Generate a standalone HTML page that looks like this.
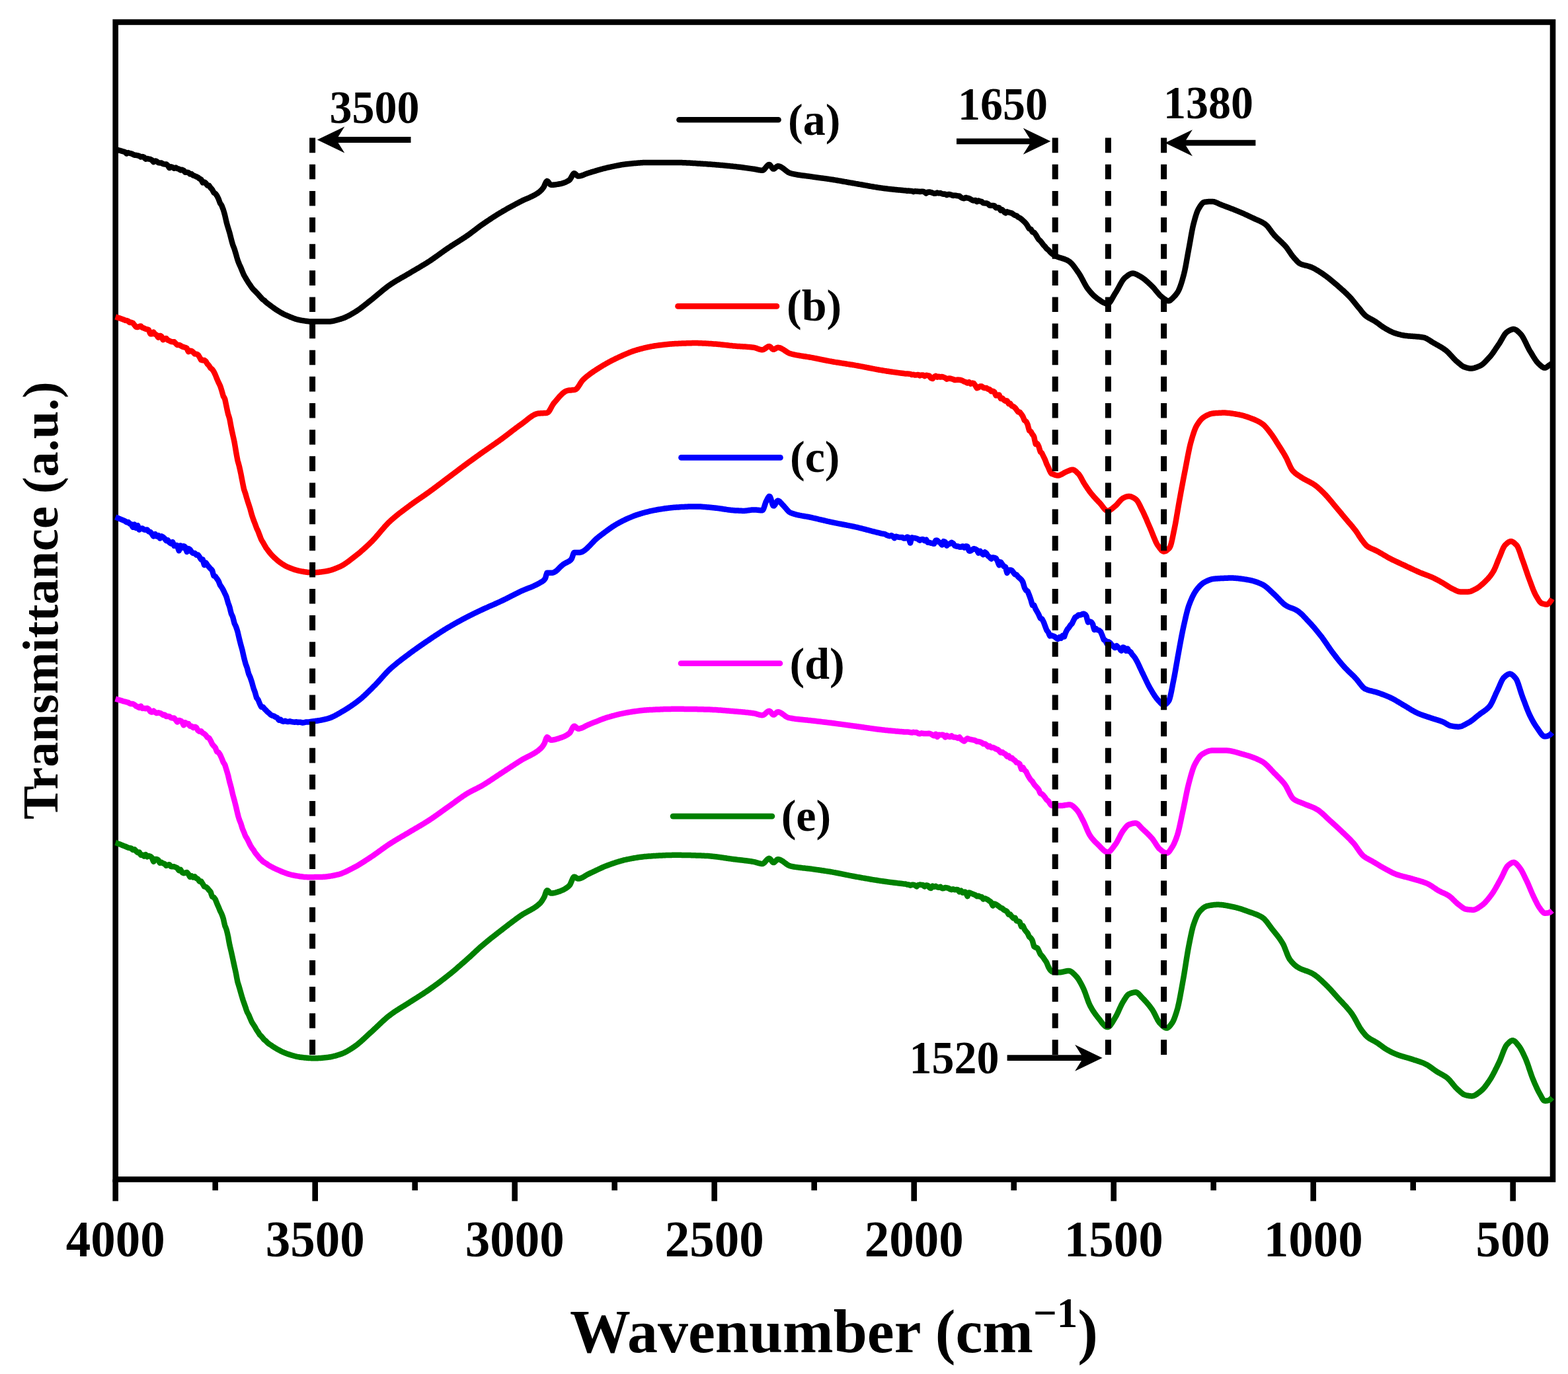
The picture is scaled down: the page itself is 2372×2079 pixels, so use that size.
<!DOCTYPE html>
<html lang="en">
<head>
<meta charset="utf-8">
<title>FTIR spectra</title>
<style>
html,body{margin:0;padding:0;background:#fff;}
body{width:2372px;height:2079px;overflow:hidden;}
svg{display:block;}
text{font-family:'Liberation Serif',serif;font-weight:bold;}
</style>
</head>
<body>
<svg width="2372" height="2079" viewBox="0 0 2372 2079">
<rect x="0" y="0" width="2372" height="2079" fill="#ffffff"/>
<rect x="174.7" y="33.5" width="2174.3" height="1751.0" fill="none" stroke="#000" stroke-width="8.6"/>
<g fill="none" stroke-width="8.5" stroke-linejoin="round" stroke-linecap="butt">
<path stroke="#000000" d="M174.7,225.9 L175.9,226.2 L177.1,226.6 L178.3,226.9 L179.5,227.3 L180.7,227.6 L181.9,227.9 L183.1,228.3 L184.3,228.6 L185.5,229.0 L186.7,229.3 L187.9,229.6 L189.1,230.1 L190.3,231.2 L191.5,232.4 L192.7,231.8 L193.9,231.1 L195.1,231.5 L196.3,231.8 L197.5,232.1 L198.7,232.4 L199.9,233.0 L201.1,233.5 L202.3,234.1 L203.5,234.7 L204.7,234.7 L205.9,234.8 L207.1,235.1 L208.3,235.3 L209.5,235.6 L210.7,236.0 L211.9,236.8 L213.1,237.5 L214.3,237.2 L215.5,237.1 L216.7,237.3 L217.9,237.8 L219.1,239.4 L220.3,240.6 L221.5,240.2 L222.7,239.9 L223.9,240.3 L225.1,240.6 L226.3,240.7 L227.5,240.9 L228.7,241.6 L229.9,242.4 L231.1,243.9 L232.3,245.0 L233.5,244.1 L234.7,243.4 L235.9,243.7 L237.1,244.2 L238.3,245.2 L239.5,246.1 L240.7,246.4 L241.9,246.6 L243.1,246.5 L244.3,246.6 L245.5,247.4 L246.7,248.1 L247.9,248.3 L249.1,248.4 L250.3,248.4 L251.5,248.5 L252.7,249.4 L253.9,250.4 L255.1,252.5 L256.3,254.1 L257.5,253.1 L258.7,252.3 L259.9,252.6 L261.1,253.1 L262.3,254.1 L263.5,254.8 L264.7,254.1 L265.9,253.6 L267.1,254.4 L268.3,255.1 L269.5,255.4 L270.7,255.7 L271.9,256.7 L273.1,257.4 L274.3,257.0 L275.5,256.8 L276.7,257.3 L277.9,258.0 L279.1,259.5 L280.3,260.8 L281.5,260.8 L282.7,260.8 L283.9,260.8 L285.1,261.1 L286.3,262.4 L287.5,263.4 L288.7,263.2 L289.9,263.3 L291.1,264.4 L292.3,265.4 L293.5,265.8 L294.7,266.2 L295.9,266.8 L297.1,267.4 L298.3,267.8 L299.5,268.3 L300.7,269.5 L301.9,270.5 L303.1,270.9 L304.3,271.6 L305.5,274.2 L306.7,276.3 L307.9,275.8 L309.1,275.5 L310.3,276.2 L311.5,277.2 L312.7,279.2 L313.9,280.8 L315.1,280.6 L316.3,280.8 L317.5,282.6 L318.7,284.4 L319.9,285.5 L321.1,286.9 L322.3,289.3 L323.5,291.5 L324.7,292.2 L325.9,293.0 L327.1,294.6 L328.3,296.4 L329.5,298.7 L330.7,301.3 L331.9,304.6 L333.1,307.7 L334.3,309.3 L335.5,311.2 L336.7,314.4 L337.9,317.6 L339.1,321.6 L340.3,326.1 L341.5,331.4 L342.7,336.6 L343.9,340.9 L345.1,344.9 L346.3,348.7 L347.5,352.7 L348.7,357.5 L349.9,362.3 L351.1,366.8 L352.3,370.9 L353.5,373.8 L354.7,377.0 L355.9,381.0 L357.1,385.0 L358.3,389.4 L359.5,393.4 L360.7,396.7 L361.9,399.7 L363.1,402.3 L364.3,404.9 L365.5,407.9 L366.7,410.8 L367.9,413.7 L369.1,416.4 L370.3,418.5 L371.5,420.5 L372.7,422.6 L373.9,424.6 L375.1,426.5 L376.3,428.4 L377.5,430.1 L378.7,431.8 L379.9,433.6 L381.1,435.3 L382.3,436.8 L383.5,438.2 L384.7,439.4 L385.9,440.5 L387.1,441.8 L388.3,443.1 L389.5,444.3 L390.7,445.6 L391.9,447.0 L393.1,448.3 L394.3,449.7 L395.5,451.0 L396.7,452.2 L397.9,453.4 L399.1,454.1 L400.3,455.0 L401.5,456.3 L402.7,457.4 L403.9,458.4 L405.1,459.3 L406.3,460.2 L407.5,461.1 L408.7,462.0 L409.9,462.9 L411.1,463.8 L412.3,464.7 L413.5,465.6 L414.7,466.4 L415.9,467.3 L417.1,468.1 L418.3,468.9 L419.5,469.7 L420.7,470.4 L421.9,471.2 L423.1,471.9 L424.3,472.6 L425.5,473.3 L426.7,473.9 L427.9,474.6 L429.1,475.2 L430.3,475.8 L431.5,476.3 L432.7,476.8 L433.9,477.4 L435.1,477.9 L436.3,478.4 L437.5,478.9 L438.7,479.5 L439.9,479.9 L441.1,480.4 L442.3,480.9 L443.5,481.3 L444.7,481.8 L445.9,482.2 L447.1,482.6 L448.3,483.0 L449.5,483.3 L450.7,483.6 L451.9,483.9 L453.1,484.2 L454.3,484.4 L455.5,484.7 L456.7,484.9 L457.9,485.1 L459.1,485.2 L460.3,485.4 L461.5,485.6 L462.7,485.8 L463.9,486.0 L465.1,486.1 L466.3,486.2 L467.5,486.4 L468.7,486.4 L469.9,486.5 L471.1,486.6 L472.3,486.6 L473.5,486.6 L474.7,486.6 L475.9,486.6 L477.1,486.6 L478.3,486.6 L479.5,486.6 L480.7,486.6 L481.9,486.6 L483.1,486.6 L484.3,486.6 L485.5,486.6 L486.7,486.6 L487.9,486.6 L489.1,486.6 L490.3,486.6 L491.5,486.6 L492.7,486.6 L493.9,486.6 L495.1,486.6 L496.3,486.6 L497.5,486.6 L498.7,486.5 L499.9,486.4 L501.1,486.2 L502.3,486.1 L503.5,485.8 L504.7,485.6 L505.9,485.3 L507.1,485.0 L508.3,484.7 L509.5,484.4 L510.7,484.0 L511.9,483.7 L513.1,483.3 L514.3,483.0 L515.5,482.6 L516.7,482.2 L517.9,481.9 L519.1,481.4 L520.3,481.0 L521.5,480.5 L522.7,480.0 L523.9,479.4 L525.1,478.8 L526.3,478.2 L527.5,477.6 L528.7,477.0 L529.9,476.3 L531.1,475.6 L532.3,474.9 L533.5,474.3 L534.7,473.5 L535.9,472.8 L537.1,472.1 L538.3,471.4 L539.5,470.6 L540.7,469.8 L541.9,469.0 L543.1,468.2 L544.3,467.3 L545.5,466.4 L546.7,465.5 L547.9,464.6 L549.1,463.7 L550.3,462.7 L551.5,461.8 L552.7,460.8 L553.9,459.9 L555.1,458.9 L556.3,457.9 L557.5,457.0 L558.7,456.0 L559.9,455.1 L561.1,454.2 L562.3,453.2 L563.5,452.3 L564.7,451.3 L565.9,450.3 L567.1,449.3 L568.3,448.3 L569.5,447.3 L570.7,446.3 L571.9,445.3 L573.1,444.3 L574.3,443.3 L575.5,442.3 L576.7,441.3 L577.9,440.3 L579.1,439.3 L580.3,438.3 L581.5,437.3 L582.7,436.4 L583.9,435.5 L585.1,434.5 L586.3,433.6 L587.5,432.7 L588.7,431.9 L589.9,431.0 L591.1,430.2 L592.3,429.4 L593.5,428.6 L594.7,427.9 L595.9,427.1 L597.1,426.4 L598.3,425.6 L599.5,424.9 L600.7,424.2 L601.9,423.5 L603.1,422.8 L604.3,422.1 L605.5,421.4 L606.7,420.7 L607.9,420.0 L609.1,419.3 L610.3,418.6 L611.5,418.0 L612.7,417.3 L613.9,416.6 L615.1,415.9 L616.3,415.2 L617.5,414.5 L618.7,413.8 L619.9,413.1 L621.1,412.3 L622.3,411.6 L623.5,410.9 L624.7,410.2 L625.9,409.5 L627.1,408.8 L628.3,408.1 L629.5,407.4 L630.7,406.7 L631.9,406.0 L633.1,405.3 L634.3,404.6 L635.5,403.9 L636.7,403.2 L637.9,402.4 L639.1,401.7 L640.3,401.0 L641.5,400.3 L642.7,399.5 L643.9,398.8 L645.1,398.1 L646.3,397.3 L647.5,396.5 L648.7,395.8 L649.9,395.0 L651.1,394.2 L652.3,393.4 L653.5,392.6 L654.7,391.7 L655.9,390.9 L657.1,390.1 L658.3,389.2 L659.5,388.4 L660.7,387.5 L661.9,386.7 L663.1,385.8 L664.3,384.9 L665.5,384.1 L666.7,383.2 L667.9,382.3 L669.1,381.5 L670.3,380.6 L671.5,379.7 L672.7,378.9 L673.9,378.1 L675.1,377.2 L676.3,376.4 L677.5,375.6 L678.7,374.8 L679.9,374.0 L681.1,373.2 L682.3,372.4 L683.5,371.6 L684.7,370.8 L685.9,370.1 L687.1,369.3 L688.3,368.5 L689.5,367.8 L690.7,367.0 L691.9,366.3 L693.1,365.5 L694.3,364.8 L695.5,364.0 L696.7,363.2 L697.9,362.5 L699.1,361.7 L700.3,360.9 L701.5,360.1 L702.7,359.4 L703.9,358.6 L705.1,357.7 L706.3,356.9 L707.5,356.1 L708.7,355.3 L709.9,354.4 L711.1,353.5 L712.3,352.6 L713.5,351.7 L714.7,350.8 L715.9,349.9 L717.1,349.0 L718.3,348.1 L719.5,347.2 L720.7,346.2 L721.9,345.3 L723.1,344.4 L724.3,343.5 L725.5,342.6 L726.7,341.7 L727.9,340.9 L729.1,340.0 L730.3,339.2 L731.5,338.4 L732.7,337.6 L733.9,336.7 L735.1,335.9 L736.3,335.1 L737.5,334.3 L738.7,333.5 L739.9,332.7 L741.1,331.9 L742.3,331.1 L743.5,330.3 L744.7,329.5 L745.9,328.7 L747.1,328.0 L748.3,327.2 L749.5,326.5 L750.7,325.7 L751.9,324.9 L753.1,324.2 L754.3,323.5 L755.5,322.7 L756.7,322.0 L757.9,321.3 L759.1,320.6 L760.3,319.9 L761.5,319.1 L762.7,318.5 L763.9,317.8 L765.1,317.1 L766.3,316.4 L767.5,315.7 L768.7,315.0 L769.9,314.4 L771.1,313.7 L772.3,313.1 L773.5,312.4 L774.7,311.8 L775.9,311.1 L777.1,310.5 L778.3,309.8 L779.5,309.2 L780.7,308.5 L781.9,307.9 L783.1,307.3 L784.3,306.6 L785.5,306.0 L786.7,305.4 L787.9,304.8 L789.1,304.1 L790.3,303.5 L791.5,303.0 L792.7,302.4 L793.9,301.9 L795.1,301.4 L796.3,300.8 L797.5,300.3 L798.7,299.8 L799.9,299.3 L801.1,298.8 L802.3,298.2 L803.5,297.7 L804.7,297.1 L805.9,296.5 L807.1,295.9 L808.3,295.3 L809.5,294.6 L810.7,293.9 L811.9,293.2 L813.1,292.4 L814.3,291.6 L815.5,290.7 L816.7,289.7 L817.9,288.6 L819.1,287.4 L820.3,286.0 L821.5,284.6 L822.7,282.7 L823.9,280.0 L825.1,277.2 L826.3,274.9 L827.5,273.9 L828.7,274.4 L829.9,275.9 L831.1,277.7 L832.3,279.2 L833.5,279.8 L834.7,279.8 L835.9,279.7 L837.1,279.7 L838.3,279.5 L839.5,279.4 L840.7,279.3 L841.9,279.1 L843.1,278.9 L844.3,278.7 L845.5,278.5 L846.7,278.3 L847.9,278.1 L849.1,277.8 L850.3,277.5 L851.5,277.1 L852.7,276.7 L853.9,276.3 L855.1,275.8 L856.3,275.3 L857.5,274.7 L858.7,274.0 L859.9,273.4 L861.1,272.6 L862.3,271.5 L863.5,269.6 L864.7,267.4 L865.9,265.1 L867.1,263.3 L868.3,262.3 L869.5,262.4 L870.7,263.4 L871.9,264.7 L873.1,265.9 L874.3,266.6 L875.5,266.6 L876.7,266.4 L877.9,266.2 L879.1,265.9 L880.3,265.5 L881.5,265.1 L882.7,264.7 L883.9,264.2 L885.1,263.7 L886.3,263.2 L887.5,262.7 L888.7,262.3 L889.9,261.8 L891.1,261.5 L892.3,261.1 L893.5,260.8 L894.7,260.4 L895.9,260.0 L897.1,259.7 L898.3,259.3 L899.5,259.0 L900.7,258.6 L901.9,258.2 L903.1,257.9 L904.3,257.5 L905.5,257.2 L906.7,256.8 L907.9,256.5 L909.1,256.2 L910.3,255.8 L911.5,255.5 L912.7,255.2 L913.9,254.9 L915.1,254.6 L916.3,254.3 L917.5,254.0 L918.7,253.7 L919.9,253.4 L921.1,253.2 L922.3,252.9 L923.5,252.7 L924.7,252.4 L925.9,252.1 L927.1,251.9 L928.3,251.6 L929.5,251.4 L930.7,251.1 L931.9,250.9 L933.1,250.6 L934.3,250.4 L935.5,250.2 L936.7,250.0 L937.9,249.7 L939.1,249.5 L940.3,249.3 L941.5,249.1 L942.7,249.0 L943.9,248.8 L945.1,248.6 L946.3,248.5 L947.5,248.3 L948.7,248.2 L949.9,248.0 L951.1,247.9 L952.3,247.8 L953.5,247.7 L954.7,247.6 L955.9,247.4 L957.1,247.3 L958.3,247.2 L959.5,247.1 L960.7,247.0 L961.9,246.9 L963.1,246.8 L964.3,246.7 L965.5,246.6 L966.7,246.5 L967.9,246.4 L969.1,246.3 L970.3,246.2 L971.5,246.2 L972.7,246.1 L973.9,246.1 L975.1,246.0 L976.3,246.0 L977.5,246.0 L978.7,246.0 L979.9,246.0 L981.1,246.0 L982.3,246.0 L983.5,246.0 L984.7,246.0 L985.9,246.0 L987.1,246.0 L988.3,246.0 L989.5,246.0 L990.7,246.0 L991.9,246.0 L993.1,246.0 L994.3,246.0 L995.5,246.0 L996.7,246.0 L997.9,246.0 L999.1,246.0 L1000.3,246.0 L1001.5,246.0 L1002.7,246.0 L1003.9,246.0 L1005.1,246.0 L1006.3,246.0 L1007.5,246.0 L1008.7,246.0 L1009.9,246.0 L1011.1,246.0 L1012.3,246.0 L1013.5,246.0 L1014.7,246.0 L1015.9,246.0 L1017.1,246.0 L1018.3,246.0 L1019.5,246.0 L1020.7,246.0 L1021.9,246.0 L1023.1,246.0 L1024.3,246.0 L1025.5,246.0 L1026.7,246.0 L1027.9,246.0 L1029.1,246.1 L1030.3,246.1 L1031.5,246.1 L1032.7,246.2 L1033.9,246.2 L1035.1,246.2 L1036.3,246.3 L1037.5,246.3 L1038.7,246.4 L1039.9,246.5 L1041.1,246.5 L1042.3,246.6 L1043.5,246.6 L1044.7,246.7 L1045.9,246.8 L1047.1,246.8 L1048.3,246.9 L1049.5,247.0 L1050.7,247.1 L1051.9,247.1 L1053.1,247.2 L1054.3,247.3 L1055.5,247.4 L1056.7,247.5 L1057.9,247.5 L1059.1,247.6 L1060.3,247.7 L1061.5,247.8 L1062.7,247.8 L1063.9,247.9 L1065.1,248.0 L1066.3,248.1 L1067.5,248.1 L1068.7,248.2 L1069.9,248.3 L1071.1,248.4 L1072.3,248.5 L1073.5,248.5 L1074.7,248.6 L1075.9,248.7 L1077.1,248.8 L1078.3,248.9 L1079.5,249.0 L1080.7,249.1 L1081.9,249.2 L1083.1,249.3 L1084.3,249.4 L1085.5,249.5 L1086.7,249.6 L1087.9,249.7 L1089.1,249.8 L1090.3,249.9 L1091.5,250.0 L1092.7,250.1 L1093.9,250.2 L1095.1,250.3 L1096.3,250.4 L1097.5,250.6 L1098.7,250.7 L1099.9,250.8 L1101.1,250.9 L1102.3,251.0 L1103.5,251.1 L1104.7,251.3 L1105.9,251.4 L1107.1,251.5 L1108.3,251.6 L1109.5,251.8 L1110.7,251.9 L1111.9,252.0 L1113.1,252.1 L1114.3,252.3 L1115.5,252.4 L1116.7,252.6 L1117.9,252.7 L1119.1,252.8 L1120.3,253.0 L1121.5,253.1 L1122.7,253.3 L1123.9,253.5 L1125.1,253.6 L1126.3,253.8 L1127.5,253.9 L1128.7,254.1 L1129.9,254.3 L1131.1,254.4 L1132.3,254.6 L1133.5,254.8 L1134.7,254.9 L1135.9,255.1 L1137.1,255.3 L1138.3,255.4 L1139.5,255.6 L1140.7,255.8 L1141.9,256.0 L1143.1,256.2 L1144.3,256.5 L1145.5,256.7 L1146.7,257.0 L1147.9,257.2 L1149.1,257.4 L1150.3,257.6 L1151.5,257.7 L1152.7,257.8 L1153.9,257.7 L1155.1,257.1 L1156.3,256.0 L1157.5,254.6 L1158.7,253.1 L1159.9,251.6 L1161.1,250.3 L1162.3,249.4 L1163.5,249.0 L1164.7,249.5 L1165.9,250.9 L1167.1,252.7 L1168.3,254.4 L1169.5,255.5 L1170.7,255.6 L1171.9,254.9 L1173.1,253.8 L1174.3,252.7 L1175.5,251.7 L1176.7,251.3 L1177.9,251.4 L1179.1,251.7 L1180.3,252.1 L1181.5,252.7 L1182.7,253.4 L1183.9,254.3 L1185.1,255.1 L1186.3,256.1 L1187.5,257.0 L1188.7,258.0 L1189.9,258.9 L1191.1,259.8 L1192.3,260.6 L1193.5,261.2 L1194.7,261.8 L1195.9,262.2 L1197.1,262.5 L1198.3,262.8 L1199.5,263.1 L1200.7,263.3 L1201.9,263.6 L1203.1,263.8 L1204.3,264.0 L1205.5,264.3 L1206.7,264.5 L1207.9,264.7 L1209.1,264.8 L1210.3,265.0 L1211.5,265.2 L1212.7,265.4 L1213.9,265.5 L1215.1,265.7 L1216.3,265.8 L1217.5,266.0 L1218.7,266.1 L1219.9,266.3 L1221.1,266.4 L1222.3,266.6 L1223.5,266.7 L1224.7,266.9 L1225.9,267.1 L1227.1,267.2 L1228.3,267.4 L1229.5,267.6 L1230.7,267.8 L1231.9,267.9 L1233.1,268.1 L1234.3,268.3 L1235.5,268.4 L1236.7,268.6 L1237.9,268.8 L1239.1,268.9 L1240.3,269.1 L1241.5,269.3 L1242.7,269.4 L1243.9,269.6 L1245.1,269.7 L1246.3,269.9 L1247.5,270.1 L1248.7,270.2 L1249.9,270.4 L1251.1,270.6 L1252.3,270.7 L1253.5,270.9 L1254.7,271.1 L1255.9,271.3 L1257.1,271.4 L1258.3,271.6 L1259.5,271.8 L1260.7,272.0 L1261.9,272.2 L1263.1,272.4 L1264.3,272.6 L1265.5,272.8 L1266.7,273.0 L1267.9,273.2 L1269.1,273.4 L1270.3,273.6 L1271.5,273.8 L1272.7,274.0 L1273.9,274.3 L1275.1,274.5 L1276.3,274.7 L1277.5,274.9 L1278.7,275.1 L1279.9,275.3 L1281.1,275.5 L1282.3,275.8 L1283.5,276.0 L1284.7,276.2 L1285.9,276.4 L1287.1,276.6 L1288.3,276.8 L1289.5,277.0 L1290.7,277.2 L1291.9,277.4 L1293.1,277.6 L1294.3,277.9 L1295.5,278.1 L1296.7,278.3 L1297.9,278.5 L1299.1,278.7 L1300.3,278.9 L1301.5,279.1 L1302.7,279.3 L1303.9,279.5 L1305.1,279.7 L1306.3,280.0 L1307.5,280.2 L1308.7,280.4 L1309.9,280.6 L1311.1,280.8 L1312.3,281.0 L1313.5,281.3 L1314.7,281.5 L1315.9,281.7 L1317.1,281.9 L1318.3,282.1 L1319.5,282.3 L1320.7,282.5 L1321.9,282.7 L1323.1,282.9 L1324.3,283.1 L1325.5,283.3 L1326.7,283.5 L1327.9,283.7 L1329.1,283.9 L1330.3,284.0 L1331.5,284.2 L1332.7,284.4 L1333.9,284.6 L1335.1,284.7 L1336.3,284.9 L1337.5,285.0 L1338.7,285.2 L1339.9,285.3 L1341.1,285.5 L1342.3,285.6 L1343.5,285.8 L1344.7,285.9 L1345.9,286.0 L1347.1,286.2 L1348.3,286.3 L1349.5,286.4 L1350.7,286.5 L1351.9,286.7 L1353.1,286.8 L1354.3,286.9 L1355.5,287.0 L1356.7,287.2 L1357.9,287.3 L1359.1,287.4 L1360.3,287.5 L1361.5,287.6 L1362.7,287.7 L1363.9,287.8 L1365.1,288.0 L1366.3,288.1 L1367.5,288.2 L1368.7,288.2 L1369.9,288.3 L1371.1,288.6 L1372.3,288.9 L1373.5,288.7 L1374.7,288.6 L1375.9,288.8 L1377.1,289.1 L1378.3,289.1 L1379.5,289.1 L1380.7,289.7 L1381.9,290.2 L1383.1,289.7 L1384.3,289.2 L1385.5,289.4 L1386.7,289.5 L1387.9,289.6 L1389.1,289.7 L1390.3,289.8 L1391.5,290.0 L1392.7,289.9 L1393.9,289.7 L1395.1,289.7 L1396.3,289.7 L1397.5,290.1 L1398.7,290.6 L1399.9,291.8 L1401.1,292.6 L1402.3,291.6 L1403.5,290.8 L1404.7,290.6 L1405.9,290.5 L1407.1,290.7 L1408.3,291.0 L1409.5,291.4 L1410.7,291.8 L1411.9,292.3 L1413.1,292.7 L1414.3,292.7 L1415.5,292.6 L1416.7,292.0 L1417.9,291.6 L1419.1,292.1 L1420.3,292.4 L1421.5,292.2 L1422.7,292.1 L1423.9,292.7 L1425.1,293.3 L1426.3,293.5 L1427.5,293.7 L1428.7,293.6 L1429.9,293.7 L1431.1,294.5 L1432.3,295.1 L1433.5,294.5 L1434.7,294.0 L1435.9,294.0 L1437.1,294.2 L1438.3,294.6 L1439.5,295.0 L1440.7,295.6 L1441.9,296.0 L1443.1,295.8 L1444.3,295.6 L1445.5,295.8 L1446.7,296.0 L1447.9,296.2 L1449.1,296.5 L1450.3,296.5 L1451.5,296.7 L1452.7,297.8 L1453.9,298.8 L1455.1,299.4 L1456.3,299.9 L1457.5,300.2 L1458.7,300.3 L1459.9,299.5 L1461.1,298.9 L1462.3,299.3 L1463.5,299.6 L1464.7,299.8 L1465.9,300.1 L1467.1,300.7 L1468.3,301.4 L1469.5,302.2 L1470.7,302.9 L1471.9,303.3 L1473.1,303.6 L1474.3,303.1 L1475.5,302.9 L1476.7,304.2 L1477.9,305.2 L1479.1,304.2 L1480.3,303.5 L1481.5,304.1 L1482.7,304.6 L1483.9,304.7 L1485.1,305.1 L1486.3,306.3 L1487.5,307.3 L1488.7,307.3 L1489.9,307.4 L1491.1,307.4 L1492.3,307.5 L1493.5,308.0 L1494.7,308.6 L1495.9,309.8 L1497.1,310.9 L1498.3,311.1 L1499.5,311.1 L1500.7,311.0 L1501.9,311.0 L1503.1,311.0 L1504.3,311.3 L1505.5,313.0 L1506.7,314.4 L1507.9,314.3 L1509.1,314.2 L1510.3,314.0 L1511.5,314.3 L1512.7,316.6 L1513.9,318.4 L1515.1,317.7 L1516.3,317.4 L1517.5,318.8 L1518.7,320.2 L1519.9,321.5 L1521.1,322.3 L1522.3,321.2 L1523.5,320.4 L1524.7,320.9 L1525.9,321.4 L1527.1,321.7 L1528.3,322.0 L1529.5,322.2 L1530.7,322.6 L1531.9,323.5 L1533.1,324.3 L1534.3,325.2 L1535.5,325.9 L1536.7,326.1 L1537.9,326.5 L1539.1,327.6 L1540.3,328.7 L1541.5,329.2 L1542.7,329.8 L1543.9,330.6 L1545.1,331.5 L1546.3,332.6 L1547.5,333.7 L1548.7,334.8 L1549.9,335.9 L1551.1,337.2 L1552.3,338.6 L1553.5,340.3 L1554.7,342.2 L1555.9,344.4 L1557.1,346.3 L1558.3,346.3 L1559.5,346.8 L1560.7,349.1 L1561.9,351.2 L1563.1,351.3 L1564.3,351.7 L1565.5,353.2 L1566.7,354.8 L1567.9,356.8 L1569.1,358.9 L1570.3,360.9 L1571.5,362.6 L1572.7,363.6 L1573.9,364.7 L1575.1,366.2 L1576.3,367.7 L1577.5,369.4 L1578.7,370.9 L1579.9,372.1 L1581.1,373.4 L1582.3,375.0 L1583.5,376.4 L1584.7,377.2 L1585.9,378.2 L1587.1,379.6 L1588.3,381.0 L1589.5,382.2 L1590.7,383.3 L1591.9,384.3 L1593.1,385.2 L1594.3,386.0 L1595.5,386.7 L1596.7,387.4 L1597.9,387.9 L1599.1,388.4 L1600.3,388.8 L1601.5,389.3 L1602.7,389.7 L1603.9,390.0 L1605.1,390.4 L1606.3,390.7 L1607.5,391.1 L1608.7,391.5 L1609.9,391.9 L1611.1,392.3 L1612.3,392.8 L1613.5,393.3 L1614.7,393.9 L1615.9,394.6 L1617.1,395.3 L1618.3,396.2 L1619.5,397.2 L1620.7,398.4 L1621.9,399.7 L1623.1,401.1 L1624.3,402.6 L1625.5,404.2 L1626.7,405.9 L1627.9,407.6 L1629.1,409.3 L1630.3,411.0 L1631.5,412.7 L1632.7,414.5 L1633.9,416.5 L1635.1,418.5 L1636.3,420.7 L1637.5,423.0 L1638.7,425.3 L1639.9,427.6 L1641.1,429.8 L1642.3,431.9 L1643.5,433.9 L1644.7,435.8 L1645.9,437.4 L1647.1,438.9 L1648.3,440.4 L1649.5,441.8 L1650.7,443.2 L1651.9,444.5 L1653.1,445.7 L1654.3,446.9 L1655.5,448.1 L1656.7,449.1 L1657.9,450.1 L1659.1,451.1 L1660.3,452.0 L1661.5,452.8 L1662.7,453.6 L1663.9,454.4 L1665.1,455.3 L1666.3,456.1 L1667.5,456.8 L1668.7,457.5 L1669.9,458.2 L1671.1,458.7 L1672.3,459.2 L1673.5,459.5 L1674.7,459.7 L1675.9,459.7 L1677.1,459.2 L1678.3,458.1 L1679.5,456.6 L1680.7,454.8 L1681.9,452.8 L1683.1,450.6 L1684.3,448.4 L1685.5,446.3 L1686.7,444.3 L1687.9,442.4 L1689.1,440.5 L1690.3,438.4 L1691.5,436.2 L1692.7,434.0 L1693.9,431.8 L1695.1,429.6 L1696.3,427.5 L1697.5,425.5 L1698.7,423.7 L1699.9,422.1 L1701.1,420.8 L1702.3,419.8 L1703.5,418.8 L1704.7,417.9 L1705.9,416.9 L1707.1,416.1 L1708.3,415.3 L1709.5,414.7 L1710.7,414.2 L1711.9,413.8 L1713.1,413.6 L1714.3,413.6 L1715.5,413.8 L1716.7,414.1 L1717.9,414.6 L1719.1,415.1 L1720.3,415.7 L1721.5,416.4 L1722.7,417.1 L1723.9,417.7 L1725.1,418.4 L1726.3,419.1 L1727.5,419.9 L1728.7,420.7 L1729.9,421.5 L1731.1,422.5 L1732.3,423.4 L1733.5,424.5 L1734.7,425.5 L1735.9,426.6 L1737.1,427.7 L1738.3,428.8 L1739.5,429.9 L1740.7,431.1 L1741.9,432.2 L1743.1,433.4 L1744.3,434.6 L1745.5,435.9 L1746.7,437.3 L1747.9,438.8 L1749.1,440.3 L1750.3,441.7 L1751.5,443.2 L1752.7,444.6 L1753.9,446.0 L1755.1,447.2 L1756.3,448.3 L1757.5,449.3 L1758.7,450.2 L1759.9,451.2 L1761.1,452.1 L1762.3,453.0 L1763.5,453.8 L1764.7,454.5 L1765.9,455.0 L1767.1,455.2 L1768.3,455.3 L1769.5,454.9 L1770.7,454.1 L1771.9,453.1 L1773.1,451.9 L1774.3,450.7 L1775.5,449.5 L1776.7,448.3 L1777.9,447.0 L1779.1,445.5 L1780.3,443.9 L1781.5,442.1 L1782.7,440.0 L1783.9,437.4 L1785.1,434.4 L1786.3,431.0 L1787.5,427.2 L1788.7,423.2 L1789.9,418.8 L1791.1,414.3 L1792.3,409.2 L1793.5,403.3 L1794.7,396.8 L1795.9,390.0 L1797.1,383.3 L1798.3,376.7 L1799.5,370.2 L1800.7,363.5 L1801.9,356.6 L1803.1,350.1 L1804.3,344.0 L1805.5,338.8 L1806.7,334.3 L1807.9,330.0 L1809.1,326.0 L1810.3,322.4 L1811.5,319.3 L1812.7,316.7 L1813.9,314.7 L1815.1,312.7 L1816.3,310.9 L1817.5,309.2 L1818.7,307.8 L1819.9,306.7 L1821.1,306.0 L1822.3,305.7 L1823.5,305.6 L1824.7,305.4 L1825.9,305.3 L1827.1,305.2 L1828.3,305.1 L1829.5,305.0 L1830.7,305.0 L1831.9,304.9 L1833.1,304.9 L1834.3,304.9 L1835.5,305.1 L1836.7,305.3 L1837.9,305.7 L1839.1,306.1 L1840.3,306.6 L1841.5,307.1 L1842.7,307.7 L1843.9,308.3 L1845.1,308.8 L1846.3,309.4 L1847.5,309.9 L1848.7,310.3 L1849.9,310.8 L1851.1,311.2 L1852.3,311.7 L1853.5,312.1 L1854.7,312.6 L1855.9,313.0 L1857.1,313.5 L1858.3,313.9 L1859.5,314.4 L1860.7,314.8 L1861.9,315.3 L1863.1,315.8 L1864.3,316.2 L1865.5,316.7 L1866.7,317.2 L1867.9,317.6 L1869.1,318.1 L1870.3,318.6 L1871.5,319.1 L1872.7,319.6 L1873.9,320.1 L1875.1,320.6 L1876.3,321.1 L1877.5,321.6 L1878.7,322.1 L1879.9,322.7 L1881.1,323.2 L1882.3,323.7 L1883.5,324.3 L1884.7,324.8 L1885.9,325.4 L1887.1,325.9 L1888.3,326.5 L1889.5,327.1 L1890.7,327.6 L1891.9,328.2 L1893.1,328.8 L1894.3,329.4 L1895.5,329.9 L1896.7,330.5 L1897.9,331.0 L1899.1,331.6 L1900.3,332.1 L1901.5,332.6 L1902.7,333.1 L1903.9,333.7 L1905.1,334.2 L1906.3,334.8 L1907.5,335.4 L1908.7,336.0 L1909.9,336.7 L1911.1,337.4 L1912.3,338.1 L1913.5,338.9 L1914.7,339.8 L1915.9,340.9 L1917.1,342.1 L1918.3,343.5 L1919.5,345.1 L1920.7,346.7 L1921.9,348.3 L1923.1,350.0 L1924.3,351.6 L1925.5,353.2 L1926.7,354.7 L1927.9,356.0 L1929.1,357.3 L1930.3,358.5 L1931.5,359.7 L1932.7,360.9 L1933.9,362.0 L1935.1,363.1 L1936.3,364.3 L1937.5,365.4 L1938.7,366.5 L1939.9,367.7 L1941.1,368.9 L1942.3,370.1 L1943.5,371.4 L1944.7,372.7 L1945.9,374.2 L1947.1,375.7 L1948.3,377.4 L1949.5,379.1 L1950.7,380.9 L1951.9,382.7 L1953.1,384.5 L1954.3,386.1 L1955.5,387.7 L1956.7,389.2 L1957.9,390.5 L1959.1,391.9 L1960.3,393.2 L1961.5,394.5 L1962.7,395.8 L1963.9,396.9 L1965.1,397.9 L1966.3,398.7 L1967.5,399.3 L1968.7,399.8 L1969.9,400.3 L1971.1,400.7 L1972.3,401.0 L1973.5,401.3 L1974.7,401.6 L1975.9,401.9 L1977.1,402.2 L1978.3,402.5 L1979.5,402.8 L1980.7,403.2 L1981.9,403.6 L1983.1,404.0 L1984.3,404.5 L1985.5,405.1 L1986.7,405.6 L1987.9,406.2 L1989.1,406.9 L1990.3,407.6 L1991.5,408.3 L1992.7,409.0 L1993.9,409.7 L1995.1,410.5 L1996.3,411.3 L1997.5,412.0 L1998.7,412.8 L1999.9,413.6 L2001.1,414.4 L2002.3,415.3 L2003.5,416.1 L2004.7,417.0 L2005.9,417.8 L2007.1,418.7 L2008.3,419.7 L2009.5,420.6 L2010.7,421.6 L2011.9,422.5 L2013.1,423.5 L2014.3,424.5 L2015.5,425.5 L2016.7,426.5 L2017.9,427.5 L2019.1,428.5 L2020.3,429.6 L2021.5,430.6 L2022.7,431.6 L2023.9,432.6 L2025.1,433.7 L2026.3,434.7 L2027.5,435.7 L2028.7,436.8 L2029.9,437.9 L2031.1,438.9 L2032.3,440.0 L2033.5,441.1 L2034.7,442.3 L2035.9,443.4 L2037.1,444.5 L2038.3,445.7 L2039.5,446.9 L2040.7,448.1 L2041.9,449.4 L2043.1,450.7 L2044.3,452.0 L2045.5,453.4 L2046.7,454.9 L2047.9,456.3 L2049.1,457.8 L2050.3,459.3 L2051.5,460.8 L2052.7,462.3 L2053.9,463.8 L2055.1,465.3 L2056.3,466.7 L2057.5,468.2 L2058.7,469.7 L2059.9,471.3 L2061.1,472.8 L2062.3,474.2 L2063.5,475.6 L2064.7,476.8 L2065.9,477.8 L2067.1,478.7 L2068.3,479.5 L2069.5,480.3 L2070.7,481.0 L2071.9,481.7 L2073.1,482.3 L2074.3,482.9 L2075.5,483.6 L2076.7,484.2 L2077.9,484.9 L2079.1,485.6 L2080.3,486.3 L2081.5,487.1 L2082.7,488.0 L2083.9,488.8 L2085.1,489.7 L2086.3,490.6 L2087.5,491.5 L2088.7,492.4 L2089.9,493.3 L2091.1,494.1 L2092.3,494.9 L2093.5,495.7 L2094.7,496.4 L2095.9,497.1 L2097.1,497.8 L2098.3,498.5 L2099.5,499.2 L2100.7,499.9 L2101.9,500.5 L2103.1,501.1 L2104.3,501.7 L2105.5,502.2 L2106.7,502.8 L2107.9,503.3 L2109.1,503.7 L2110.3,504.1 L2111.5,504.5 L2112.7,504.9 L2113.9,505.2 L2115.1,505.6 L2116.3,505.9 L2117.5,506.2 L2118.7,506.5 L2119.9,506.8 L2121.1,507.1 L2122.3,507.3 L2123.5,507.5 L2124.7,507.7 L2125.9,507.9 L2127.1,508.0 L2128.3,508.1 L2129.5,508.3 L2130.7,508.4 L2131.9,508.5 L2133.1,508.6 L2134.3,508.7 L2135.5,508.8 L2136.7,508.8 L2137.9,508.9 L2139.1,509.0 L2140.3,509.1 L2141.5,509.2 L2142.7,509.3 L2143.9,509.4 L2145.1,509.5 L2146.3,509.6 L2147.5,509.7 L2148.7,509.9 L2149.9,510.0 L2151.1,510.2 L2152.3,510.4 L2153.5,510.6 L2154.7,510.9 L2155.9,511.3 L2157.1,511.8 L2158.3,512.4 L2159.5,513.1 L2160.7,513.8 L2161.9,514.5 L2163.1,515.3 L2164.3,516.1 L2165.5,516.9 L2166.7,517.7 L2167.9,518.4 L2169.1,519.1 L2170.3,519.7 L2171.5,520.4 L2172.7,521.1 L2173.9,521.8 L2175.1,522.4 L2176.3,523.1 L2177.5,523.8 L2178.7,524.5 L2179.9,525.2 L2181.1,526.0 L2182.3,526.7 L2183.5,527.5 L2184.7,528.4 L2185.9,529.2 L2187.1,530.1 L2188.3,531.1 L2189.5,532.2 L2190.7,533.3 L2191.9,534.5 L2193.1,535.8 L2194.3,537.1 L2195.5,538.4 L2196.7,539.7 L2197.9,541.1 L2199.1,542.3 L2200.3,543.6 L2201.5,544.8 L2202.7,545.9 L2203.9,546.9 L2205.1,548.0 L2206.3,549.0 L2207.5,550.1 L2208.7,551.1 L2209.9,552.1 L2211.1,553.0 L2212.3,553.8 L2213.5,554.5 L2214.7,555.1 L2215.9,555.5 L2217.1,555.9 L2218.3,556.3 L2219.5,556.6 L2220.7,556.9 L2221.9,557.2 L2223.1,557.4 L2224.3,557.5 L2225.5,557.5 L2226.7,557.4 L2227.9,557.3 L2229.1,557.1 L2230.3,556.8 L2231.5,556.4 L2232.7,556.0 L2233.9,555.6 L2235.1,555.1 L2236.3,554.6 L2237.5,554.1 L2238.7,553.6 L2239.9,553.0 L2241.1,552.3 L2242.3,551.4 L2243.5,550.4 L2244.7,549.4 L2245.9,548.3 L2247.1,547.1 L2248.3,545.8 L2249.5,544.6 L2250.7,543.2 L2251.9,541.9 L2253.1,540.6 L2254.3,539.3 L2255.5,537.8 L2256.7,536.3 L2257.9,534.7 L2259.1,533.0 L2260.3,531.3 L2261.5,529.5 L2262.7,527.7 L2263.9,525.9 L2265.1,524.1 L2266.3,522.3 L2267.5,520.6 L2268.7,518.8 L2269.9,516.8 L2271.1,514.7 L2272.3,512.6 L2273.5,510.5 L2274.7,508.4 L2275.9,506.5 L2277.1,504.9 L2278.3,503.5 L2279.5,502.5 L2280.7,501.7 L2281.9,500.9 L2283.1,500.2 L2284.3,499.6 L2285.5,499.0 L2286.7,498.6 L2287.9,498.2 L2289.1,498.0 L2290.3,498.0 L2291.5,498.3 L2292.7,498.8 L2293.9,499.5 L2295.1,500.4 L2296.3,501.5 L2297.5,502.6 L2298.7,503.8 L2299.9,505.0 L2301.1,506.3 L2302.3,507.9 L2303.5,509.8 L2304.7,511.9 L2305.9,514.2 L2307.1,516.6 L2308.3,519.0 L2309.5,521.6 L2310.7,524.0 L2311.9,526.5 L2313.1,528.8 L2314.3,530.9 L2315.5,532.8 L2316.7,534.8 L2317.9,536.8 L2319.1,538.8 L2320.3,540.7 L2321.5,542.6 L2322.7,544.4 L2323.9,546.1 L2325.1,547.7 L2326.3,549.1 L2327.5,550.3 L2328.7,551.4 L2329.9,552.5 L2331.1,553.6 L2332.3,554.6 L2333.5,555.4 L2334.7,556.1 L2335.9,556.5 L2337.1,556.6 L2338.3,556.3 L2339.5,555.7 L2340.7,554.8 L2341.9,553.9 L2343.1,553.0 L2344.3,552.1 L2345.5,551.4 L2346.7,550.6 L2347.9,549.8"/>
<path stroke="#ff0000" d="M174.7,479.4 L175.9,479.8 L177.1,480.2 L178.3,480.6 L179.5,481.0 L180.7,481.4 L181.9,481.8 L183.1,482.2 L184.3,482.6 L185.5,483.1 L186.7,483.5 L187.9,484.0 L189.1,484.7 L190.3,484.9 L191.5,485.0 L192.7,485.4 L193.9,485.9 L195.1,487.0 L196.3,488.1 L197.5,488.0 L198.7,487.8 L199.9,488.3 L201.1,488.9 L202.3,490.4 L203.5,491.9 L204.7,493.4 L205.9,494.8 L207.1,494.9 L208.3,494.9 L209.5,494.5 L210.7,494.0 L211.9,493.6 L213.1,493.5 L214.3,494.8 L215.5,495.9 L216.7,496.2 L217.9,496.6 L219.1,497.2 L220.3,497.8 L221.5,498.0 L222.7,498.3 L223.9,498.6 L225.1,499.4 L226.3,502.6 L227.5,505.2 L228.7,505.4 L229.9,505.2 L231.1,503.7 L232.3,502.6 L233.5,504.3 L234.7,505.8 L235.9,506.2 L237.1,507.0 L238.3,509.1 L239.5,510.7 L240.7,509.1 L241.9,507.9 L243.1,508.2 L244.3,509.0 L245.5,512.0 L246.7,514.3 L247.9,513.3 L249.1,512.5 L250.3,512.1 L251.5,512.1 L252.7,513.5 L253.9,514.7 L255.1,515.2 L256.3,515.7 L257.5,516.3 L258.7,516.8 L259.9,517.1 L261.1,517.3 L262.3,517.2 L263.5,517.3 L264.7,518.5 L265.9,519.7 L267.1,520.9 L268.3,521.9 L269.5,521.9 L270.7,521.9 L271.9,522.3 L273.1,522.9 L274.3,523.7 L275.5,524.4 L276.7,524.8 L277.9,525.1 L279.1,525.5 L280.3,525.8 L281.5,526.2 L282.7,527.0 L283.9,530.0 L285.1,532.3 L286.3,531.4 L287.5,530.7 L288.7,530.8 L289.9,531.1 L291.1,532.0 L292.3,533.0 L293.5,534.4 L294.7,535.5 L295.9,535.6 L297.1,535.7 L298.3,536.1 L299.5,536.8 L300.7,538.5 L301.9,540.4 L303.1,542.7 L304.3,544.7 L305.5,545.0 L306.7,545.2 L307.9,545.0 L309.1,545.0 L310.3,545.9 L311.5,547.0 L312.7,549.0 L313.9,550.9 L315.1,552.0 L316.3,553.4 L317.5,555.4 L318.7,557.2 L319.9,557.9 L321.1,558.8 L322.3,560.6 L323.5,562.5 L324.7,564.9 L325.9,567.5 L327.1,570.5 L328.3,573.6 L329.5,576.3 L330.7,579.0 L331.9,581.3 L333.1,583.8 L334.3,587.4 L335.5,591.3 L336.7,595.6 L337.9,599.8 L339.1,601.5 L340.3,604.1 L341.5,609.9 L342.7,615.7 L343.9,621.4 L345.1,626.6 L346.3,630.1 L347.5,634.4 L348.7,641.0 L349.9,647.5 L351.1,653.2 L352.3,658.7 L353.5,663.9 L354.7,669.5 L355.9,676.6 L357.1,683.7 L358.3,690.5 L359.5,696.8 L360.7,701.0 L361.9,705.5 L363.1,710.8 L364.3,716.3 L365.5,722.6 L366.7,728.7 L367.9,734.9 L369.1,740.5 L370.3,744.0 L371.5,747.5 L372.7,751.8 L373.9,755.9 L375.1,759.7 L376.3,763.4 L377.5,767.0 L378.7,770.8 L379.9,775.3 L381.1,779.6 L382.3,783.2 L383.5,786.6 L384.7,789.7 L385.9,792.8 L387.1,796.1 L388.3,799.3 L389.5,801.8 L390.7,804.5 L391.9,807.8 L393.1,810.9 L394.3,814.1 L395.5,816.9 L396.7,818.9 L397.9,820.8 L399.1,823.0 L400.3,825.1 L401.5,827.2 L402.7,829.2 L403.9,830.8 L405.1,832.4 L406.3,834.0 L407.5,835.5 L408.7,837.0 L409.9,838.4 L411.1,839.8 L412.3,841.1 L413.5,842.3 L414.7,843.5 L415.9,844.6 L417.1,845.6 L418.3,846.7 L419.5,847.7 L420.7,848.7 L421.9,849.7 L423.1,850.6 L424.3,851.5 L425.5,852.3 L426.7,853.2 L427.9,853.9 L429.1,854.7 L430.3,855.4 L431.5,856.1 L432.7,856.7 L433.9,857.3 L435.1,857.8 L436.3,858.3 L437.5,858.9 L438.7,859.4 L439.9,859.8 L441.1,860.3 L442.3,860.7 L443.5,861.2 L444.7,861.6 L445.9,862.0 L447.1,862.4 L448.3,862.7 L449.5,863.0 L450.7,863.4 L451.9,863.6 L453.1,863.9 L454.3,864.1 L455.5,864.4 L456.7,864.6 L457.9,864.8 L459.1,865.0 L460.3,865.2 L461.5,865.4 L462.7,865.5 L463.9,865.7 L465.1,865.9 L466.3,866.0 L467.5,866.1 L468.7,866.2 L469.9,866.3 L471.1,866.4 L472.3,866.4 L473.5,866.4 L474.7,866.4 L475.9,866.3 L477.1,866.3 L478.3,866.2 L479.5,866.1 L480.7,866.0 L481.9,865.9 L483.1,865.7 L484.3,865.6 L485.5,865.4 L486.7,865.3 L487.9,865.1 L489.1,864.9 L490.3,864.8 L491.5,864.6 L492.7,864.4 L493.9,864.2 L495.1,864.0 L496.3,863.7 L497.5,863.5 L498.7,863.2 L499.9,862.8 L501.1,862.5 L502.3,862.1 L503.5,861.7 L504.7,861.3 L505.9,860.8 L507.1,860.4 L508.3,859.9 L509.5,859.4 L510.7,858.9 L511.9,858.4 L513.1,857.9 L514.3,857.4 L515.5,856.8 L516.7,856.2 L517.9,855.5 L519.1,854.8 L520.3,854.1 L521.5,853.3 L522.7,852.5 L523.9,851.7 L525.1,850.8 L526.3,850.0 L527.5,849.1 L528.7,848.2 L529.9,847.3 L531.1,846.3 L532.3,845.4 L533.5,844.5 L534.7,843.5 L535.9,842.6 L537.1,841.7 L538.3,840.7 L539.5,839.8 L540.7,838.8 L541.9,837.9 L543.1,836.9 L544.3,835.9 L545.5,834.9 L546.7,833.8 L547.9,832.8 L549.1,831.8 L550.3,830.7 L551.5,829.6 L552.7,828.5 L553.9,827.4 L555.1,826.3 L556.3,825.2 L557.5,824.1 L558.7,822.9 L559.9,821.8 L561.1,820.6 L562.3,819.4 L563.5,818.2 L564.7,816.9 L565.9,815.6 L567.1,814.3 L568.3,812.9 L569.5,811.5 L570.7,810.2 L571.9,808.8 L573.1,807.3 L574.3,805.9 L575.5,804.5 L576.7,803.1 L577.9,801.7 L579.1,800.3 L580.3,798.9 L581.5,797.5 L582.7,796.2 L583.9,794.9 L585.1,793.6 L586.3,792.3 L587.5,791.1 L588.7,789.9 L589.9,788.8 L591.1,787.7 L592.3,786.6 L593.5,785.5 L594.7,784.5 L595.9,783.5 L597.1,782.4 L598.3,781.4 L599.5,780.5 L600.7,779.5 L601.9,778.5 L603.1,777.6 L604.3,776.6 L605.5,775.7 L606.7,774.8 L607.9,773.9 L609.1,773.0 L610.3,772.1 L611.5,771.2 L612.7,770.3 L613.9,769.4 L615.1,768.5 L616.3,767.6 L617.5,766.7 L618.7,765.8 L619.9,764.9 L621.1,764.0 L622.3,763.1 L623.5,762.3 L624.7,761.4 L625.9,760.6 L627.1,759.7 L628.3,758.9 L629.5,758.0 L630.7,757.2 L631.9,756.4 L633.1,755.5 L634.3,754.7 L635.5,753.9 L636.7,753.1 L637.9,752.2 L639.1,751.4 L640.3,750.6 L641.5,749.8 L642.7,748.9 L643.9,748.1 L645.1,747.2 L646.3,746.4 L647.5,745.5 L648.7,744.7 L649.9,743.8 L651.1,742.9 L652.3,742.0 L653.5,741.2 L654.7,740.3 L655.9,739.4 L657.1,738.5 L658.3,737.6 L659.5,736.7 L660.7,735.8 L661.9,734.9 L663.1,734.0 L664.3,733.1 L665.5,732.2 L666.7,731.3 L667.9,730.4 L669.1,729.5 L670.3,728.6 L671.5,727.6 L672.7,726.7 L673.9,725.8 L675.1,724.9 L676.3,724.0 L677.5,723.1 L678.7,722.2 L679.9,721.3 L681.1,720.4 L682.3,719.5 L683.5,718.6 L684.7,717.7 L685.9,716.8 L687.1,715.9 L688.3,715.0 L689.5,714.1 L690.7,713.2 L691.9,712.3 L693.1,711.4 L694.3,710.5 L695.5,709.5 L696.7,708.6 L697.9,707.7 L699.1,706.8 L700.3,705.9 L701.5,705.0 L702.7,704.1 L703.9,703.3 L705.1,702.4 L706.3,701.5 L707.5,700.6 L708.7,699.7 L709.9,698.8 L711.1,698.0 L712.3,697.1 L713.5,696.2 L714.7,695.4 L715.9,694.5 L717.1,693.6 L718.3,692.8 L719.5,691.9 L720.7,691.0 L721.9,690.2 L723.1,689.3 L724.3,688.5 L725.5,687.6 L726.7,686.7 L727.9,685.9 L729.1,685.0 L730.3,684.2 L731.5,683.3 L732.7,682.5 L733.9,681.7 L735.1,680.8 L736.3,680.0 L737.5,679.2 L738.7,678.3 L739.9,677.5 L741.1,676.7 L742.3,675.8 L743.5,675.0 L744.7,674.2 L745.9,673.3 L747.1,672.5 L748.3,671.7 L749.5,670.8 L750.7,670.0 L751.9,669.1 L753.1,668.3 L754.3,667.5 L755.5,666.6 L756.7,665.7 L757.9,664.9 L759.1,664.0 L760.3,663.1 L761.5,662.2 L762.7,661.3 L763.9,660.4 L765.1,659.5 L766.3,658.6 L767.5,657.7 L768.7,656.8 L769.9,655.8 L771.1,654.9 L772.3,654.0 L773.5,653.0 L774.7,652.1 L775.9,651.2 L777.1,650.3 L778.3,649.4 L779.5,648.4 L780.7,647.5 L781.9,646.7 L783.1,645.8 L784.3,644.9 L785.5,644.0 L786.7,643.2 L787.9,642.4 L789.1,641.5 L790.3,640.6 L791.5,639.7 L792.7,638.8 L793.9,637.8 L795.1,636.9 L796.3,635.9 L797.5,634.9 L798.7,634.0 L799.9,633.1 L801.1,632.1 L802.3,631.3 L803.5,630.4 L804.7,629.6 L805.9,628.8 L807.1,628.2 L808.3,627.5 L809.5,627.0 L810.7,626.5 L811.9,626.1 L813.1,625.8 L814.3,625.6 L815.5,625.5 L816.7,625.4 L817.9,625.3 L819.1,625.3 L820.3,625.2 L821.5,625.2 L822.7,625.1 L823.9,625.0 L825.1,625.0 L826.3,624.9 L827.5,624.7 L828.7,624.2 L829.9,623.1 L831.1,621.5 L832.3,619.5 L833.5,617.3 L834.7,615.0 L835.9,612.9 L837.1,611.0 L838.3,609.5 L839.5,608.1 L840.7,606.7 L841.9,605.3 L843.1,603.8 L844.3,602.4 L845.5,601.0 L846.7,599.7 L847.9,598.4 L849.1,597.2 L850.3,596.0 L851.5,594.9 L852.7,594.0 L853.9,593.1 L855.1,592.3 L856.3,591.7 L857.5,591.3 L858.7,591.0 L859.9,590.7 L861.1,590.6 L862.3,590.5 L863.5,590.4 L864.7,590.3 L865.9,590.1 L867.1,590.0 L868.3,589.9 L869.5,589.7 L870.7,589.3 L871.9,588.6 L873.1,587.4 L874.3,585.8 L875.5,584.1 L876.7,582.2 L877.9,580.2 L879.1,578.4 L880.3,576.7 L881.5,575.2 L882.7,574.0 L883.9,572.9 L885.1,571.8 L886.3,570.8 L887.5,569.8 L888.7,568.8 L889.9,567.9 L891.1,566.9 L892.3,566.0 L893.5,565.1 L894.7,564.3 L895.9,563.4 L897.1,562.6 L898.3,561.8 L899.5,561.0 L900.7,560.2 L901.9,559.4 L903.1,558.7 L904.3,557.9 L905.5,557.1 L906.7,556.4 L907.9,555.6 L909.1,554.9 L910.3,554.2 L911.5,553.4 L912.7,552.7 L913.9,552.0 L915.1,551.3 L916.3,550.6 L917.5,549.9 L918.7,549.3 L919.9,548.6 L921.1,547.9 L922.3,547.3 L923.5,546.7 L924.7,546.0 L925.9,545.4 L927.1,544.8 L928.3,544.2 L929.5,543.6 L930.7,543.0 L931.9,542.4 L933.1,541.8 L934.3,541.3 L935.5,540.7 L936.7,540.2 L937.9,539.6 L939.1,539.1 L940.3,538.5 L941.5,538.0 L942.7,537.4 L943.9,536.9 L945.1,536.4 L946.3,535.8 L947.5,535.3 L948.7,534.8 L949.9,534.3 L951.1,533.8 L952.3,533.4 L953.5,532.9 L954.7,532.4 L955.9,532.0 L957.1,531.5 L958.3,531.1 L959.5,530.7 L960.7,530.3 L961.9,530.0 L963.1,529.6 L964.3,529.2 L965.5,528.9 L966.7,528.6 L967.9,528.2 L969.1,527.9 L970.3,527.6 L971.5,527.3 L972.7,527.0 L973.9,526.7 L975.1,526.4 L976.3,526.1 L977.5,525.8 L978.7,525.6 L979.9,525.3 L981.1,525.1 L982.3,524.8 L983.5,524.6 L984.7,524.3 L985.9,524.1 L987.1,523.9 L988.3,523.7 L989.5,523.5 L990.7,523.3 L991.9,523.1 L993.1,522.9 L994.3,522.8 L995.5,522.6 L996.7,522.5 L997.9,522.3 L999.1,522.2 L1000.3,522.0 L1001.5,521.9 L1002.7,521.7 L1003.9,521.6 L1005.1,521.4 L1006.3,521.3 L1007.5,521.2 L1008.7,521.1 L1009.9,520.9 L1011.1,520.8 L1012.3,520.7 L1013.5,520.6 L1014.7,520.5 L1015.9,520.4 L1017.1,520.3 L1018.3,520.3 L1019.5,520.2 L1020.7,520.1 L1021.9,520.0 L1023.1,520.0 L1024.3,519.9 L1025.5,519.9 L1026.7,519.8 L1027.9,519.8 L1029.1,519.7 L1030.3,519.7 L1031.5,519.6 L1032.7,519.6 L1033.9,519.5 L1035.1,519.5 L1036.3,519.4 L1037.5,519.4 L1038.7,519.3 L1039.9,519.3 L1041.1,519.3 L1042.3,519.2 L1043.5,519.2 L1044.7,519.2 L1045.9,519.2 L1047.1,519.1 L1048.3,519.1 L1049.5,519.1 L1050.7,519.1 L1051.9,519.1 L1053.1,519.1 L1054.3,519.1 L1055.5,519.1 L1056.7,519.2 L1057.9,519.2 L1059.1,519.2 L1060.3,519.3 L1061.5,519.3 L1062.7,519.4 L1063.9,519.4 L1065.1,519.5 L1066.3,519.5 L1067.5,519.6 L1068.7,519.7 L1069.9,519.7 L1071.1,519.8 L1072.3,519.9 L1073.5,520.0 L1074.7,520.0 L1075.9,520.1 L1077.1,520.2 L1078.3,520.3 L1079.5,520.4 L1080.7,520.4 L1081.9,520.5 L1083.1,520.6 L1084.3,520.7 L1085.5,520.8 L1086.7,520.9 L1087.9,521.0 L1089.1,521.1 L1090.3,521.3 L1091.5,521.4 L1092.7,521.5 L1093.9,521.7 L1095.1,521.8 L1096.3,521.9 L1097.5,522.1 L1098.7,522.2 L1099.9,522.3 L1101.1,522.5 L1102.3,522.6 L1103.5,522.8 L1104.7,522.9 L1105.9,523.0 L1107.1,523.1 L1108.3,523.3 L1109.5,523.4 L1110.7,523.5 L1111.9,523.6 L1113.1,523.7 L1114.3,523.8 L1115.5,523.9 L1116.7,524.0 L1117.9,524.0 L1119.1,524.1 L1120.3,524.2 L1121.5,524.3 L1122.7,524.3 L1123.9,524.4 L1125.1,524.5 L1126.3,524.6 L1127.5,524.6 L1128.7,524.7 L1129.9,524.8 L1131.1,524.9 L1132.3,525.0 L1133.5,525.1 L1134.7,525.2 L1135.9,525.3 L1137.1,525.4 L1138.3,525.6 L1139.5,525.7 L1140.7,525.9 L1141.9,526.2 L1143.1,526.5 L1144.3,526.9 L1145.5,527.3 L1146.7,527.8 L1147.9,528.2 L1149.1,528.6 L1150.3,528.9 L1151.5,529.2 L1152.7,529.3 L1153.9,529.2 L1155.1,528.9 L1156.3,528.2 L1157.5,527.4 L1158.7,526.5 L1159.9,525.6 L1161.1,524.9 L1162.3,524.3 L1163.5,524.1 L1164.7,524.5 L1165.9,525.4 L1167.1,526.7 L1168.3,527.9 L1169.5,528.7 L1170.7,528.7 L1171.9,528.3 L1173.1,527.5 L1174.3,526.7 L1175.5,526.1 L1176.7,525.8 L1177.9,525.9 L1179.1,526.1 L1180.3,526.5 L1181.5,527.0 L1182.7,527.6 L1183.9,528.3 L1185.1,529.0 L1186.3,529.8 L1187.5,530.6 L1188.7,531.4 L1189.9,532.2 L1191.1,533.0 L1192.3,533.7 L1193.5,534.3 L1194.7,534.8 L1195.9,535.2 L1197.1,535.5 L1198.3,535.8 L1199.5,536.1 L1200.7,536.4 L1201.9,536.7 L1203.1,536.9 L1204.3,537.2 L1205.5,537.4 L1206.7,537.6 L1207.9,537.8 L1209.1,538.0 L1210.3,538.2 L1211.5,538.4 L1212.7,538.6 L1213.9,538.8 L1215.1,539.0 L1216.3,539.2 L1217.5,539.3 L1218.7,539.5 L1219.9,539.7 L1221.1,539.9 L1222.3,540.1 L1223.5,540.3 L1224.7,540.5 L1225.9,540.7 L1227.1,540.9 L1228.3,541.1 L1229.5,541.3 L1230.7,541.6 L1231.9,541.8 L1233.1,542.1 L1234.3,542.3 L1235.5,542.5 L1236.7,542.8 L1237.9,543.0 L1239.1,543.3 L1240.3,543.5 L1241.5,543.8 L1242.7,544.0 L1243.9,544.3 L1245.1,544.5 L1246.3,544.7 L1247.5,545.0 L1248.7,545.2 L1249.9,545.5 L1251.1,545.7 L1252.3,545.9 L1253.5,546.2 L1254.7,546.4 L1255.9,546.6 L1257.1,546.8 L1258.3,547.0 L1259.5,547.3 L1260.7,547.5 L1261.9,547.7 L1263.1,547.9 L1264.3,548.1 L1265.5,548.3 L1266.7,548.5 L1267.9,548.6 L1269.1,548.8 L1270.3,549.0 L1271.5,549.2 L1272.7,549.4 L1273.9,549.6 L1275.1,549.8 L1276.3,550.0 L1277.5,550.1 L1278.7,550.3 L1279.9,550.5 L1281.1,550.7 L1282.3,550.9 L1283.5,551.1 L1284.7,551.3 L1285.9,551.5 L1287.1,551.7 L1288.3,551.8 L1289.5,552.0 L1290.7,552.2 L1291.9,552.4 L1293.1,552.6 L1294.3,552.9 L1295.5,553.1 L1296.7,553.3 L1297.9,553.5 L1299.1,553.7 L1300.3,553.9 L1301.5,554.2 L1302.7,554.4 L1303.9,554.6 L1305.1,554.8 L1306.3,555.1 L1307.5,555.3 L1308.7,555.6 L1309.9,555.8 L1311.1,556.0 L1312.3,556.3 L1313.5,556.5 L1314.7,556.7 L1315.9,557.0 L1317.1,557.2 L1318.3,557.4 L1319.5,557.7 L1320.7,557.9 L1321.9,558.1 L1323.1,558.4 L1324.3,558.6 L1325.5,558.8 L1326.7,559.1 L1327.9,559.3 L1329.1,559.5 L1330.3,559.7 L1331.5,559.9 L1332.7,560.1 L1333.9,560.3 L1335.1,560.5 L1336.3,560.7 L1337.5,560.9 L1338.7,561.1 L1339.9,561.3 L1341.1,561.5 L1342.3,561.7 L1343.5,561.8 L1344.7,562.0 L1345.9,562.2 L1347.1,562.4 L1348.3,562.5 L1349.5,562.7 L1350.7,562.9 L1351.9,563.1 L1353.1,563.2 L1354.3,563.4 L1355.5,563.6 L1356.7,563.7 L1357.9,563.9 L1359.1,564.1 L1360.3,564.2 L1361.5,564.4 L1362.7,564.5 L1363.9,564.7 L1365.1,564.8 L1366.3,565.0 L1367.5,565.1 L1368.7,565.4 L1369.9,565.6 L1371.1,565.6 L1372.3,565.6 L1373.5,565.6 L1374.7,565.7 L1375.9,565.8 L1377.1,565.9 L1378.3,566.5 L1379.5,567.1 L1380.7,566.9 L1381.9,566.7 L1383.1,567.2 L1384.3,567.6 L1385.5,567.5 L1386.7,567.3 L1387.9,567.0 L1389.1,566.9 L1390.3,567.7 L1391.5,568.5 L1392.7,567.9 L1393.9,567.5 L1395.1,567.4 L1396.3,567.5 L1397.5,568.4 L1398.7,569.1 L1399.9,568.3 L1401.1,567.7 L1402.3,567.9 L1403.5,568.2 L1404.7,568.4 L1405.9,568.8 L1407.1,570.5 L1408.3,572.0 L1409.5,572.7 L1410.7,573.0 L1411.9,571.7 L1413.1,570.4 L1414.3,569.5 L1415.5,568.8 L1416.7,569.8 L1417.9,570.6 L1419.1,570.0 L1420.3,569.7 L1421.5,570.2 L1422.7,570.6 L1423.9,570.2 L1425.1,569.9 L1426.3,570.4 L1427.5,570.8 L1428.7,571.2 L1429.9,571.8 L1431.1,572.8 L1432.3,573.6 L1433.5,573.1 L1434.7,572.7 L1435.9,572.5 L1437.1,572.5 L1438.3,572.9 L1439.5,573.3 L1440.7,573.5 L1441.9,573.8 L1443.1,574.5 L1444.3,575.0 L1445.5,574.9 L1446.7,574.8 L1447.9,574.7 L1449.1,574.6 L1450.3,574.7 L1451.5,574.8 L1452.7,575.0 L1453.9,575.2 L1455.1,575.6 L1456.3,576.1 L1457.5,576.8 L1458.7,577.5 L1459.9,577.8 L1461.1,578.2 L1462.3,579.1 L1463.5,579.6 L1464.7,578.6 L1465.9,578.1 L1467.1,579.6 L1468.3,580.8 L1469.5,580.1 L1470.7,579.6 L1471.9,579.7 L1473.1,580.1 L1474.3,581.7 L1475.5,583.3 L1476.7,585.5 L1477.9,587.2 L1479.1,586.8 L1480.3,586.3 L1481.5,585.4 L1482.7,584.6 L1483.9,584.5 L1485.1,584.5 L1486.3,585.5 L1487.5,586.5 L1488.7,586.9 L1489.9,587.2 L1491.1,586.9 L1492.3,586.9 L1493.5,587.9 L1494.7,588.8 L1495.9,588.9 L1497.1,589.3 L1498.3,590.9 L1499.5,592.2 L1500.7,591.9 L1501.9,591.7 L1503.1,592.3 L1504.3,593.2 L1505.5,596.1 L1506.7,598.5 L1507.9,598.3 L1509.1,598.0 L1510.3,597.5 L1511.5,597.6 L1512.7,600.7 L1513.9,603.1 L1515.1,602.6 L1516.3,602.5 L1517.5,604.0 L1518.7,605.3 L1519.9,606.1 L1521.1,606.8 L1522.3,606.3 L1523.5,606.4 L1524.7,608.9 L1525.9,611.0 L1527.1,610.6 L1528.3,610.6 L1529.5,612.6 L1530.7,614.2 L1531.9,614.6 L1533.1,615.1 L1534.3,616.0 L1535.5,617.0 L1536.7,618.5 L1537.9,620.1 L1539.1,621.9 L1540.3,623.4 L1541.5,623.4 L1542.7,623.7 L1543.9,625.2 L1545.1,626.8 L1546.3,628.5 L1547.5,630.5 L1548.7,633.5 L1549.9,636.2 L1551.1,636.9 L1552.3,637.8 L1553.5,640.0 L1554.7,642.7 L1555.9,647.5 L1557.1,651.6 L1558.3,652.3 L1559.5,653.2 L1560.7,655.3 L1561.9,657.4 L1563.1,658.8 L1564.3,661.1 L1565.5,667.1 L1566.7,672.0 L1567.9,671.4 L1569.1,671.3 L1570.3,673.3 L1571.5,675.8 L1572.7,680.1 L1573.9,683.8 L1575.1,684.7 L1576.3,686.0 L1577.5,688.5 L1578.7,691.0 L1579.9,693.4 L1581.1,696.0 L1582.3,699.2 L1583.5,702.4 L1584.7,704.7 L1585.9,707.3 L1587.1,710.2 L1588.3,712.9 L1589.5,715.2 L1590.7,716.8 L1591.9,717.2 L1593.1,717.5 L1594.3,718.0 L1595.5,718.5 L1596.7,718.9 L1597.9,719.2 L1599.1,719.4 L1600.3,719.5 L1601.5,719.4 L1602.7,719.2 L1603.9,718.7 L1605.1,718.2 L1606.3,717.5 L1607.5,716.8 L1608.7,716.1 L1609.9,715.4 L1611.1,714.8 L1612.3,714.2 L1613.5,713.7 L1614.7,713.2 L1615.9,712.7 L1617.1,712.1 L1618.3,711.6 L1619.5,711.2 L1620.7,710.9 L1621.9,710.7 L1623.1,710.7 L1624.3,711.0 L1625.5,711.7 L1626.7,712.5 L1627.9,713.5 L1629.1,714.7 L1630.3,715.9 L1631.5,717.1 L1632.7,718.5 L1633.9,720.3 L1635.1,722.4 L1636.3,724.6 L1637.5,726.9 L1638.7,729.1 L1639.9,731.2 L1641.1,733.0 L1642.3,734.9 L1643.5,736.7 L1644.7,738.5 L1645.9,740.2 L1647.1,742.0 L1648.3,743.6 L1649.5,745.2 L1650.7,746.8 L1651.9,748.2 L1653.1,749.7 L1654.3,751.0 L1655.5,752.4 L1656.7,753.7 L1657.9,755.0 L1659.1,756.3 L1660.3,757.5 L1661.5,758.8 L1662.7,760.1 L1663.9,761.3 L1665.1,762.7 L1666.3,764.2 L1667.5,765.8 L1668.7,767.4 L1669.9,768.9 L1671.1,770.3 L1672.3,771.4 L1673.5,772.3 L1674.7,772.8 L1675.9,772.9 L1677.1,772.7 L1678.3,772.2 L1679.5,771.6 L1680.7,770.8 L1681.9,770.0 L1683.1,769.0 L1684.3,768.0 L1685.5,767.0 L1686.7,766.0 L1687.9,765.0 L1689.1,763.9 L1690.3,762.6 L1691.5,761.1 L1692.7,759.7 L1693.9,758.3 L1695.1,756.9 L1696.3,755.7 L1697.5,754.7 L1698.7,753.9 L1699.9,753.3 L1701.1,752.7 L1702.3,752.2 L1703.5,751.7 L1704.7,751.4 L1705.9,751.1 L1707.1,750.9 L1708.3,750.9 L1709.5,751.1 L1710.7,751.4 L1711.9,751.8 L1713.1,752.3 L1714.3,753.0 L1715.5,753.7 L1716.7,754.4 L1717.9,755.2 L1719.1,756.3 L1720.3,757.7 L1721.5,759.5 L1722.7,761.6 L1723.9,763.9 L1725.1,766.4 L1726.3,768.9 L1727.5,771.3 L1728.7,773.7 L1729.9,776.1 L1731.1,778.7 L1732.3,781.4 L1733.5,784.1 L1734.7,786.9 L1735.9,789.8 L1737.1,792.6 L1738.3,795.4 L1739.5,798.2 L1740.7,800.9 L1741.9,803.8 L1743.1,806.8 L1744.3,809.8 L1745.5,812.8 L1746.7,815.7 L1747.9,818.5 L1749.1,821.1 L1750.3,823.4 L1751.5,825.3 L1752.7,826.9 L1753.9,828.6 L1755.1,830.2 L1756.3,831.7 L1757.5,833.0 L1758.7,833.9 L1759.9,834.4 L1761.1,834.5 L1762.3,834.2 L1763.5,833.8 L1764.7,833.1 L1765.9,832.1 L1767.1,831.1 L1768.3,829.8 L1769.5,828.5 L1770.7,826.0 L1771.9,822.0 L1773.1,816.9 L1774.3,811.2 L1775.5,805.1 L1776.7,799.3 L1777.9,793.3 L1779.1,786.7 L1780.3,779.8 L1781.5,772.6 L1782.7,765.6 L1783.9,758.7 L1785.1,752.2 L1786.3,745.6 L1787.5,739.1 L1788.7,732.7 L1789.9,726.3 L1791.1,720.0 L1792.3,713.9 L1793.5,707.7 L1794.7,701.4 L1795.9,695.0 L1797.1,688.8 L1798.3,682.8 L1799.5,677.1 L1800.7,672.0 L1801.9,667.6 L1803.1,663.4 L1804.3,659.4 L1805.5,655.6 L1806.7,652.1 L1807.9,649.0 L1809.1,646.3 L1810.3,644.0 L1811.5,642.1 L1812.7,640.2 L1813.9,638.5 L1815.1,636.9 L1816.3,635.4 L1817.5,634.1 L1818.7,633.0 L1819.9,632.0 L1821.1,631.1 L1822.3,630.4 L1823.5,629.7 L1824.7,629.0 L1825.9,628.4 L1827.1,627.8 L1828.3,627.3 L1829.5,626.8 L1830.7,626.4 L1831.9,626.1 L1833.1,625.8 L1834.3,625.6 L1835.5,625.5 L1836.7,625.3 L1837.9,625.2 L1839.1,625.1 L1840.3,625.0 L1841.5,624.9 L1842.7,624.9 L1843.9,624.8 L1845.1,624.7 L1846.3,624.7 L1847.5,624.7 L1848.7,624.6 L1849.9,624.6 L1851.1,624.6 L1852.3,624.6 L1853.5,624.6 L1854.7,624.7 L1855.9,624.8 L1857.1,624.9 L1858.3,625.0 L1859.5,625.1 L1860.7,625.2 L1861.9,625.4 L1863.1,625.5 L1864.3,625.7 L1865.5,625.9 L1866.7,626.1 L1867.9,626.3 L1869.1,626.5 L1870.3,626.7 L1871.5,626.9 L1872.7,627.1 L1873.9,627.3 L1875.1,627.5 L1876.3,627.8 L1877.5,628.1 L1878.7,628.4 L1879.9,628.7 L1881.1,629.0 L1882.3,629.4 L1883.5,629.8 L1884.7,630.1 L1885.9,630.5 L1887.1,630.9 L1888.3,631.4 L1889.5,631.8 L1890.7,632.2 L1891.9,632.7 L1893.1,633.1 L1894.3,633.6 L1895.5,634.0 L1896.7,634.5 L1897.9,635.0 L1899.1,635.5 L1900.3,636.1 L1901.5,636.6 L1902.7,637.2 L1903.9,637.9 L1905.1,638.5 L1906.3,639.2 L1907.5,640.0 L1908.7,640.8 L1909.9,641.6 L1911.1,642.5 L1912.3,643.6 L1913.5,644.8 L1914.7,646.1 L1915.9,647.5 L1917.1,648.9 L1918.3,650.4 L1919.5,652.0 L1920.7,653.5 L1921.9,655.1 L1923.1,656.7 L1924.3,658.3 L1925.5,660.1 L1926.7,661.9 L1927.9,663.7 L1929.1,665.6 L1930.3,667.5 L1931.5,669.4 L1932.7,671.3 L1933.9,673.2 L1935.1,675.1 L1936.3,676.9 L1937.5,678.8 L1938.7,680.7 L1939.9,682.7 L1941.1,684.6 L1942.3,686.6 L1943.5,688.7 L1944.7,690.8 L1945.9,693.0 L1947.1,695.5 L1948.3,698.2 L1949.5,700.9 L1950.7,703.6 L1951.9,706.2 L1953.1,708.5 L1954.3,710.5 L1955.5,712.1 L1956.7,713.4 L1957.9,714.6 L1959.1,715.7 L1960.3,716.7 L1961.5,717.6 L1962.7,718.4 L1963.9,719.2 L1965.1,720.0 L1966.3,720.8 L1967.5,721.6 L1968.7,722.4 L1969.9,723.1 L1971.1,723.9 L1972.3,724.6 L1973.5,725.2 L1974.7,725.9 L1975.9,726.5 L1977.1,727.1 L1978.3,727.8 L1979.5,728.4 L1980.7,729.0 L1981.9,729.6 L1983.1,730.3 L1984.3,731.0 L1985.5,731.7 L1986.7,732.4 L1987.9,733.2 L1989.1,734.0 L1990.3,734.9 L1991.5,735.8 L1992.7,736.8 L1993.9,737.8 L1995.1,738.9 L1996.3,739.9 L1997.5,741.1 L1998.7,742.2 L1999.9,743.4 L2001.1,744.6 L2002.3,745.8 L2003.5,747.0 L2004.7,748.2 L2005.9,749.5 L2007.1,750.8 L2008.3,752.2 L2009.5,753.5 L2010.7,754.9 L2011.9,756.3 L2013.1,757.8 L2014.3,759.2 L2015.5,760.7 L2016.7,762.1 L2017.9,763.6 L2019.1,765.1 L2020.3,766.5 L2021.5,767.9 L2022.7,769.3 L2023.9,770.8 L2025.1,772.2 L2026.3,773.6 L2027.5,775.1 L2028.7,776.5 L2029.9,778.0 L2031.1,779.4 L2032.3,780.8 L2033.5,782.3 L2034.7,783.7 L2035.9,785.2 L2037.1,786.6 L2038.3,788.0 L2039.5,789.4 L2040.7,790.8 L2041.9,792.1 L2043.1,793.5 L2044.3,794.9 L2045.5,796.3 L2046.7,797.8 L2047.9,799.3 L2049.1,800.8 L2050.3,802.3 L2051.5,804.0 L2052.7,805.7 L2053.9,807.6 L2055.1,809.5 L2056.3,811.4 L2057.5,813.2 L2058.7,815.0 L2059.9,816.6 L2061.1,818.2 L2062.3,819.8 L2063.5,821.4 L2064.7,822.9 L2065.9,824.2 L2067.1,825.4 L2068.3,826.4 L2069.5,827.3 L2070.7,828.0 L2071.9,828.7 L2073.1,829.3 L2074.3,829.9 L2075.5,830.4 L2076.7,830.9 L2077.9,831.4 L2079.1,832.0 L2080.3,832.5 L2081.5,833.0 L2082.7,833.6 L2083.9,834.3 L2085.1,834.9 L2086.3,835.6 L2087.5,836.3 L2088.7,837.0 L2089.9,837.7 L2091.1,838.4 L2092.3,839.1 L2093.5,839.8 L2094.7,840.5 L2095.9,841.2 L2097.1,841.9 L2098.3,842.6 L2099.5,843.3 L2100.7,844.0 L2101.9,844.6 L2103.1,845.2 L2104.3,845.9 L2105.5,846.5 L2106.7,847.1 L2107.9,847.7 L2109.1,848.2 L2110.3,848.8 L2111.5,849.4 L2112.7,849.9 L2113.9,850.5 L2115.1,851.0 L2116.3,851.6 L2117.5,852.2 L2118.7,852.7 L2119.9,853.3 L2121.1,853.8 L2122.3,854.4 L2123.5,854.9 L2124.7,855.5 L2125.9,856.0 L2127.1,856.6 L2128.3,857.2 L2129.5,857.8 L2130.7,858.3 L2131.9,858.9 L2133.1,859.5 L2134.3,860.0 L2135.5,860.6 L2136.7,861.2 L2137.9,861.7 L2139.1,862.3 L2140.3,862.8 L2141.5,863.4 L2142.7,863.9 L2143.9,864.5 L2145.1,865.0 L2146.3,865.5 L2147.5,866.1 L2148.7,866.6 L2149.9,867.1 L2151.1,867.5 L2152.3,868.0 L2153.5,868.5 L2154.7,868.9 L2155.9,869.4 L2157.1,869.8 L2158.3,870.3 L2159.5,870.7 L2160.7,871.2 L2161.9,871.7 L2163.1,872.1 L2164.3,872.6 L2165.5,873.1 L2166.7,873.7 L2167.9,874.2 L2169.1,874.8 L2170.3,875.4 L2171.5,876.0 L2172.7,876.6 L2173.9,877.2 L2175.1,877.9 L2176.3,878.5 L2177.5,879.2 L2178.7,879.9 L2179.9,880.6 L2181.1,881.2 L2182.3,881.9 L2183.5,882.6 L2184.7,883.3 L2185.9,884.1 L2187.1,884.8 L2188.3,885.6 L2189.5,886.4 L2190.7,887.2 L2191.9,887.9 L2193.1,888.6 L2194.3,889.3 L2195.5,890.0 L2196.7,890.6 L2197.9,891.2 L2199.1,891.8 L2200.3,892.4 L2201.5,893.0 L2202.7,893.6 L2203.9,894.1 L2205.1,894.6 L2206.3,895.0 L2207.5,895.2 L2208.7,895.4 L2209.9,895.4 L2211.1,895.4 L2212.3,895.4 L2213.5,895.4 L2214.7,895.4 L2215.9,895.4 L2217.1,895.4 L2218.3,895.4 L2219.5,895.4 L2220.7,895.4 L2221.9,895.3 L2223.1,895.2 L2224.3,894.9 L2225.5,894.5 L2226.7,894.0 L2227.9,893.4 L2229.1,892.9 L2230.3,892.2 L2231.5,891.6 L2232.7,891.0 L2233.9,890.4 L2235.1,889.6 L2236.3,888.8 L2237.5,888.0 L2238.7,887.1 L2239.9,886.1 L2241.1,885.1 L2242.3,884.0 L2243.5,882.9 L2244.7,881.8 L2245.9,880.7 L2247.1,879.5 L2248.3,878.3 L2249.5,877.1 L2250.7,875.8 L2251.9,874.5 L2253.1,873.1 L2254.3,871.6 L2255.5,870.0 L2256.7,868.3 L2257.9,866.5 L2259.1,864.6 L2260.3,862.4 L2261.5,859.8 L2262.7,857.0 L2263.9,854.0 L2265.1,850.9 L2266.3,847.9 L2267.5,845.0 L2268.7,842.2 L2269.9,839.3 L2271.1,836.2 L2272.3,833.2 L2273.5,830.4 L2274.7,827.9 L2275.9,826.0 L2277.1,824.6 L2278.3,823.4 L2279.5,822.3 L2280.7,821.2 L2281.9,820.4 L2283.1,819.7 L2284.3,819.3 L2285.5,819.1 L2286.7,819.2 L2287.9,819.7 L2289.1,820.3 L2290.3,821.2 L2291.5,822.2 L2292.7,823.4 L2293.9,824.6 L2295.1,826.0 L2296.3,828.2 L2297.5,831.0 L2298.7,834.2 L2299.9,837.7 L2301.1,841.3 L2302.3,844.8 L2303.5,848.1 L2304.7,851.4 L2305.9,854.8 L2307.1,858.3 L2308.3,861.9 L2309.5,865.4 L2310.7,868.9 L2311.9,872.3 L2313.1,875.6 L2314.3,878.8 L2315.5,882.0 L2316.7,885.3 L2317.9,888.5 L2319.1,891.6 L2320.3,894.5 L2321.5,897.2 L2322.7,899.7 L2323.9,901.8 L2325.1,903.9 L2326.3,905.9 L2327.5,907.9 L2328.7,909.6 L2329.9,911.1 L2331.1,912.3 L2332.3,913.0 L2333.5,913.4 L2334.7,913.7 L2335.9,914.0 L2337.1,914.3 L2338.3,914.4 L2339.5,914.5 L2340.7,914.4 L2341.9,913.8 L2343.1,912.8 L2344.3,911.5 L2345.5,909.9 L2346.7,908.1 L2347.9,906.0"/>
<path stroke="#0000ff" d="M174.7,782.4 L175.9,782.9 L177.1,783.4 L178.3,783.8 L179.5,784.3 L180.7,784.8 L181.9,785.3 L183.1,785.8 L184.3,786.3 L185.5,786.8 L186.7,787.4 L187.9,787.9 L189.1,788.4 L190.3,789.3 L191.5,790.2 L192.7,790.1 L193.9,789.9 L195.1,791.2 L196.3,792.5 L197.5,792.8 L198.7,793.4 L199.9,795.9 L201.1,797.8 L202.3,795.4 L203.5,793.5 L204.7,796.6 L205.9,799.1 L207.1,796.6 L208.3,795.1 L209.5,798.7 L210.7,801.6 L211.9,800.6 L213.1,799.8 L214.3,799.6 L215.5,799.5 L216.7,800.5 L217.9,801.4 L219.1,801.7 L220.3,801.8 L221.5,801.5 L222.7,801.5 L223.9,803.1 L225.1,804.4 L226.3,804.7 L227.5,805.1 L228.7,806.5 L229.9,807.9 L231.1,810.0 L232.3,811.4 L233.5,809.4 L234.7,808.1 L235.9,810.0 L237.1,811.4 L238.3,810.5 L239.5,810.1 L240.7,812.7 L241.9,814.6 L243.1,812.8 L244.3,811.4 L245.5,812.0 L246.7,812.7 L247.9,813.7 L249.1,814.8 L250.3,816.7 L251.5,818.2 L252.7,817.5 L253.9,817.3 L255.1,819.1 L256.3,820.8 L257.5,821.8 L258.7,822.4 L259.9,820.8 L261.1,820.1 L262.3,823.3 L263.5,825.9 L264.7,825.5 L265.9,825.1 L267.1,824.9 L268.3,825.4 L269.5,830.1 L270.7,833.3 L271.9,828.8 L273.1,825.4 L274.3,827.5 L275.5,828.9 L276.7,827.4 L277.9,826.3 L279.1,826.9 L280.3,828.0 L281.5,832.0 L282.7,835.0 L283.9,832.3 L285.1,830.1 L286.3,830.7 L287.5,831.6 L288.7,833.5 L289.9,835.2 L291.1,836.3 L292.3,837.1 L293.5,837.0 L294.7,837.1 L295.9,838.5 L297.1,839.7 L298.3,839.4 L299.5,839.5 L300.7,841.1 L301.9,842.8 L303.1,844.9 L304.3,846.7 L305.5,846.2 L306.7,846.6 L307.9,851.3 L309.1,854.9 L310.3,852.9 L311.5,851.6 L312.7,853.3 L313.9,855.1 L315.1,856.6 L316.3,858.1 L317.5,859.4 L318.7,860.8 L319.9,861.7 L321.1,863.3 L322.3,867.7 L323.5,871.5 L324.7,871.8 L325.9,872.4 L327.1,874.1 L328.3,875.8 L329.5,877.5 L330.7,879.4 L331.9,882.6 L333.1,885.5 L334.3,887.1 L335.5,888.9 L336.7,890.9 L337.9,893.1 L339.1,895.6 L340.3,898.2 L341.5,900.7 L342.7,903.6 L343.9,908.0 L345.1,912.2 L346.3,915.4 L347.5,919.0 L348.7,924.1 L349.9,928.8 L351.1,931.1 L352.3,933.9 L353.5,938.9 L354.7,943.4 L355.9,945.8 L357.1,948.5 L358.3,952.0 L359.5,955.9 L360.7,961.1 L361.9,966.2 L363.1,971.0 L364.3,975.8 L365.5,979.9 L366.7,984.3 L367.9,989.8 L369.1,995.1 L370.3,999.8 L371.5,1004.2 L372.7,1007.4 L373.9,1010.8 L375.1,1015.6 L376.3,1019.9 L377.5,1022.6 L378.7,1025.3 L379.9,1028.8 L381.1,1032.5 L382.3,1037.0 L383.5,1041.2 L384.7,1044.4 L385.9,1047.7 L387.1,1052.3 L388.3,1056.1 L389.5,1057.5 L390.7,1059.2 L391.9,1062.3 L393.1,1065.2 L394.3,1067.8 L395.5,1069.8 L396.7,1069.6 L397.9,1069.7 L399.1,1071.3 L400.3,1072.7 L401.5,1073.9 L402.7,1075.0 L403.9,1076.4 L405.1,1077.6 L406.3,1078.6 L407.5,1079.6 L408.7,1080.8 L409.9,1081.8 L411.1,1082.3 L412.3,1082.9 L413.5,1083.2 L414.7,1083.6 L415.9,1084.4 L417.1,1085.2 L418.3,1085.5 L419.5,1086.2 L420.7,1088.1 L421.9,1089.6 L423.1,1089.0 L424.3,1088.7 L425.5,1090.0 L426.7,1091.1 L427.9,1091.5 L429.1,1091.8 L430.3,1091.2 L431.5,1090.7 L432.7,1091.3 L433.9,1091.8 L435.1,1091.9 L436.3,1091.9 L437.5,1091.6 L438.7,1091.3 L439.9,1091.8 L441.1,1092.1 L442.3,1092.3 L443.5,1092.4 L444.7,1092.6 L445.9,1092.8 L447.1,1092.4 L448.3,1092.3 L449.5,1092.7 L450.7,1093.1 L451.9,1092.8 L453.1,1092.7 L454.3,1092.8 L455.5,1093.0 L456.7,1093.4 L457.9,1093.7 L459.1,1093.4 L460.3,1093.2 L461.5,1092.9 L462.7,1092.6 L463.9,1092.5 L465.1,1092.4 L466.3,1092.4 L467.5,1092.4 L468.7,1092.2 L469.9,1092.0 L471.1,1091.8 L472.3,1091.5 L473.5,1091.4 L474.7,1091.3 L475.9,1091.2 L477.1,1091.0 L478.3,1090.8 L479.5,1090.7 L480.7,1090.5 L481.9,1090.3 L483.1,1090.1 L484.3,1089.9 L485.5,1089.7 L486.7,1089.4 L487.9,1089.2 L489.1,1088.9 L490.3,1088.7 L491.5,1088.4 L492.7,1088.1 L493.9,1087.8 L495.1,1087.5 L496.3,1087.2 L497.5,1086.8 L498.7,1086.4 L499.9,1086.0 L501.1,1085.5 L502.3,1085.0 L503.5,1084.4 L504.7,1083.9 L505.9,1083.3 L507.1,1082.7 L508.3,1082.0 L509.5,1081.3 L510.7,1080.7 L511.9,1080.0 L513.1,1079.3 L514.3,1078.6 L515.5,1077.9 L516.7,1077.2 L517.9,1076.5 L519.1,1075.7 L520.3,1075.1 L521.5,1074.3 L522.7,1073.6 L523.9,1072.9 L525.1,1072.1 L526.3,1071.4 L527.5,1070.6 L528.7,1069.8 L529.9,1069.0 L531.1,1068.2 L532.3,1067.4 L533.5,1066.5 L534.7,1065.7 L535.9,1064.8 L537.1,1064.0 L538.3,1063.1 L539.5,1062.2 L540.7,1061.2 L541.9,1060.3 L543.1,1059.4 L544.3,1058.4 L545.5,1057.4 L546.7,1056.4 L547.9,1055.4 L549.1,1054.3 L550.3,1053.2 L551.5,1052.2 L552.7,1051.0 L553.9,1049.9 L555.1,1048.8 L556.3,1047.6 L557.5,1046.4 L558.7,1045.3 L559.9,1044.1 L561.1,1042.9 L562.3,1041.7 L563.5,1040.5 L564.7,1039.3 L565.9,1038.1 L567.1,1036.9 L568.3,1035.7 L569.5,1034.4 L570.7,1033.1 L571.9,1031.8 L573.1,1030.5 L574.3,1029.2 L575.5,1027.8 L576.7,1026.5 L577.9,1025.1 L579.1,1023.8 L580.3,1022.4 L581.5,1021.1 L582.7,1019.8 L583.9,1018.5 L585.1,1017.2 L586.3,1016.0 L587.5,1014.8 L588.7,1013.6 L589.9,1012.5 L591.1,1011.4 L592.3,1010.3 L593.5,1009.3 L594.7,1008.2 L595.9,1007.2 L597.1,1006.2 L598.3,1005.2 L599.5,1004.2 L600.7,1003.2 L601.9,1002.3 L603.1,1001.3 L604.3,1000.4 L605.5,999.4 L606.7,998.5 L607.9,997.6 L609.1,996.7 L610.3,995.8 L611.5,994.9 L612.7,994.0 L613.9,993.1 L615.1,992.2 L616.3,991.3 L617.5,990.4 L618.7,989.5 L619.9,988.6 L621.1,987.7 L622.3,986.8 L623.5,985.9 L624.7,985.1 L625.9,984.2 L627.1,983.3 L628.3,982.5 L629.5,981.6 L630.7,980.8 L631.9,979.9 L633.1,979.1 L634.3,978.2 L635.5,977.4 L636.7,976.6 L637.9,975.7 L639.1,974.9 L640.3,974.1 L641.5,973.3 L642.7,972.4 L643.9,971.6 L645.1,970.8 L646.3,970.0 L647.5,969.2 L648.7,968.4 L649.9,967.6 L651.1,966.8 L652.3,965.9 L653.5,965.1 L654.7,964.3 L655.9,963.5 L657.1,962.7 L658.3,961.9 L659.5,961.1 L660.7,960.4 L661.9,959.6 L663.1,958.8 L664.3,958.0 L665.5,957.2 L666.7,956.4 L667.9,955.7 L669.1,954.9 L670.3,954.2 L671.5,953.4 L672.7,952.6 L673.9,951.9 L675.1,951.2 L676.3,950.4 L677.5,949.7 L678.7,949.0 L679.9,948.3 L681.1,947.6 L682.3,946.9 L683.5,946.2 L684.7,945.5 L685.9,944.8 L687.1,944.1 L688.3,943.4 L689.5,942.8 L690.7,942.1 L691.9,941.4 L693.1,940.8 L694.3,940.1 L695.5,939.5 L696.7,938.8 L697.9,938.2 L699.1,937.5 L700.3,936.9 L701.5,936.2 L702.7,935.6 L703.9,935.0 L705.1,934.3 L706.3,933.7 L707.5,933.1 L708.7,932.5 L709.9,931.9 L711.1,931.3 L712.3,930.7 L713.5,930.1 L714.7,929.5 L715.9,928.9 L717.1,928.3 L718.3,927.7 L719.5,927.1 L720.7,926.6 L721.9,926.0 L723.1,925.4 L724.3,924.9 L725.5,924.3 L726.7,923.7 L727.9,923.2 L729.1,922.6 L730.3,922.0 L731.5,921.5 L732.7,920.9 L733.9,920.4 L735.1,919.8 L736.3,919.3 L737.5,918.8 L738.7,918.2 L739.9,917.7 L741.1,917.2 L742.3,916.7 L743.5,916.1 L744.7,915.6 L745.9,915.1 L747.1,914.6 L748.3,914.0 L749.5,913.5 L750.7,913.0 L751.9,912.4 L753.1,911.9 L754.3,911.3 L755.5,910.8 L756.7,910.2 L757.9,909.7 L759.1,909.1 L760.3,908.5 L761.5,908.0 L762.7,907.4 L763.9,906.8 L765.1,906.2 L766.3,905.6 L767.5,905.0 L768.7,904.4 L769.9,903.8 L771.1,903.1 L772.3,902.5 L773.5,901.9 L774.7,901.3 L775.9,900.7 L777.1,900.1 L778.3,899.5 L779.5,898.9 L780.7,898.3 L781.9,897.7 L783.1,897.1 L784.3,896.5 L785.5,895.9 L786.7,895.3 L787.9,894.7 L789.1,894.2 L790.3,893.6 L791.5,893.1 L792.7,892.6 L793.9,892.1 L795.1,891.6 L796.3,891.1 L797.5,890.7 L798.7,890.2 L799.9,889.7 L801.1,889.3 L802.3,888.8 L803.5,888.3 L804.7,887.8 L805.9,887.3 L807.1,886.8 L808.3,886.2 L809.5,885.7 L810.7,885.1 L811.9,884.5 L813.1,883.9 L814.3,883.3 L815.5,882.6 L816.7,881.9 L817.9,881.2 L819.1,880.5 L820.3,879.8 L821.5,878.9 L822.7,877.9 L823.9,876.6 L825.1,874.7 L826.3,870.1 L827.5,866.8 L828.7,866.8 L829.9,866.8 L831.1,866.8 L832.3,866.8 L833.5,866.8 L834.7,866.8 L835.9,866.7 L837.1,866.4 L838.3,865.9 L839.5,865.2 L840.7,864.4 L841.9,863.4 L843.1,862.4 L844.3,861.2 L845.5,860.0 L846.7,858.8 L847.9,857.6 L849.1,856.5 L850.3,855.4 L851.5,854.4 L852.7,853.5 L853.9,852.8 L855.1,852.1 L856.3,851.5 L857.5,851.0 L858.7,850.4 L859.9,849.7 L861.1,849.0 L862.3,848.1 L863.5,847.0 L864.7,845.6 L865.9,842.4 L867.1,838.7 L868.3,836.2 L869.5,836.0 L870.7,836.0 L871.9,836.0 L873.1,836.0 L874.3,836.0 L875.5,836.0 L876.7,836.0 L877.9,835.8 L879.1,835.5 L880.3,835.1 L881.5,834.5 L882.7,833.8 L883.9,833.0 L885.1,832.1 L886.3,831.2 L887.5,830.1 L888.7,829.0 L889.9,827.8 L891.1,826.6 L892.3,825.4 L893.5,824.1 L894.7,822.8 L895.9,821.6 L897.1,820.3 L898.3,819.0 L899.5,817.8 L900.7,816.6 L901.9,815.5 L903.1,814.4 L904.3,813.4 L905.5,812.4 L906.7,811.5 L907.9,810.6 L909.1,809.7 L910.3,808.8 L911.5,807.9 L912.7,807.0 L913.9,806.1 L915.1,805.2 L916.3,804.3 L917.5,803.4 L918.7,802.5 L919.9,801.6 L921.1,800.8 L922.3,799.9 L923.5,799.1 L924.7,798.2 L925.9,797.4 L927.1,796.6 L928.3,795.8 L929.5,795.1 L930.7,794.3 L931.9,793.6 L933.1,792.9 L934.3,792.2 L935.5,791.6 L936.7,790.9 L937.9,790.3 L939.1,789.6 L940.3,789.0 L941.5,788.4 L942.7,787.8 L943.9,787.2 L945.1,786.6 L946.3,786.0 L947.5,785.5 L948.7,784.9 L949.9,784.4 L951.1,783.8 L952.3,783.3 L953.5,782.8 L954.7,782.3 L955.9,781.8 L957.1,781.3 L958.3,780.8 L959.5,780.4 L960.7,780.0 L961.9,779.5 L963.1,779.1 L964.3,778.7 L965.5,778.4 L966.7,778.0 L967.9,777.6 L969.1,777.2 L970.3,776.9 L971.5,776.5 L972.7,776.2 L973.9,775.8 L975.1,775.5 L976.3,775.2 L977.5,774.9 L978.7,774.6 L979.9,774.3 L981.1,774.0 L982.3,773.7 L983.5,773.4 L984.7,773.1 L985.9,772.9 L987.1,772.6 L988.3,772.4 L989.5,772.1 L990.7,771.9 L991.9,771.7 L993.1,771.5 L994.3,771.2 L995.5,771.0 L996.7,770.8 L997.9,770.6 L999.1,770.4 L1000.3,770.3 L1001.5,770.1 L1002.7,769.9 L1003.9,769.7 L1005.1,769.5 L1006.3,769.3 L1007.5,769.2 L1008.7,769.0 L1009.9,768.9 L1011.1,768.7 L1012.3,768.6 L1013.5,768.4 L1014.7,768.3 L1015.9,768.2 L1017.1,768.1 L1018.3,767.9 L1019.5,767.8 L1020.7,767.7 L1021.9,767.7 L1023.1,767.6 L1024.3,767.5 L1025.5,767.4 L1026.7,767.4 L1027.9,767.3 L1029.1,767.2 L1030.3,767.1 L1031.5,767.1 L1032.7,767.0 L1033.9,766.9 L1035.1,766.9 L1036.3,766.8 L1037.5,766.8 L1038.7,766.7 L1039.9,766.7 L1041.1,766.6 L1042.3,766.6 L1043.5,766.5 L1044.7,766.5 L1045.9,766.5 L1047.1,766.4 L1048.3,766.4 L1049.5,766.4 L1050.7,766.4 L1051.9,766.4 L1053.1,766.4 L1054.3,766.4 L1055.5,766.4 L1056.7,766.5 L1057.9,766.5 L1059.1,766.6 L1060.3,766.6 L1061.5,766.7 L1062.7,766.8 L1063.9,766.9 L1065.1,767.0 L1066.3,767.1 L1067.5,767.2 L1068.7,767.3 L1069.9,767.4 L1071.1,767.5 L1072.3,767.6 L1073.5,767.7 L1074.7,767.8 L1075.9,768.0 L1077.1,768.1 L1078.3,768.2 L1079.5,768.3 L1080.7,768.4 L1081.9,768.5 L1083.1,768.7 L1084.3,768.8 L1085.5,768.9 L1086.7,769.1 L1087.9,769.3 L1089.1,769.4 L1090.3,769.6 L1091.5,769.8 L1092.7,770.0 L1093.9,770.2 L1095.1,770.4 L1096.3,770.5 L1097.5,770.7 L1098.7,770.9 L1099.9,771.1 L1101.1,771.3 L1102.3,771.4 L1103.5,771.6 L1104.7,771.7 L1105.9,771.9 L1107.1,772.0 L1108.3,772.1 L1109.5,772.2 L1110.7,772.3 L1111.9,772.4 L1113.1,772.4 L1114.3,772.5 L1115.5,772.6 L1116.7,772.6 L1117.9,772.7 L1119.1,772.8 L1120.3,772.8 L1121.5,772.8 L1122.7,772.9 L1123.9,772.9 L1125.1,772.9 L1126.3,772.9 L1127.5,772.8 L1128.7,772.7 L1129.9,772.6 L1131.1,772.4 L1132.3,772.2 L1133.5,772.0 L1134.7,771.9 L1135.9,771.7 L1137.1,771.6 L1138.3,771.5 L1139.5,771.4 L1140.7,771.4 L1141.9,771.4 L1143.1,771.5 L1144.3,771.6 L1145.5,771.7 L1146.7,771.8 L1147.9,772.0 L1149.1,772.1 L1150.3,772.2 L1151.5,772.3 L1152.7,772.3 L1153.9,772.0 L1155.1,769.9 L1156.3,766.4 L1157.5,762.6 L1158.7,759.2 L1159.9,756.9 L1161.1,754.5 L1162.3,752.5 L1163.5,751.1 L1164.7,751.2 L1165.9,753.9 L1167.1,758.1 L1168.3,762.3 L1169.5,765.2 L1170.7,765.4 L1171.9,764.2 L1173.1,762.2 L1174.3,760.1 L1175.5,758.4 L1176.7,757.6 L1177.9,757.9 L1179.1,758.6 L1180.3,759.8 L1181.5,761.1 L1182.7,762.5 L1183.9,763.8 L1185.1,765.0 L1186.3,766.3 L1187.5,767.7 L1188.7,769.1 L1189.9,770.5 L1191.1,771.9 L1192.3,773.2 L1193.5,774.3 L1194.7,775.2 L1195.9,775.8 L1197.1,776.3 L1198.3,776.7 L1199.5,777.1 L1200.7,777.5 L1201.9,777.9 L1203.1,778.2 L1204.3,778.6 L1205.5,778.9 L1206.7,779.2 L1207.9,779.4 L1209.1,779.7 L1210.3,779.9 L1211.5,780.1 L1212.7,780.4 L1213.9,780.6 L1215.1,780.8 L1216.3,781.0 L1217.5,781.2 L1218.7,781.4 L1219.9,781.6 L1221.1,781.8 L1222.3,782.0 L1223.5,782.2 L1224.7,782.5 L1225.9,782.7 L1227.1,783.0 L1228.3,783.2 L1229.5,783.5 L1230.7,783.8 L1231.9,784.1 L1233.1,784.3 L1234.3,784.6 L1235.5,784.9 L1236.7,785.2 L1237.9,785.5 L1239.1,785.8 L1240.3,786.1 L1241.5,786.3 L1242.7,786.6 L1243.9,786.9 L1245.1,787.2 L1246.3,787.5 L1247.5,787.7 L1248.7,788.0 L1249.9,788.3 L1251.1,788.6 L1252.3,788.9 L1253.5,789.1 L1254.7,789.4 L1255.9,789.7 L1257.1,789.9 L1258.3,790.2 L1259.5,790.4 L1260.7,790.7 L1261.9,790.9 L1263.1,791.2 L1264.3,791.4 L1265.5,791.6 L1266.7,791.9 L1267.9,792.1 L1269.1,792.4 L1270.3,792.6 L1271.5,792.8 L1272.7,793.0 L1273.9,793.3 L1275.1,793.5 L1276.3,793.7 L1277.5,794.0 L1278.7,794.2 L1279.9,794.4 L1281.1,794.7 L1282.3,794.9 L1283.5,795.1 L1284.7,795.4 L1285.9,795.6 L1287.1,795.8 L1288.3,796.1 L1289.5,796.3 L1290.7,796.6 L1291.9,796.8 L1293.1,797.1 L1294.3,797.4 L1295.5,797.6 L1296.7,797.9 L1297.9,798.2 L1299.1,798.5 L1300.3,798.8 L1301.5,799.1 L1302.7,799.4 L1303.9,799.7 L1305.1,800.0 L1306.3,800.3 L1307.5,800.6 L1308.7,800.9 L1309.9,801.2 L1311.1,801.6 L1312.3,801.9 L1313.5,802.2 L1314.7,802.5 L1315.9,802.8 L1317.1,803.2 L1318.3,803.5 L1319.5,803.8 L1320.7,804.1 L1321.9,804.4 L1323.1,804.7 L1324.3,805.0 L1325.5,805.3 L1326.7,805.6 L1327.9,805.9 L1329.1,806.2 L1330.3,806.5 L1331.5,806.7 L1332.7,807.1 L1333.9,807.4 L1335.1,807.6 L1336.3,807.7 L1337.5,807.9 L1338.7,808.1 L1339.9,808.8 L1341.1,809.6 L1342.3,810.0 L1343.5,810.5 L1344.7,810.9 L1345.9,811.2 L1347.1,810.6 L1348.3,810.1 L1349.5,810.7 L1350.7,811.4 L1351.9,813.0 L1353.1,814.2 L1354.3,812.9 L1355.5,811.7 L1356.7,812.0 L1357.9,812.3 L1359.1,812.7 L1360.3,812.9 L1361.5,812.9 L1362.7,812.9 L1363.9,813.0 L1365.1,813.1 L1366.3,814.0 L1367.5,814.6 L1368.7,814.6 L1369.9,814.3 L1371.1,813.3 L1372.3,812.5 L1373.5,812.9 L1374.7,814.0 L1375.9,818.5 L1377.1,821.6 L1378.3,817.0 L1379.5,813.3 L1380.7,813.7 L1381.9,814.1 L1383.1,814.1 L1384.3,814.2 L1385.5,814.5 L1386.7,814.9 L1387.9,815.3 L1389.1,815.9 L1390.3,816.9 L1391.5,817.7 L1392.7,816.8 L1393.9,816.1 L1395.1,815.9 L1396.3,816.0 L1397.5,817.3 L1398.7,818.2 L1399.9,817.1 L1401.1,816.6 L1402.3,818.8 L1403.5,820.7 L1404.7,820.8 L1405.9,820.9 L1407.1,821.3 L1408.3,821.7 L1409.5,821.9 L1410.7,822.1 L1411.9,822.7 L1413.1,822.8 L1414.3,820.1 L1415.5,817.8 L1416.7,817.6 L1417.9,817.7 L1419.1,819.1 L1420.3,820.3 L1421.5,820.7 L1422.7,821.4 L1423.9,823.3 L1425.1,824.5 L1426.3,821.6 L1427.5,819.2 L1428.7,819.6 L1429.9,820.4 L1431.1,823.4 L1432.3,825.7 L1433.5,824.4 L1434.7,823.2 L1435.9,823.0 L1437.1,822.6 L1438.3,821.6 L1439.5,820.9 L1440.7,821.5 L1441.9,822.3 L1443.1,824.0 L1444.3,825.6 L1445.5,826.2 L1446.7,826.7 L1447.9,826.5 L1449.1,826.5 L1450.3,827.2 L1451.5,827.8 L1452.7,827.8 L1453.9,827.7 L1455.1,826.9 L1456.3,826.5 L1457.5,827.8 L1458.7,828.7 L1459.9,827.6 L1461.1,826.6 L1462.3,826.5 L1463.5,827.0 L1464.7,830.5 L1465.9,833.5 L1467.1,833.7 L1468.3,833.6 L1469.5,832.7 L1470.7,831.8 L1471.9,830.9 L1473.1,830.2 L1474.3,830.5 L1475.5,830.9 L1476.7,831.5 L1477.9,832.4 L1479.1,835.0 L1480.3,836.8 L1481.5,835.0 L1482.7,833.8 L1483.9,835.3 L1485.1,836.9 L1486.3,838.4 L1487.5,839.3 L1488.7,837.1 L1489.9,835.5 L1491.1,836.3 L1492.3,837.4 L1493.5,839.4 L1494.7,841.3 L1495.9,842.1 L1497.1,843.1 L1498.3,844.5 L1499.5,845.5 L1500.7,844.4 L1501.9,843.5 L1503.1,843.7 L1504.3,843.9 L1505.5,844.3 L1506.7,844.9 L1507.9,847.0 L1509.1,849.2 L1510.3,852.7 L1511.5,855.2 L1512.7,852.4 L1513.9,850.5 L1515.1,852.2 L1516.3,853.9 L1517.5,855.7 L1518.7,857.2 L1519.9,857.2 L1521.1,858.0 L1522.3,863.0 L1523.5,866.9 L1524.7,864.6 L1525.9,862.7 L1527.1,862.5 L1528.3,862.4 L1529.5,862.7 L1530.7,863.2 L1531.9,864.7 L1533.1,866.2 L1534.3,867.9 L1535.5,869.3 L1536.7,869.4 L1537.9,869.8 L1539.1,871.3 L1540.3,872.8 L1541.5,873.9 L1542.7,875.0 L1543.9,876.0 L1545.1,877.2 L1546.3,878.9 L1547.5,881.1 L1548.7,885.4 L1549.9,889.4 L1551.1,891.5 L1552.3,893.4 L1553.5,893.8 L1554.7,894.8 L1555.9,897.8 L1557.1,900.9 L1558.3,904.2 L1559.5,907.6 L1560.7,912.1 L1561.9,915.8 L1563.1,915.5 L1564.3,915.7 L1565.5,918.8 L1566.7,921.8 L1567.9,923.8 L1569.1,925.9 L1570.3,928.0 L1571.5,930.3 L1572.7,933.2 L1573.9,935.6 L1575.1,936.0 L1576.3,936.6 L1577.5,938.8 L1578.7,941.1 L1579.9,944.3 L1581.1,947.5 L1582.3,950.7 L1583.5,953.8 L1584.7,955.2 L1585.9,956.8 L1587.1,959.9 L1588.3,962.3 L1589.5,961.9 L1590.7,961.4 L1591.9,962.0 L1593.1,962.4 L1594.3,962.8 L1595.5,963.4 L1596.7,964.5 L1597.9,965.5 L1599.1,966.4 L1600.3,966.9 L1601.5,965.3 L1602.7,964.2 L1603.9,965.3 L1605.1,965.7 L1606.3,963.5 L1607.5,961.8 L1608.7,963.1 L1609.9,963.5 L1611.1,960.0 L1612.3,956.8 L1613.5,954.4 L1614.7,952.1 L1615.9,950.8 L1617.1,949.3 L1618.3,947.5 L1619.5,945.8 L1620.7,944.6 L1621.9,943.3 L1623.1,940.6 L1624.3,938.2 L1625.5,935.8 L1626.7,933.8 L1627.9,933.4 L1629.1,932.9 L1630.3,931.6 L1631.5,930.5 L1632.7,930.5 L1633.9,930.6 L1635.1,930.2 L1636.3,929.9 L1637.5,929.1 L1638.7,928.7 L1639.9,928.8 L1641.1,929.3 L1642.3,930.5 L1643.5,932.4 L1644.7,937.4 L1645.9,941.4 L1647.1,940.8 L1648.3,940.4 L1649.5,940.6 L1650.7,941.1 L1651.9,942.5 L1653.1,944.4 L1654.3,949.2 L1655.5,953.0 L1656.7,951.9 L1657.9,951.2 L1659.1,952.3 L1660.3,953.2 L1661.5,953.5 L1662.7,953.9 L1663.9,954.8 L1665.1,956.0 L1666.3,958.8 L1667.5,961.7 L1668.7,965.2 L1669.9,968.2 L1671.1,968.4 L1672.3,969.0 L1673.5,972.2 L1674.7,974.3 L1675.9,972.6 L1677.1,971.2 L1678.3,972.0 L1679.5,972.9 L1680.7,974.5 L1681.9,976.0 L1683.1,976.9 L1684.3,977.9 L1685.5,979.3 L1686.7,980.1 L1687.9,978.3 L1689.1,977.0 L1690.3,978.3 L1691.5,979.5 L1692.7,980.3 L1693.9,981.3 L1695.1,983.6 L1696.3,984.7 L1697.5,981.7 L1698.7,979.4 L1699.9,979.6 L1701.1,980.3 L1702.3,983.2 L1703.5,984.9 L1704.7,982.6 L1705.9,981.6 L1707.1,983.8 L1708.3,985.6 L1709.5,985.9 L1710.7,986.8 L1711.9,988.9 L1713.1,990.8 L1714.3,992.0 L1715.5,993.4 L1716.7,995.1 L1717.9,997.0 L1719.1,999.1 L1720.3,1001.3 L1721.5,1003.7 L1722.7,1006.3 L1723.9,1008.9 L1725.1,1011.5 L1726.3,1014.0 L1727.5,1016.6 L1728.7,1019.0 L1729.9,1021.5 L1731.1,1024.0 L1732.3,1026.5 L1733.5,1029.0 L1734.7,1031.5 L1735.9,1034.0 L1737.1,1036.4 L1738.3,1038.7 L1739.5,1040.8 L1740.7,1042.9 L1741.9,1044.9 L1743.1,1047.0 L1744.3,1048.9 L1745.5,1050.9 L1746.7,1052.7 L1747.9,1054.4 L1749.1,1056.1 L1750.3,1057.6 L1751.5,1059.0 L1752.7,1060.3 L1753.9,1061.6 L1755.1,1063.0 L1756.3,1064.2 L1757.5,1065.3 L1758.7,1066.1 L1759.9,1066.5 L1761.1,1066.6 L1762.3,1066.2 L1763.5,1065.5 L1764.7,1064.5 L1765.9,1063.3 L1767.1,1061.8 L1768.3,1060.2 L1769.5,1057.0 L1770.7,1052.4 L1771.9,1046.8 L1773.1,1040.7 L1774.3,1034.5 L1775.5,1028.5 L1776.7,1022.4 L1777.9,1015.7 L1779.1,1008.8 L1780.3,1001.9 L1781.5,995.0 L1782.7,988.4 L1783.9,981.8 L1785.1,975.3 L1786.3,968.8 L1787.5,962.4 L1788.7,956.4 L1789.9,950.7 L1791.1,945.2 L1792.3,939.8 L1793.5,934.5 L1794.7,929.4 L1795.9,924.7 L1797.1,920.4 L1798.3,916.6 L1799.5,913.4 L1800.7,910.3 L1801.9,907.4 L1803.1,904.7 L1804.3,902.2 L1805.5,899.8 L1806.7,897.6 L1807.9,895.6 L1809.1,893.8 L1810.3,892.1 L1811.5,890.6 L1812.7,889.2 L1813.9,887.8 L1815.1,886.5 L1816.3,885.3 L1817.5,884.2 L1818.7,883.2 L1819.9,882.3 L1821.1,881.5 L1822.3,880.8 L1823.5,880.2 L1824.7,879.6 L1825.9,879.0 L1827.1,878.5 L1828.3,878.0 L1829.5,877.5 L1830.7,877.1 L1831.9,876.7 L1833.1,876.4 L1834.3,876.1 L1835.5,875.9 L1836.7,875.8 L1837.9,875.7 L1839.1,875.6 L1840.3,875.5 L1841.5,875.4 L1842.7,875.3 L1843.9,875.2 L1845.1,875.2 L1846.3,875.1 L1847.5,875.0 L1848.7,875.0 L1849.9,874.9 L1851.1,874.9 L1852.3,874.8 L1853.5,874.8 L1854.7,874.7 L1855.9,874.7 L1857.1,874.7 L1858.3,874.6 L1859.5,874.6 L1860.7,874.6 L1861.9,874.6 L1863.1,874.6 L1864.3,874.6 L1865.5,874.6 L1866.7,874.7 L1867.9,874.7 L1869.1,874.8 L1870.3,874.9 L1871.5,875.0 L1872.7,875.1 L1873.9,875.3 L1875.1,875.4 L1876.3,875.5 L1877.5,875.7 L1878.7,875.9 L1879.9,876.0 L1881.1,876.2 L1882.3,876.4 L1883.5,876.6 L1884.7,876.8 L1885.9,877.0 L1887.1,877.2 L1888.3,877.4 L1889.5,877.6 L1890.7,877.8 L1891.9,878.1 L1893.1,878.4 L1894.3,878.7 L1895.5,879.0 L1896.7,879.3 L1897.9,879.7 L1899.1,880.1 L1900.3,880.5 L1901.5,880.9 L1902.7,881.4 L1903.9,881.8 L1905.1,882.3 L1906.3,882.8 L1907.5,883.4 L1908.7,883.9 L1909.9,884.5 L1911.1,885.1 L1912.3,885.9 L1913.5,886.7 L1914.7,887.6 L1915.9,888.5 L1917.1,889.5 L1918.3,890.6 L1919.5,891.7 L1920.7,892.8 L1921.9,894.0 L1923.1,895.1 L1924.3,896.2 L1925.5,897.4 L1926.7,898.5 L1927.9,899.6 L1929.1,900.7 L1930.3,901.9 L1931.5,903.1 L1932.7,904.4 L1933.9,905.6 L1935.1,906.9 L1936.3,908.2 L1937.5,909.4 L1938.7,910.6 L1939.9,911.8 L1941.1,912.9 L1942.3,914.0 L1943.5,914.9 L1944.7,915.7 L1945.9,916.5 L1947.1,917.2 L1948.3,917.8 L1949.5,918.3 L1950.7,918.8 L1951.9,919.3 L1953.1,919.8 L1954.3,920.2 L1955.5,920.7 L1956.7,921.2 L1957.9,921.7 L1959.1,922.2 L1960.3,922.8 L1961.5,923.5 L1962.7,924.2 L1963.9,925.0 L1965.1,925.9 L1966.3,926.9 L1967.5,927.9 L1968.7,929.0 L1969.9,930.1 L1971.1,931.3 L1972.3,932.6 L1973.5,933.9 L1974.7,935.1 L1975.9,936.4 L1977.1,937.8 L1978.3,939.1 L1979.5,940.3 L1980.7,941.6 L1981.9,942.9 L1983.1,944.2 L1984.3,945.5 L1985.5,946.9 L1986.7,948.2 L1987.9,949.6 L1989.1,951.0 L1990.3,952.4 L1991.5,953.9 L1992.7,955.3 L1993.9,956.8 L1995.1,958.3 L1996.3,959.8 L1997.5,961.3 L1998.7,962.8 L1999.9,964.4 L2001.1,966.1 L2002.3,967.8 L2003.5,969.5 L2004.7,971.2 L2005.9,973.0 L2007.1,974.7 L2008.3,976.5 L2009.5,978.3 L2010.7,980.0 L2011.9,981.7 L2013.1,983.4 L2014.3,985.1 L2015.5,986.7 L2016.7,988.3 L2017.9,989.9 L2019.1,991.4 L2020.3,993.0 L2021.5,994.5 L2022.7,996.1 L2023.9,997.6 L2025.1,999.1 L2026.3,1000.6 L2027.5,1002.1 L2028.7,1003.5 L2029.9,1004.9 L2031.1,1006.3 L2032.3,1007.7 L2033.5,1009.0 L2034.7,1010.3 L2035.9,1011.6 L2037.1,1012.8 L2038.3,1014.0 L2039.5,1015.2 L2040.7,1016.4 L2041.9,1017.5 L2043.1,1018.7 L2044.3,1019.8 L2045.5,1021.0 L2046.7,1022.1 L2047.9,1023.3 L2049.1,1024.5 L2050.3,1025.8 L2051.5,1027.1 L2052.7,1028.5 L2053.9,1030.0 L2055.1,1031.5 L2056.3,1033.1 L2057.5,1034.7 L2058.7,1036.2 L2059.9,1037.7 L2061.1,1039.0 L2062.3,1040.3 L2063.5,1041.3 L2064.7,1042.1 L2065.9,1042.7 L2067.1,1043.2 L2068.3,1043.7 L2069.5,1044.1 L2070.7,1044.5 L2071.9,1044.8 L2073.1,1045.1 L2074.3,1045.4 L2075.5,1045.7 L2076.7,1046.0 L2077.9,1046.3 L2079.1,1046.6 L2080.3,1046.9 L2081.5,1047.2 L2082.7,1047.6 L2083.9,1048.0 L2085.1,1048.4 L2086.3,1048.8 L2087.5,1049.2 L2088.7,1049.7 L2089.9,1050.1 L2091.1,1050.5 L2092.3,1051.0 L2093.5,1051.4 L2094.7,1051.9 L2095.9,1052.4 L2097.1,1052.9 L2098.3,1053.4 L2099.5,1053.9 L2100.7,1054.4 L2101.9,1054.9 L2103.1,1055.5 L2104.3,1056.0 L2105.5,1056.6 L2106.7,1057.2 L2107.9,1057.9 L2109.1,1058.5 L2110.3,1059.2 L2111.5,1059.9 L2112.7,1060.6 L2113.9,1061.3 L2115.1,1062.0 L2116.3,1062.7 L2117.5,1063.5 L2118.7,1064.2 L2119.9,1064.9 L2121.1,1065.6 L2122.3,1066.4 L2123.5,1067.1 L2124.7,1067.7 L2125.9,1068.4 L2127.1,1069.2 L2128.3,1069.9 L2129.5,1070.6 L2130.7,1071.4 L2131.9,1072.1 L2133.1,1072.8 L2134.3,1073.6 L2135.5,1074.3 L2136.7,1075.0 L2137.9,1075.7 L2139.1,1076.3 L2140.3,1077.0 L2141.5,1077.6 L2142.7,1078.2 L2143.9,1078.8 L2145.1,1079.3 L2146.3,1079.8 L2147.5,1080.3 L2148.7,1080.8 L2149.9,1081.3 L2151.1,1081.7 L2152.3,1082.1 L2153.5,1082.6 L2154.7,1083.0 L2155.9,1083.4 L2157.1,1083.8 L2158.3,1084.2 L2159.5,1084.6 L2160.7,1085.0 L2161.9,1085.4 L2163.1,1085.8 L2164.3,1086.2 L2165.5,1086.6 L2166.7,1087.0 L2167.9,1087.4 L2169.1,1087.8 L2170.3,1088.1 L2171.5,1088.5 L2172.7,1088.9 L2173.9,1089.2 L2175.1,1089.6 L2176.3,1090.0 L2177.5,1090.4 L2178.7,1090.8 L2179.9,1091.2 L2181.1,1091.6 L2182.3,1092.1 L2183.5,1092.6 L2184.7,1093.2 L2185.9,1093.9 L2187.1,1094.6 L2188.3,1095.3 L2189.5,1096.0 L2190.7,1096.7 L2191.9,1097.3 L2193.1,1097.8 L2194.3,1098.2 L2195.5,1098.4 L2196.7,1098.6 L2197.9,1098.9 L2199.1,1099.1 L2200.3,1099.2 L2201.5,1099.4 L2202.7,1099.5 L2203.9,1099.6 L2205.1,1099.7 L2206.3,1099.7 L2207.5,1099.6 L2208.7,1099.4 L2209.9,1099.1 L2211.1,1098.8 L2212.3,1098.3 L2213.5,1097.7 L2214.7,1097.2 L2215.9,1096.5 L2217.1,1095.9 L2218.3,1095.2 L2219.5,1094.5 L2220.7,1093.9 L2221.9,1093.3 L2223.1,1092.5 L2224.3,1091.8 L2225.5,1090.9 L2226.7,1090.1 L2227.9,1089.2 L2229.1,1088.2 L2230.3,1087.3 L2231.5,1086.3 L2232.7,1085.3 L2233.9,1084.3 L2235.1,1083.3 L2236.3,1082.3 L2237.5,1081.4 L2238.7,1080.4 L2239.9,1079.6 L2241.1,1078.7 L2242.3,1077.9 L2243.5,1077.1 L2244.7,1076.3 L2245.9,1075.4 L2247.1,1074.5 L2248.3,1073.6 L2249.5,1072.6 L2250.7,1071.5 L2251.9,1070.3 L2253.1,1069.0 L2254.3,1067.5 L2255.5,1065.5 L2256.7,1063.3 L2257.9,1060.9 L2259.1,1058.3 L2260.3,1055.6 L2261.5,1052.8 L2262.7,1050.1 L2263.9,1047.5 L2265.1,1045.0 L2266.3,1042.4 L2267.5,1039.7 L2268.7,1036.9 L2269.9,1034.1 L2271.1,1031.4 L2272.3,1029.1 L2273.5,1027.0 L2274.7,1025.4 L2275.9,1024.3 L2277.1,1023.2 L2278.3,1022.2 L2279.5,1021.3 L2280.7,1020.6 L2281.9,1020.0 L2283.1,1019.7 L2284.3,1019.6 L2285.5,1019.9 L2286.7,1020.4 L2287.9,1021.3 L2289.1,1022.3 L2290.3,1023.5 L2291.5,1024.8 L2292.7,1026.2 L2293.9,1027.9 L2295.1,1030.4 L2296.3,1033.5 L2297.5,1037.0 L2298.7,1040.8 L2299.9,1044.6 L2301.1,1048.4 L2302.3,1052.0 L2303.5,1055.2 L2304.7,1058.4 L2305.9,1061.6 L2307.1,1064.8 L2308.3,1068.0 L2309.5,1071.1 L2310.7,1074.2 L2311.9,1077.1 L2313.1,1079.9 L2314.3,1082.5 L2315.5,1084.9 L2316.7,1087.2 L2317.9,1089.5 L2319.1,1091.7 L2320.3,1093.7 L2321.5,1095.7 L2322.7,1097.6 L2323.9,1099.4 L2325.1,1101.1 L2326.3,1102.8 L2327.5,1104.6 L2328.7,1106.4 L2329.9,1108.2 L2331.1,1109.9 L2332.3,1111.4 L2333.5,1112.7 L2334.7,1113.6 L2335.9,1114.2 L2337.1,1114.3 L2338.3,1114.2 L2339.5,1114.1 L2340.7,1113.8 L2341.9,1113.4 L2343.1,1112.8 L2344.3,1112.0 L2345.5,1111.1 L2346.7,1109.9 L2347.9,1108.5"/>
<path stroke="#ff00ff" d="M174.7,1057.4 L175.9,1057.8 L177.1,1058.1 L178.3,1058.5 L179.5,1058.8 L180.7,1059.2 L181.9,1059.6 L183.1,1059.9 L184.3,1060.3 L185.5,1060.7 L186.7,1061.1 L187.9,1061.4 L189.1,1061.6 L190.3,1062.0 L191.5,1062.4 L192.7,1062.6 L193.9,1062.9 L195.1,1063.7 L196.3,1064.5 L197.5,1064.8 L198.7,1065.0 L199.9,1065.0 L201.1,1065.1 L202.3,1065.6 L203.5,1066.3 L204.7,1067.4 L205.9,1068.5 L207.1,1068.9 L208.3,1069.4 L209.5,1070.4 L210.7,1070.9 L211.9,1069.3 L213.1,1068.4 L214.3,1070.3 L215.5,1071.9 L216.7,1071.7 L217.9,1071.7 L219.1,1072.0 L220.3,1072.2 L221.5,1071.8 L222.7,1071.6 L223.9,1072.2 L225.1,1073.1 L226.3,1075.0 L227.5,1076.7 L228.7,1077.3 L229.9,1077.6 L231.1,1076.4 L232.3,1075.7 L233.5,1076.7 L234.7,1077.7 L235.9,1078.5 L237.1,1079.1 L238.3,1078.6 L239.5,1078.3 L240.7,1078.6 L241.9,1079.0 L243.1,1079.4 L244.3,1080.0 L245.5,1081.0 L246.7,1081.9 L247.9,1081.5 L249.1,1081.4 L250.3,1082.9 L251.5,1084.1 L252.7,1083.9 L253.9,1083.8 L255.1,1083.9 L256.3,1084.2 L257.5,1085.1 L258.7,1086.0 L259.9,1086.4 L261.1,1086.6 L262.3,1086.5 L263.5,1086.6 L264.7,1088.0 L265.9,1089.4 L267.1,1091.2 L268.3,1092.4 L269.5,1091.0 L270.7,1089.9 L271.9,1090.2 L273.1,1090.5 L274.3,1091.2 L275.5,1092.2 L276.7,1095.2 L277.9,1097.3 L279.1,1094.9 L280.3,1093.2 L281.5,1094.3 L282.7,1095.2 L283.9,1095.0 L285.1,1095.1 L286.3,1097.2 L287.5,1098.8 L288.7,1098.6 L289.9,1098.7 L291.1,1100.1 L292.3,1101.1 L293.5,1100.3 L294.7,1099.7 L295.9,1100.1 L297.1,1100.8 L298.3,1103.2 L299.5,1105.3 L300.7,1106.1 L301.9,1106.8 L303.1,1106.4 L304.3,1106.3 L305.5,1107.9 L306.7,1109.2 L307.9,1109.7 L309.1,1110.3 L310.3,1111.4 L311.5,1112.6 L312.7,1114.3 L313.9,1115.9 L315.1,1116.1 L316.3,1116.7 L317.5,1118.7 L318.7,1120.8 L319.9,1123.4 L321.1,1125.8 L322.3,1127.3 L323.5,1128.8 L324.7,1130.0 L325.9,1131.6 L327.1,1134.8 L328.3,1137.6 L329.5,1137.9 L330.7,1138.5 L331.9,1140.3 L333.1,1142.3 L334.3,1144.9 L335.5,1147.7 L336.7,1150.7 L337.9,1153.7 L339.1,1155.3 L340.3,1157.4 L341.5,1161.2 L342.7,1165.3 L343.9,1169.1 L345.1,1173.3 L346.3,1178.6 L347.5,1183.7 L348.7,1187.8 L349.9,1192.3 L351.1,1197.7 L352.3,1202.9 L353.5,1207.2 L354.7,1211.5 L355.9,1216.2 L357.1,1221.0 L358.3,1226.3 L359.5,1231.4 L360.7,1235.9 L361.9,1239.9 L363.1,1242.8 L364.3,1245.8 L365.5,1249.9 L366.7,1253.6 L367.9,1256.5 L369.1,1259.3 L370.3,1262.5 L371.5,1265.4 L372.7,1267.3 L373.9,1269.3 L375.1,1271.7 L376.3,1274.1 L377.5,1276.6 L378.7,1279.0 L379.9,1281.1 L381.1,1283.0 L382.3,1284.6 L383.5,1286.1 L384.7,1288.2 L385.9,1290.1 L387.1,1291.7 L388.3,1293.2 L389.5,1294.7 L390.7,1296.2 L391.9,1297.7 L393.1,1299.0 L394.3,1300.1 L395.5,1301.2 L396.7,1302.5 L397.9,1303.6 L399.1,1304.4 L400.3,1305.2 L401.5,1305.9 L402.7,1306.6 L403.9,1307.4 L405.1,1308.3 L406.3,1309.1 L407.5,1309.8 L408.7,1310.5 L409.9,1311.2 L411.1,1311.8 L412.3,1312.4 L413.5,1313.1 L414.7,1313.7 L415.9,1314.2 L417.1,1314.8 L418.3,1315.3 L419.5,1315.9 L420.7,1316.4 L421.9,1316.9 L423.1,1317.4 L424.3,1318.0 L425.5,1318.5 L426.7,1319.0 L427.9,1319.5 L429.1,1319.9 L430.3,1320.4 L431.5,1320.9 L432.7,1321.3 L433.9,1321.7 L435.1,1322.1 L436.3,1322.5 L437.5,1322.9 L438.7,1323.2 L439.9,1323.5 L441.1,1323.8 L442.3,1324.1 L443.5,1324.3 L444.7,1324.5 L445.9,1324.8 L447.1,1325.0 L448.3,1325.2 L449.5,1325.4 L450.7,1325.6 L451.9,1325.8 L453.1,1326.0 L454.3,1326.2 L455.5,1326.3 L456.7,1326.5 L457.9,1326.6 L459.1,1326.8 L460.3,1326.9 L461.5,1327.0 L462.7,1327.1 L463.9,1327.1 L465.1,1327.2 L466.3,1327.2 L467.5,1327.2 L468.7,1327.2 L469.9,1327.2 L471.1,1327.2 L472.3,1327.2 L473.5,1327.2 L474.7,1327.2 L475.9,1327.1 L477.1,1327.1 L478.3,1327.1 L479.5,1327.1 L480.7,1327.1 L481.9,1327.0 L483.1,1327.0 L484.3,1327.0 L485.5,1326.9 L486.7,1326.9 L487.9,1326.9 L489.1,1326.8 L490.3,1326.8 L491.5,1326.7 L492.7,1326.6 L493.9,1326.4 L495.1,1326.3 L496.3,1326.1 L497.5,1326.0 L498.7,1325.8 L499.9,1325.6 L501.1,1325.4 L502.3,1325.2 L503.5,1325.0 L504.7,1324.7 L505.9,1324.5 L507.1,1324.2 L508.3,1324.0 L509.5,1323.7 L510.7,1323.4 L511.9,1323.2 L513.1,1322.8 L514.3,1322.5 L515.5,1322.1 L516.7,1321.7 L517.9,1321.2 L519.1,1320.7 L520.3,1320.2 L521.5,1319.7 L522.7,1319.1 L523.9,1318.5 L525.1,1318.0 L526.3,1317.4 L527.5,1316.7 L528.7,1316.1 L529.9,1315.5 L531.1,1314.9 L532.3,1314.3 L533.5,1313.7 L534.7,1313.0 L535.9,1312.4 L537.1,1311.8 L538.3,1311.1 L539.5,1310.5 L540.7,1309.8 L541.9,1309.1 L543.1,1308.4 L544.3,1307.6 L545.5,1306.9 L546.7,1306.1 L547.9,1305.4 L549.1,1304.6 L550.3,1303.9 L551.5,1303.1 L552.7,1302.3 L553.9,1301.5 L555.1,1300.7 L556.3,1300.0 L557.5,1299.2 L558.7,1298.4 L559.9,1297.6 L561.1,1296.8 L562.3,1296.0 L563.5,1295.2 L564.7,1294.4 L565.9,1293.6 L567.1,1292.7 L568.3,1291.9 L569.5,1291.0 L570.7,1290.2 L571.9,1289.3 L573.1,1288.4 L574.3,1287.6 L575.5,1286.7 L576.7,1285.8 L577.9,1284.9 L579.1,1284.1 L580.3,1283.2 L581.5,1282.4 L582.7,1281.5 L583.9,1280.7 L585.1,1279.8 L586.3,1279.0 L587.5,1278.2 L588.7,1277.4 L589.9,1276.6 L591.1,1275.9 L592.3,1275.1 L593.5,1274.3 L594.7,1273.6 L595.9,1272.9 L597.1,1272.1 L598.3,1271.4 L599.5,1270.7 L600.7,1270.0 L601.9,1269.2 L603.1,1268.5 L604.3,1267.8 L605.5,1267.1 L606.7,1266.4 L607.9,1265.7 L609.1,1265.0 L610.3,1264.3 L611.5,1263.6 L612.7,1262.9 L613.9,1262.2 L615.1,1261.5 L616.3,1260.8 L617.5,1260.1 L618.7,1259.4 L619.9,1258.7 L621.1,1257.9 L622.3,1257.2 L623.5,1256.5 L624.7,1255.8 L625.9,1255.1 L627.1,1254.4 L628.3,1253.7 L629.5,1253.0 L630.7,1252.3 L631.9,1251.6 L633.1,1250.9 L634.3,1250.2 L635.5,1249.5 L636.7,1248.8 L637.9,1248.0 L639.1,1247.3 L640.3,1246.6 L641.5,1245.9 L642.7,1245.1 L643.9,1244.4 L645.1,1243.7 L646.3,1242.9 L647.5,1242.1 L648.7,1241.4 L649.9,1240.6 L651.1,1239.8 L652.3,1239.0 L653.5,1238.2 L654.7,1237.4 L655.9,1236.5 L657.1,1235.7 L658.3,1234.9 L659.5,1234.0 L660.7,1233.2 L661.9,1232.3 L663.1,1231.5 L664.3,1230.6 L665.5,1229.8 L666.7,1228.9 L667.9,1228.0 L669.1,1227.2 L670.3,1226.3 L671.5,1225.5 L672.7,1224.6 L673.9,1223.7 L675.1,1222.9 L676.3,1222.0 L677.5,1221.2 L678.7,1220.3 L679.9,1219.5 L681.1,1218.6 L682.3,1217.8 L683.5,1216.9 L684.7,1216.0 L685.9,1215.2 L687.1,1214.3 L688.3,1213.4 L689.5,1212.5 L690.7,1211.6 L691.9,1210.8 L693.1,1209.9 L694.3,1209.0 L695.5,1208.2 L696.7,1207.3 L697.9,1206.5 L699.1,1205.6 L700.3,1204.8 L701.5,1204.0 L702.7,1203.2 L703.9,1202.4 L705.1,1201.7 L706.3,1200.9 L707.5,1200.2 L708.7,1199.5 L709.9,1198.8 L711.1,1198.2 L712.3,1197.5 L713.5,1196.9 L714.7,1196.3 L715.9,1195.6 L717.1,1195.0 L718.3,1194.5 L719.5,1193.9 L720.7,1193.3 L721.9,1192.7 L723.1,1192.0 L724.3,1191.4 L725.5,1190.8 L726.7,1190.2 L727.9,1189.5 L729.1,1188.8 L730.3,1188.1 L731.5,1187.4 L732.7,1186.7 L733.9,1185.9 L735.1,1185.2 L736.3,1184.4 L737.5,1183.7 L738.7,1182.9 L739.9,1182.1 L741.1,1181.3 L742.3,1180.5 L743.5,1179.7 L744.7,1178.9 L745.9,1178.1 L747.1,1177.3 L748.3,1176.5 L749.5,1175.7 L750.7,1174.9 L751.9,1174.1 L753.1,1173.3 L754.3,1172.5 L755.5,1171.7 L756.7,1170.9 L757.9,1170.1 L759.1,1169.3 L760.3,1168.6 L761.5,1167.8 L762.7,1167.0 L763.9,1166.2 L765.1,1165.4 L766.3,1164.6 L767.5,1163.8 L768.7,1163.1 L769.9,1162.3 L771.1,1161.5 L772.3,1160.7 L773.5,1159.9 L774.7,1159.1 L775.9,1158.3 L777.1,1157.6 L778.3,1156.8 L779.5,1156.0 L780.7,1155.2 L781.9,1154.5 L783.1,1153.7 L784.3,1152.9 L785.5,1152.2 L786.7,1151.4 L787.9,1150.7 L789.1,1149.9 L790.3,1149.2 L791.5,1148.5 L792.7,1147.9 L793.9,1147.3 L795.1,1146.6 L796.3,1146.0 L797.5,1145.4 L798.7,1144.8 L799.9,1144.2 L801.1,1143.6 L802.3,1143.0 L803.5,1142.4 L804.7,1141.7 L805.9,1141.0 L807.1,1140.4 L808.3,1139.6 L809.5,1138.9 L810.7,1138.1 L811.9,1137.3 L813.1,1136.5 L814.3,1135.6 L815.5,1134.6 L816.7,1133.6 L817.9,1132.5 L819.1,1131.3 L820.3,1129.9 L821.5,1128.2 L822.7,1126.4 L823.9,1124.1 L825.1,1120.5 L826.3,1117.1 L827.5,1115.4 L828.7,1115.8 L829.9,1116.9 L831.1,1118.2 L832.3,1119.3 L833.5,1119.8 L834.7,1119.8 L835.9,1119.6 L837.1,1119.5 L838.3,1119.2 L839.5,1119.0 L840.7,1118.6 L841.9,1118.3 L843.1,1117.9 L844.3,1117.6 L845.5,1117.2 L846.7,1116.8 L847.9,1116.4 L849.1,1116.0 L850.3,1115.6 L851.5,1115.1 L852.7,1114.6 L853.9,1114.1 L855.1,1113.5 L856.3,1112.9 L857.5,1112.2 L858.7,1111.4 L859.9,1110.6 L861.1,1109.7 L862.3,1108.5 L863.5,1106.5 L864.7,1104.0 L865.9,1101.7 L867.1,1099.7 L868.3,1098.7 L869.5,1098.8 L870.7,1099.7 L871.9,1100.9 L873.1,1102.0 L874.3,1102.7 L875.5,1102.7 L876.7,1102.5 L877.9,1102.2 L879.1,1101.8 L880.3,1101.4 L881.5,1100.8 L882.7,1100.3 L883.9,1099.6 L885.1,1099.0 L886.3,1098.4 L887.5,1097.8 L888.7,1097.2 L889.9,1096.6 L891.1,1096.1 L892.3,1095.7 L893.5,1095.2 L894.7,1094.7 L895.9,1094.2 L897.1,1093.7 L898.3,1093.2 L899.5,1092.7 L900.7,1092.3 L901.9,1091.8 L903.1,1091.3 L904.3,1090.8 L905.5,1090.3 L906.7,1089.8 L907.9,1089.4 L909.1,1088.9 L910.3,1088.4 L911.5,1088.0 L912.7,1087.5 L913.9,1087.1 L915.1,1086.7 L916.3,1086.3 L917.5,1085.9 L918.7,1085.5 L919.9,1085.2 L921.1,1084.8 L922.3,1084.5 L923.5,1084.1 L924.7,1083.8 L925.9,1083.4 L927.1,1083.1 L928.3,1082.8 L929.5,1082.5 L930.7,1082.2 L931.9,1081.8 L933.1,1081.5 L934.3,1081.2 L935.5,1081.0 L936.7,1080.7 L937.9,1080.4 L939.1,1080.1 L940.3,1079.9 L941.5,1079.6 L942.7,1079.4 L943.9,1079.1 L945.1,1078.9 L946.3,1078.6 L947.5,1078.4 L948.7,1078.2 L949.9,1078.0 L951.1,1077.8 L952.3,1077.6 L953.5,1077.4 L954.7,1077.2 L955.9,1077.0 L957.1,1076.8 L958.3,1076.6 L959.5,1076.5 L960.7,1076.3 L961.9,1076.1 L963.1,1075.9 L964.3,1075.8 L965.5,1075.6 L966.7,1075.4 L967.9,1075.3 L969.1,1075.2 L970.3,1075.0 L971.5,1074.9 L972.7,1074.8 L973.9,1074.7 L975.1,1074.6 L976.3,1074.5 L977.5,1074.4 L978.7,1074.3 L979.9,1074.2 L981.1,1074.2 L982.3,1074.1 L983.5,1074.0 L984.7,1074.0 L985.9,1073.9 L987.1,1073.9 L988.3,1073.8 L989.5,1073.7 L990.7,1073.7 L991.9,1073.6 L993.1,1073.6 L994.3,1073.5 L995.5,1073.5 L996.7,1073.4 L997.9,1073.4 L999.1,1073.3 L1000.3,1073.3 L1001.5,1073.2 L1002.7,1073.2 L1003.9,1073.1 L1005.1,1073.1 L1006.3,1073.1 L1007.5,1073.0 L1008.7,1073.0 L1009.9,1073.0 L1011.1,1072.9 L1012.3,1072.9 L1013.5,1072.9 L1014.7,1072.9 L1015.9,1072.8 L1017.1,1072.8 L1018.3,1072.8 L1019.5,1072.8 L1020.7,1072.8 L1021.9,1072.8 L1023.1,1072.8 L1024.3,1072.8 L1025.5,1072.8 L1026.7,1072.8 L1027.9,1072.8 L1029.1,1072.8 L1030.3,1072.8 L1031.5,1072.8 L1032.7,1072.8 L1033.9,1072.8 L1035.1,1072.9 L1036.3,1072.9 L1037.5,1072.9 L1038.7,1072.9 L1039.9,1072.9 L1041.1,1072.9 L1042.3,1072.9 L1043.5,1073.0 L1044.7,1073.0 L1045.9,1073.0 L1047.1,1073.0 L1048.3,1073.0 L1049.5,1073.1 L1050.7,1073.1 L1051.9,1073.1 L1053.1,1073.1 L1054.3,1073.1 L1055.5,1073.2 L1056.7,1073.2 L1057.9,1073.2 L1059.1,1073.2 L1060.3,1073.3 L1061.5,1073.3 L1062.7,1073.3 L1063.9,1073.3 L1065.1,1073.4 L1066.3,1073.4 L1067.5,1073.4 L1068.7,1073.4 L1069.9,1073.5 L1071.1,1073.5 L1072.3,1073.6 L1073.5,1073.6 L1074.7,1073.7 L1075.9,1073.7 L1077.1,1073.8 L1078.3,1073.9 L1079.5,1073.9 L1080.7,1074.0 L1081.9,1074.1 L1083.1,1074.1 L1084.3,1074.2 L1085.5,1074.3 L1086.7,1074.4 L1087.9,1074.5 L1089.1,1074.5 L1090.3,1074.6 L1091.5,1074.7 L1092.7,1074.8 L1093.9,1074.9 L1095.1,1075.0 L1096.3,1075.1 L1097.5,1075.2 L1098.7,1075.3 L1099.9,1075.4 L1101.1,1075.5 L1102.3,1075.6 L1103.5,1075.7 L1104.7,1075.8 L1105.9,1075.9 L1107.1,1076.0 L1108.3,1076.1 L1109.5,1076.2 L1110.7,1076.3 L1111.9,1076.4 L1113.1,1076.5 L1114.3,1076.6 L1115.5,1076.7 L1116.7,1076.8 L1117.9,1076.9 L1119.1,1077.0 L1120.3,1077.1 L1121.5,1077.2 L1122.7,1077.3 L1123.9,1077.4 L1125.1,1077.5 L1126.3,1077.6 L1127.5,1077.8 L1128.7,1077.9 L1129.9,1078.0 L1131.1,1078.1 L1132.3,1078.3 L1133.5,1078.4 L1134.7,1078.6 L1135.9,1078.7 L1137.1,1078.9 L1138.3,1079.0 L1139.5,1079.2 L1140.7,1079.4 L1141.9,1079.6 L1143.1,1079.9 L1144.3,1080.3 L1145.5,1080.6 L1146.7,1081.0 L1147.9,1081.3 L1149.1,1081.6 L1150.3,1081.9 L1151.5,1082.1 L1152.7,1082.2 L1153.9,1082.1 L1155.1,1081.7 L1156.3,1080.9 L1157.5,1079.9 L1158.7,1078.8 L1159.9,1077.7 L1161.1,1076.7 L1162.3,1076.1 L1163.5,1075.8 L1164.7,1076.2 L1165.9,1077.5 L1167.1,1079.0 L1168.3,1080.5 L1169.5,1081.5 L1170.7,1081.5 L1171.9,1080.8 L1173.1,1079.7 L1174.3,1078.6 L1175.5,1077.6 L1176.7,1077.2 L1177.9,1077.3 L1179.1,1077.6 L1180.3,1078.1 L1181.5,1078.8 L1182.7,1079.6 L1183.9,1080.4 L1185.1,1081.3 L1186.3,1082.2 L1187.5,1083.1 L1188.7,1084.0 L1189.9,1084.7 L1191.1,1085.3 L1192.3,1085.8 L1193.5,1086.1 L1194.7,1086.4 L1195.9,1086.6 L1197.1,1086.8 L1198.3,1087.0 L1199.5,1087.2 L1200.7,1087.4 L1201.9,1087.6 L1203.1,1087.8 L1204.3,1087.9 L1205.5,1088.1 L1206.7,1088.2 L1207.9,1088.3 L1209.1,1088.5 L1210.3,1088.6 L1211.5,1088.7 L1212.7,1088.8 L1213.9,1089.0 L1215.1,1089.1 L1216.3,1089.2 L1217.5,1089.3 L1218.7,1089.4 L1219.9,1089.5 L1221.1,1089.6 L1222.3,1089.8 L1223.5,1089.9 L1224.7,1090.0 L1225.9,1090.1 L1227.1,1090.3 L1228.3,1090.4 L1229.5,1090.6 L1230.7,1090.7 L1231.9,1090.8 L1233.1,1091.0 L1234.3,1091.1 L1235.5,1091.3 L1236.7,1091.4 L1237.9,1091.6 L1239.1,1091.7 L1240.3,1091.8 L1241.5,1092.0 L1242.7,1092.1 L1243.9,1092.3 L1245.1,1092.4 L1246.3,1092.5 L1247.5,1092.7 L1248.7,1092.8 L1249.9,1093.0 L1251.1,1093.1 L1252.3,1093.3 L1253.5,1093.4 L1254.7,1093.6 L1255.9,1093.7 L1257.1,1093.8 L1258.3,1094.0 L1259.5,1094.2 L1260.7,1094.3 L1261.9,1094.5 L1263.1,1094.6 L1264.3,1094.8 L1265.5,1094.9 L1266.7,1095.1 L1267.9,1095.3 L1269.1,1095.4 L1270.3,1095.6 L1271.5,1095.7 L1272.7,1095.9 L1273.9,1096.1 L1275.1,1096.2 L1276.3,1096.4 L1277.5,1096.6 L1278.7,1096.7 L1279.9,1096.9 L1281.1,1097.0 L1282.3,1097.2 L1283.5,1097.4 L1284.7,1097.5 L1285.9,1097.7 L1287.1,1097.9 L1288.3,1098.0 L1289.5,1098.2 L1290.7,1098.4 L1291.9,1098.5 L1293.1,1098.7 L1294.3,1098.8 L1295.5,1099.0 L1296.7,1099.2 L1297.9,1099.3 L1299.1,1099.5 L1300.3,1099.7 L1301.5,1099.8 L1302.7,1100.0 L1303.9,1100.2 L1305.1,1100.3 L1306.3,1100.5 L1307.5,1100.7 L1308.7,1100.9 L1309.9,1101.0 L1311.1,1101.2 L1312.3,1101.4 L1313.5,1101.5 L1314.7,1101.7 L1315.9,1101.9 L1317.1,1102.1 L1318.3,1102.2 L1319.5,1102.4 L1320.7,1102.6 L1321.9,1102.7 L1323.1,1102.9 L1324.3,1103.0 L1325.5,1103.2 L1326.7,1103.4 L1327.9,1103.5 L1329.1,1103.7 L1330.3,1103.8 L1331.5,1104.0 L1332.7,1104.1 L1333.9,1104.2 L1335.1,1104.4 L1336.3,1104.5 L1337.5,1104.6 L1338.7,1104.8 L1339.9,1104.9 L1341.1,1105.0 L1342.3,1105.1 L1343.5,1105.3 L1344.7,1105.4 L1345.9,1105.5 L1347.1,1105.6 L1348.3,1105.7 L1349.5,1105.8 L1350.7,1105.9 L1351.9,1106.0 L1353.1,1106.1 L1354.3,1106.3 L1355.5,1106.4 L1356.7,1106.5 L1357.9,1106.6 L1359.1,1106.7 L1360.3,1106.8 L1361.5,1106.9 L1362.7,1107.0 L1363.9,1107.1 L1365.1,1107.2 L1366.3,1107.3 L1367.5,1107.5 L1368.7,1107.6 L1369.9,1107.6 L1371.1,1107.6 L1372.3,1107.6 L1373.5,1107.6 L1374.7,1107.7 L1375.9,1107.9 L1377.1,1108.2 L1378.3,1108.4 L1379.5,1108.6 L1380.7,1108.2 L1381.9,1107.8 L1383.1,1108.1 L1384.3,1108.3 L1385.5,1108.1 L1386.7,1108.2 L1387.9,1109.0 L1389.1,1109.9 L1390.3,1110.2 L1391.5,1110.3 L1392.7,1109.8 L1393.9,1109.3 L1395.1,1109.6 L1396.3,1109.8 L1397.5,1110.0 L1398.7,1110.1 L1399.9,1110.1 L1401.1,1110.0 L1402.3,1110.0 L1403.5,1110.0 L1404.7,1109.8 L1405.9,1109.8 L1407.1,1110.2 L1408.3,1110.7 L1409.5,1111.4 L1410.7,1112.1 L1411.9,1112.9 L1413.1,1113.3 L1414.3,1111.6 L1415.5,1110.7 L1416.7,1113.2 L1417.9,1115.0 L1419.1,1113.2 L1420.3,1111.8 L1421.5,1112.0 L1422.7,1112.1 L1423.9,1112.0 L1425.1,1111.8 L1426.3,1111.8 L1427.5,1112.2 L1428.7,1114.1 L1429.9,1115.5 L1431.1,1114.0 L1432.3,1112.9 L1433.5,1113.7 L1434.7,1114.4 L1435.9,1114.8 L1437.1,1115.0 L1438.3,1114.0 L1439.5,1113.4 L1440.7,1114.5 L1441.9,1115.3 L1443.1,1115.4 L1444.3,1115.4 L1445.5,1115.6 L1446.7,1115.9 L1447.9,1116.5 L1449.1,1116.9 L1450.3,1115.8 L1451.5,1115.3 L1452.7,1117.1 L1453.9,1118.7 L1455.1,1119.4 L1456.3,1120.2 L1457.5,1121.0 L1458.7,1121.5 L1459.9,1120.3 L1461.1,1119.2 L1462.3,1118.0 L1463.5,1117.2 L1464.7,1117.8 L1465.9,1118.4 L1467.1,1118.7 L1468.3,1119.0 L1469.5,1119.1 L1470.7,1119.4 L1471.9,1119.6 L1473.1,1119.8 L1474.3,1120.1 L1475.5,1120.5 L1476.7,1121.3 L1477.9,1122.0 L1479.1,1122.0 L1480.3,1122.1 L1481.5,1122.4 L1482.7,1122.7 L1483.9,1123.1 L1485.1,1123.6 L1486.3,1124.7 L1487.5,1125.6 L1488.7,1125.5 L1489.9,1125.5 L1491.1,1126.2 L1492.3,1127.1 L1493.5,1128.6 L1494.7,1129.8 L1495.9,1129.1 L1497.1,1128.8 L1498.3,1130.1 L1499.5,1131.2 L1500.7,1131.0 L1501.9,1130.9 L1503.1,1131.3 L1504.3,1131.8 L1505.5,1132.6 L1506.7,1133.4 L1507.9,1133.7 L1509.1,1134.1 L1510.3,1135.0 L1511.5,1136.0 L1512.7,1137.5 L1513.9,1138.8 L1515.1,1138.3 L1516.3,1138.1 L1517.5,1139.1 L1518.7,1140.1 L1519.9,1140.5 L1521.1,1141.1 L1522.3,1143.0 L1523.5,1144.5 L1524.7,1143.8 L1525.9,1143.6 L1527.1,1145.6 L1528.3,1147.2 L1529.5,1146.8 L1530.7,1146.7 L1531.9,1148.1 L1533.1,1149.4 L1534.3,1150.0 L1535.5,1150.9 L1536.7,1152.5 L1537.9,1153.9 L1539.1,1154.1 L1540.3,1154.4 L1541.5,1155.1 L1542.7,1156.3 L1543.9,1160.6 L1545.1,1163.8 L1546.3,1162.2 L1547.5,1161.3 L1548.7,1163.4 L1549.9,1165.4 L1551.1,1166.4 L1552.3,1167.6 L1553.5,1170.2 L1554.7,1172.7 L1555.9,1174.8 L1557.1,1176.8 L1558.3,1178.6 L1559.5,1180.3 L1560.7,1181.4 L1561.9,1182.7 L1563.1,1184.7 L1564.3,1186.6 L1565.5,1188.2 L1566.7,1189.6 L1567.9,1190.8 L1569.1,1192.0 L1570.3,1193.4 L1571.5,1195.1 L1572.7,1198.3 L1573.9,1200.7 L1575.1,1200.9 L1576.3,1201.4 L1577.5,1202.6 L1578.7,1203.8 L1579.9,1205.3 L1581.1,1206.9 L1582.3,1208.7 L1583.5,1210.4 L1584.7,1211.1 L1585.9,1212.2 L1587.1,1214.0 L1588.3,1215.8 L1589.5,1217.6 L1590.7,1218.8 L1591.9,1218.9 L1593.1,1218.9 L1594.3,1219.1 L1595.5,1219.1 L1596.7,1219.0 L1597.9,1219.0 L1599.1,1219.0 L1600.3,1219.0 L1601.5,1219.0 L1602.7,1219.0 L1603.9,1219.0 L1605.1,1219.0 L1606.3,1219.0 L1607.5,1218.9 L1608.7,1218.7 L1609.9,1218.5 L1611.1,1218.3 L1612.3,1218.1 L1613.5,1217.9 L1614.7,1217.8 L1615.9,1217.6 L1617.1,1217.5 L1618.3,1217.5 L1619.5,1217.7 L1620.7,1218.1 L1621.9,1218.8 L1623.1,1219.7 L1624.3,1220.7 L1625.5,1221.8 L1626.7,1223.0 L1627.9,1224.3 L1629.1,1225.6 L1630.3,1227.1 L1631.5,1228.9 L1632.7,1230.9 L1633.9,1233.0 L1635.1,1235.3 L1636.3,1237.6 L1637.5,1240.0 L1638.7,1242.3 L1639.9,1244.7 L1641.1,1247.3 L1642.3,1250.1 L1643.5,1253.0 L1644.7,1255.8 L1645.9,1258.5 L1647.1,1261.0 L1648.3,1263.2 L1649.5,1265.1 L1650.7,1266.8 L1651.9,1268.3 L1653.1,1269.8 L1654.3,1271.2 L1655.5,1272.5 L1656.7,1273.7 L1657.9,1274.9 L1659.1,1276.1 L1660.3,1277.2 L1661.5,1278.4 L1662.7,1279.6 L1663.9,1280.9 L1665.1,1282.1 L1666.3,1283.4 L1667.5,1284.6 L1668.7,1285.8 L1669.9,1286.8 L1671.1,1287.7 L1672.3,1288.5 L1673.5,1289.0 L1674.7,1289.3 L1675.9,1289.4 L1677.1,1289.0 L1678.3,1288.4 L1679.5,1287.4 L1680.7,1286.2 L1681.9,1284.8 L1683.1,1283.2 L1684.3,1281.6 L1685.5,1280.0 L1686.7,1278.3 L1687.9,1276.8 L1689.1,1274.9 L1690.3,1272.8 L1691.5,1270.5 L1692.7,1268.2 L1693.9,1265.8 L1695.1,1263.4 L1696.3,1261.2 L1697.5,1259.2 L1698.7,1257.4 L1699.9,1255.8 L1701.1,1254.2 L1702.3,1252.6 L1703.5,1251.1 L1704.7,1249.8 L1705.9,1248.8 L1707.1,1248.0 L1708.3,1247.5 L1709.5,1247.1 L1710.7,1246.7 L1711.9,1246.3 L1713.1,1246.0 L1714.3,1245.8 L1715.5,1245.6 L1716.7,1245.4 L1717.9,1245.4 L1719.1,1245.6 L1720.3,1246.2 L1721.5,1247.0 L1722.7,1248.2 L1723.9,1249.4 L1725.1,1250.8 L1726.3,1252.1 L1727.5,1253.4 L1728.7,1254.6 L1729.9,1255.7 L1731.1,1256.8 L1732.3,1257.9 L1733.5,1259.0 L1734.7,1260.2 L1735.9,1261.3 L1737.1,1262.5 L1738.3,1263.8 L1739.5,1265.0 L1740.7,1266.3 L1741.9,1267.6 L1743.1,1269.0 L1744.3,1270.5 L1745.5,1272.3 L1746.7,1274.1 L1747.9,1276.0 L1749.1,1277.9 L1750.3,1279.7 L1751.5,1281.4 L1752.7,1283.0 L1753.9,1284.3 L1755.1,1285.3 L1756.3,1286.3 L1757.5,1287.3 L1758.7,1288.2 L1759.9,1289.0 L1761.1,1289.7 L1762.3,1290.3 L1763.5,1290.7 L1764.7,1290.9 L1765.9,1290.7 L1767.1,1290.0 L1768.3,1288.8 L1769.5,1287.3 L1770.7,1285.5 L1771.9,1283.7 L1773.1,1281.8 L1774.3,1279.9 L1775.5,1277.6 L1776.7,1275.0 L1777.9,1272.2 L1779.1,1269.1 L1780.3,1265.8 L1781.5,1262.1 L1782.7,1257.7 L1783.9,1252.8 L1785.1,1247.4 L1786.3,1241.8 L1787.5,1236.0 L1788.7,1230.3 L1789.9,1224.8 L1791.1,1219.2 L1792.3,1213.3 L1793.5,1207.3 L1794.7,1201.4 L1795.9,1195.7 L1797.1,1190.4 L1798.3,1185.5 L1799.5,1181.0 L1800.7,1176.5 L1801.9,1172.2 L1803.1,1168.2 L1804.3,1164.4 L1805.5,1161.1 L1806.7,1158.2 L1807.9,1155.8 L1809.1,1153.6 L1810.3,1151.5 L1811.5,1149.5 L1812.7,1147.7 L1813.9,1146.0 L1815.1,1144.5 L1816.3,1143.2 L1817.5,1142.1 L1818.7,1141.2 L1819.9,1140.5 L1821.1,1139.8 L1822.3,1139.1 L1823.5,1138.5 L1824.7,1137.9 L1825.9,1137.4 L1827.1,1136.9 L1828.3,1136.5 L1829.5,1136.1 L1830.7,1135.9 L1831.9,1135.7 L1833.1,1135.6 L1834.3,1135.6 L1835.5,1135.6 L1836.7,1135.6 L1837.9,1135.6 L1839.1,1135.6 L1840.3,1135.6 L1841.5,1135.6 L1842.7,1135.6 L1843.9,1135.6 L1845.1,1135.6 L1846.3,1135.6 L1847.5,1135.6 L1848.7,1135.6 L1849.9,1135.6 L1851.1,1135.6 L1852.3,1135.6 L1853.5,1135.6 L1854.7,1135.6 L1855.9,1135.6 L1857.1,1135.7 L1858.3,1135.8 L1859.5,1136.0 L1860.7,1136.1 L1861.9,1136.3 L1863.1,1136.6 L1864.3,1136.8 L1865.5,1137.1 L1866.7,1137.4 L1867.9,1137.7 L1869.1,1138.0 L1870.3,1138.3 L1871.5,1138.7 L1872.7,1139.0 L1873.9,1139.4 L1875.1,1139.7 L1876.3,1140.1 L1877.5,1140.4 L1878.7,1140.8 L1879.9,1141.1 L1881.1,1141.4 L1882.3,1141.8 L1883.5,1142.1 L1884.7,1142.5 L1885.9,1142.8 L1887.1,1143.2 L1888.3,1143.5 L1889.5,1143.9 L1890.7,1144.3 L1891.9,1144.7 L1893.1,1145.1 L1894.3,1145.6 L1895.5,1146.0 L1896.7,1146.5 L1897.9,1146.9 L1899.1,1147.4 L1900.3,1147.9 L1901.5,1148.5 L1902.7,1149.0 L1903.9,1149.6 L1905.1,1150.1 L1906.3,1150.7 L1907.5,1151.4 L1908.7,1152.0 L1909.9,1152.7 L1911.1,1153.4 L1912.3,1154.3 L1913.5,1155.2 L1914.7,1156.3 L1915.9,1157.4 L1917.1,1158.5 L1918.3,1159.7 L1919.5,1161.0 L1920.7,1162.2 L1921.9,1163.5 L1923.1,1164.8 L1924.3,1166.1 L1925.5,1167.4 L1926.7,1168.7 L1927.9,1169.9 L1929.1,1171.1 L1930.3,1172.3 L1931.5,1173.5 L1932.7,1174.7 L1933.9,1175.9 L1935.1,1177.1 L1936.3,1178.4 L1937.5,1179.6 L1938.7,1181.0 L1939.9,1182.3 L1941.1,1183.7 L1942.3,1185.2 L1943.5,1186.7 L1944.7,1188.4 L1945.9,1190.4 L1947.1,1192.6 L1948.3,1195.0 L1949.5,1197.4 L1950.7,1199.8 L1951.9,1202.1 L1953.1,1204.2 L1954.3,1206.1 L1955.5,1207.7 L1956.7,1208.8 L1957.9,1209.7 L1959.1,1210.5 L1960.3,1211.1 L1961.5,1211.7 L1962.7,1212.3 L1963.9,1212.8 L1965.1,1213.3 L1966.3,1213.7 L1967.5,1214.2 L1968.7,1214.6 L1969.9,1215.1 L1971.1,1215.6 L1972.3,1216.2 L1973.5,1216.7 L1974.7,1217.2 L1975.9,1217.6 L1977.1,1218.1 L1978.3,1218.5 L1979.5,1219.0 L1980.7,1219.5 L1981.9,1219.9 L1983.1,1220.4 L1984.3,1220.9 L1985.5,1221.4 L1986.7,1221.9 L1987.9,1222.4 L1989.1,1223.0 L1990.3,1223.6 L1991.5,1224.3 L1992.7,1225.0 L1993.9,1225.7 L1995.1,1226.5 L1996.3,1227.4 L1997.5,1228.4 L1998.7,1229.4 L1999.9,1230.4 L2001.1,1231.5 L2002.3,1232.6 L2003.5,1233.7 L2004.7,1234.8 L2005.9,1236.0 L2007.1,1237.2 L2008.3,1238.3 L2009.5,1239.4 L2010.7,1240.6 L2011.9,1241.7 L2013.1,1242.7 L2014.3,1243.8 L2015.5,1244.9 L2016.7,1246.0 L2017.9,1247.1 L2019.1,1248.2 L2020.3,1249.2 L2021.5,1250.3 L2022.7,1251.4 L2023.9,1252.6 L2025.1,1253.7 L2026.3,1254.8 L2027.5,1255.9 L2028.7,1257.1 L2029.9,1258.2 L2031.1,1259.4 L2032.3,1260.5 L2033.5,1261.6 L2034.7,1262.8 L2035.9,1263.9 L2037.1,1265.1 L2038.3,1266.2 L2039.5,1267.4 L2040.7,1268.6 L2041.9,1269.8 L2043.1,1271.0 L2044.3,1272.3 L2045.5,1273.6 L2046.7,1274.9 L2047.9,1276.2 L2049.1,1277.7 L2050.3,1279.2 L2051.5,1280.9 L2052.7,1282.6 L2053.9,1284.4 L2055.1,1286.1 L2056.3,1287.8 L2057.5,1289.5 L2058.7,1291.1 L2059.9,1292.5 L2061.1,1293.8 L2062.3,1294.9 L2063.5,1295.9 L2064.7,1296.8 L2065.9,1297.6 L2067.1,1298.3 L2068.3,1299.0 L2069.5,1299.7 L2070.7,1300.4 L2071.9,1301.0 L2073.1,1301.6 L2074.3,1302.3 L2075.5,1302.9 L2076.7,1303.6 L2077.9,1304.3 L2079.1,1305.0 L2080.3,1305.7 L2081.5,1306.5 L2082.7,1307.2 L2083.9,1307.9 L2085.1,1308.6 L2086.3,1309.3 L2087.5,1310.1 L2088.7,1310.8 L2089.9,1311.5 L2091.1,1312.1 L2092.3,1312.8 L2093.5,1313.5 L2094.7,1314.1 L2095.9,1314.8 L2097.1,1315.5 L2098.3,1316.1 L2099.5,1316.8 L2100.7,1317.4 L2101.9,1318.1 L2103.1,1318.7 L2104.3,1319.4 L2105.5,1320.0 L2106.7,1320.6 L2107.9,1321.1 L2109.1,1321.7 L2110.3,1322.2 L2111.5,1322.7 L2112.7,1323.1 L2113.9,1323.5 L2115.1,1323.9 L2116.3,1324.3 L2117.5,1324.7 L2118.7,1325.0 L2119.9,1325.3 L2121.1,1325.7 L2122.3,1326.0 L2123.5,1326.3 L2124.7,1326.6 L2125.9,1326.9 L2127.1,1327.2 L2128.3,1327.5 L2129.5,1327.8 L2130.7,1328.1 L2131.9,1328.4 L2133.1,1328.7 L2134.3,1329.1 L2135.5,1329.4 L2136.7,1329.8 L2137.9,1330.1 L2139.1,1330.5 L2140.3,1330.8 L2141.5,1331.1 L2142.7,1331.5 L2143.9,1331.8 L2145.1,1332.2 L2146.3,1332.5 L2147.5,1332.9 L2148.7,1333.3 L2149.9,1333.6 L2151.1,1334.0 L2152.3,1334.4 L2153.5,1334.8 L2154.7,1335.3 L2155.9,1335.7 L2157.1,1336.2 L2158.3,1336.7 L2159.5,1337.2 L2160.7,1337.8 L2161.9,1338.4 L2163.1,1339.1 L2164.3,1339.8 L2165.5,1340.5 L2166.7,1341.3 L2167.9,1342.2 L2169.1,1343.0 L2170.3,1343.8 L2171.5,1344.6 L2172.7,1345.4 L2173.9,1346.2 L2175.1,1347.0 L2176.3,1347.7 L2177.5,1348.3 L2178.7,1348.9 L2179.9,1349.5 L2181.1,1350.1 L2182.3,1350.6 L2183.5,1351.1 L2184.7,1351.7 L2185.9,1352.2 L2187.1,1352.8 L2188.3,1353.4 L2189.5,1354.1 L2190.7,1354.7 L2191.9,1355.5 L2193.1,1356.4 L2194.3,1357.3 L2195.5,1358.4 L2196.7,1359.5 L2197.9,1360.7 L2199.1,1361.9 L2200.3,1363.1 L2201.5,1364.3 L2202.7,1365.4 L2203.9,1366.5 L2205.1,1367.6 L2206.3,1368.5 L2207.5,1369.4 L2208.7,1370.3 L2209.9,1371.3 L2211.1,1372.2 L2212.3,1373.1 L2213.5,1373.9 L2214.7,1374.6 L2215.9,1375.2 L2217.1,1375.6 L2218.3,1375.8 L2219.5,1376.0 L2220.7,1376.2 L2221.9,1376.3 L2223.1,1376.4 L2224.3,1376.5 L2225.5,1376.6 L2226.7,1376.7 L2227.9,1376.7 L2229.1,1376.7 L2230.3,1376.5 L2231.5,1376.1 L2232.7,1375.6 L2233.9,1375.0 L2235.1,1374.4 L2236.3,1373.6 L2237.5,1372.8 L2238.7,1372.0 L2239.9,1371.1 L2241.1,1370.3 L2242.3,1369.4 L2243.5,1368.5 L2244.7,1367.4 L2245.9,1366.3 L2247.1,1365.0 L2248.3,1363.7 L2249.5,1362.3 L2250.7,1360.9 L2251.9,1359.4 L2253.1,1357.9 L2254.3,1356.3 L2255.5,1354.7 L2256.7,1353.1 L2257.9,1351.4 L2259.1,1349.6 L2260.3,1347.6 L2261.5,1345.6 L2262.7,1343.6 L2263.9,1341.4 L2265.1,1339.3 L2266.3,1337.1 L2267.5,1334.9 L2268.7,1332.7 L2269.9,1330.5 L2271.1,1328.4 L2272.3,1326.0 L2273.5,1323.5 L2274.7,1320.9 L2275.9,1318.3 L2277.1,1315.8 L2278.3,1313.6 L2279.5,1311.6 L2280.7,1310.2 L2281.9,1309.1 L2283.1,1308.1 L2284.3,1307.2 L2285.5,1306.4 L2286.7,1305.7 L2287.9,1305.2 L2289.1,1304.9 L2290.3,1304.8 L2291.5,1305.2 L2292.7,1306.0 L2293.9,1307.0 L2295.1,1308.3 L2296.3,1309.7 L2297.5,1311.2 L2298.7,1312.7 L2299.9,1314.3 L2301.1,1316.1 L2302.3,1318.2 L2303.5,1320.5 L2304.7,1322.9 L2305.9,1325.4 L2307.1,1327.9 L2308.3,1330.4 L2309.5,1332.8 L2310.7,1335.4 L2311.9,1338.1 L2313.1,1340.9 L2314.3,1343.7 L2315.5,1346.6 L2316.7,1349.4 L2317.9,1352.2 L2319.1,1354.8 L2320.3,1357.4 L2321.5,1359.8 L2322.7,1362.3 L2323.9,1364.7 L2325.1,1367.1 L2326.3,1369.4 L2327.5,1371.4 L2328.7,1373.3 L2329.9,1374.9 L2331.1,1376.6 L2332.3,1378.2 L2333.5,1379.6 L2334.7,1380.8 L2335.9,1381.5 L2337.1,1381.7 L2338.3,1381.7 L2339.5,1381.6 L2340.7,1381.5 L2341.9,1381.3 L2343.1,1381.0 L2344.3,1380.5 L2345.5,1379.8 L2346.7,1378.9 L2347.9,1377.8"/>
<path stroke="#008000" d="M174.7,1274.9 L175.9,1275.3 L177.1,1275.8 L178.3,1276.3 L179.5,1276.8 L180.7,1277.2 L181.9,1277.7 L183.1,1278.2 L184.3,1278.7 L185.5,1279.1 L186.7,1279.7 L187.9,1280.2 L189.1,1280.5 L190.3,1281.0 L191.5,1281.5 L192.7,1282.1 L193.9,1282.6 L195.1,1282.9 L196.3,1283.1 L197.5,1283.4 L198.7,1283.7 L199.9,1284.9 L201.1,1285.9 L202.3,1285.5 L203.5,1285.2 L204.7,1286.4 L205.9,1287.8 L207.1,1289.1 L208.3,1290.1 L209.5,1289.5 L210.7,1289.4 L211.9,1291.8 L213.1,1293.7 L214.3,1293.5 L215.5,1293.5 L216.7,1294.7 L217.9,1295.5 L219.1,1294.0 L220.3,1293.0 L221.5,1294.9 L222.7,1296.3 L223.9,1295.6 L225.1,1295.1 L226.3,1295.5 L227.5,1295.9 L228.7,1296.7 L229.9,1297.8 L231.1,1301.2 L232.3,1303.7 L233.5,1301.7 L234.7,1300.1 L235.9,1300.0 L237.1,1300.0 L238.3,1300.6 L239.5,1301.5 L240.7,1303.8 L241.9,1305.7 L243.1,1305.1 L244.3,1304.8 L245.5,1305.7 L246.7,1306.4 L247.9,1306.7 L249.1,1307.2 L250.3,1308.7 L251.5,1309.8 L252.7,1309.3 L253.9,1308.8 L255.1,1308.3 L256.3,1308.2 L257.5,1309.8 L258.7,1311.1 L259.9,1311.2 L261.1,1311.3 L262.3,1311.2 L263.5,1311.3 L264.7,1311.8 L265.9,1312.3 L267.1,1312.8 L268.3,1313.6 L269.5,1315.6 L270.7,1317.1 L271.9,1316.2 L273.1,1315.8 L274.3,1317.9 L275.5,1319.9 L276.7,1320.7 L277.9,1321.3 L279.1,1320.9 L280.3,1320.6 L281.5,1320.2 L282.7,1320.1 L283.9,1321.3 L285.1,1322.7 L286.3,1325.1 L287.5,1326.9 L288.7,1325.9 L289.9,1325.4 L291.1,1326.6 L292.3,1327.5 L293.5,1326.8 L294.7,1326.4 L295.9,1327.9 L297.1,1329.1 L298.3,1329.4 L299.5,1330.1 L300.7,1332.1 L301.9,1333.7 L303.1,1333.5 L304.3,1333.6 L305.5,1335.5 L306.7,1337.4 L307.9,1339.5 L309.1,1341.4 L310.3,1341.7 L311.5,1342.1 L312.7,1342.9 L313.9,1343.9 L315.1,1345.5 L316.3,1347.1 L317.5,1348.2 L318.7,1349.8 L319.9,1353.6 L321.1,1356.9 L322.3,1357.2 L323.5,1357.8 L324.7,1359.3 L325.9,1361.1 L327.1,1364.2 L328.3,1367.2 L329.5,1369.9 L330.7,1372.7 L331.9,1375.6 L333.1,1378.5 L334.3,1380.8 L335.5,1383.4 L336.7,1386.6 L337.9,1390.3 L339.1,1395.8 L340.3,1400.9 L341.5,1403.6 L342.7,1406.9 L343.9,1411.8 L345.1,1417.1 L346.3,1423.9 L347.5,1430.3 L348.7,1435.2 L349.9,1440.4 L351.1,1445.8 L352.3,1451.3 L353.5,1457.0 L354.7,1462.5 L355.9,1467.9 L357.1,1473.4 L358.3,1480.0 L359.5,1486.0 L360.7,1489.8 L361.9,1493.6 L363.1,1497.9 L364.3,1502.2 L365.5,1506.4 L366.7,1510.4 L367.9,1514.1 L369.1,1517.5 L370.3,1521.0 L371.5,1524.4 L372.7,1528.1 L373.9,1531.4 L375.1,1533.5 L376.3,1535.7 L377.5,1538.6 L378.7,1541.4 L379.9,1544.2 L381.1,1546.8 L382.3,1548.7 L383.5,1550.5 L384.7,1552.3 L385.9,1554.2 L387.1,1556.5 L388.3,1558.6 L389.5,1560.3 L390.7,1562.0 L391.9,1564.0 L393.1,1565.8 L394.3,1566.9 L395.5,1568.1 L396.7,1569.6 L397.9,1571.0 L399.1,1572.5 L400.3,1573.7 L401.5,1574.6 L402.7,1575.6 L403.9,1576.9 L405.1,1578.1 L406.3,1579.0 L407.5,1579.9 L408.7,1580.6 L409.9,1581.3 L411.1,1582.2 L412.3,1583.1 L413.5,1583.8 L414.7,1584.6 L415.9,1585.3 L417.1,1586.0 L418.3,1586.8 L419.5,1587.5 L420.7,1588.1 L421.9,1588.8 L423.1,1589.4 L424.3,1590.1 L425.5,1590.7 L426.7,1591.3 L427.9,1591.8 L429.1,1592.4 L430.3,1592.9 L431.5,1593.4 L432.7,1593.8 L433.9,1594.3 L435.1,1594.7 L436.3,1595.1 L437.5,1595.5 L438.7,1595.9 L439.9,1596.3 L441.1,1596.6 L442.3,1597.0 L443.5,1597.3 L444.7,1597.7 L445.9,1598.0 L447.1,1598.3 L448.3,1598.6 L449.5,1598.9 L450.7,1599.1 L451.9,1599.3 L453.1,1599.5 L454.3,1599.7 L455.5,1599.8 L456.7,1600.0 L457.9,1600.1 L459.1,1600.2 L460.3,1600.4 L461.5,1600.5 L462.7,1600.6 L463.9,1600.7 L465.1,1600.8 L466.3,1600.9 L467.5,1601.0 L468.7,1601.1 L469.9,1601.1 L471.1,1601.2 L472.3,1601.2 L473.5,1601.3 L474.7,1601.3 L475.9,1601.3 L477.1,1601.3 L478.3,1601.3 L479.5,1601.2 L480.7,1601.2 L481.9,1601.1 L483.1,1601.0 L484.3,1601.0 L485.5,1600.9 L486.7,1600.8 L487.9,1600.7 L489.1,1600.6 L490.3,1600.4 L491.5,1600.3 L492.7,1600.2 L493.9,1600.1 L495.1,1599.9 L496.3,1599.8 L497.5,1599.6 L498.7,1599.5 L499.9,1599.3 L501.1,1599.0 L502.3,1598.8 L503.5,1598.5 L504.7,1598.2 L505.9,1597.9 L507.1,1597.6 L508.3,1597.3 L509.5,1596.9 L510.7,1596.5 L511.9,1596.2 L513.1,1595.8 L514.3,1595.4 L515.5,1595.0 L516.7,1594.5 L517.9,1594.1 L519.1,1593.6 L520.3,1593.1 L521.5,1592.5 L522.7,1591.9 L523.9,1591.3 L525.1,1590.6 L526.3,1589.9 L527.5,1589.2 L528.7,1588.5 L529.9,1587.7 L531.1,1587.0 L532.3,1586.2 L533.5,1585.4 L534.7,1584.6 L535.9,1583.8 L537.1,1582.9 L538.3,1582.1 L539.5,1581.2 L540.7,1580.3 L541.9,1579.3 L543.1,1578.3 L544.3,1577.3 L545.5,1576.3 L546.7,1575.2 L547.9,1574.1 L549.1,1573.0 L550.3,1571.9 L551.5,1570.8 L552.7,1569.7 L553.9,1568.6 L555.1,1567.4 L556.3,1566.3 L557.5,1565.2 L558.7,1564.1 L559.9,1563.0 L561.1,1561.9 L562.3,1560.9 L563.5,1559.8 L564.7,1558.7 L565.9,1557.5 L567.1,1556.4 L568.3,1555.3 L569.5,1554.2 L570.7,1553.0 L571.9,1551.9 L573.1,1550.7 L574.3,1549.6 L575.5,1548.5 L576.7,1547.3 L577.9,1546.2 L579.1,1545.1 L580.3,1544.0 L581.5,1542.9 L582.7,1541.9 L583.9,1540.8 L585.1,1539.8 L586.3,1538.8 L587.5,1537.8 L588.7,1536.9 L589.9,1536.0 L591.1,1535.1 L592.3,1534.2 L593.5,1533.3 L594.7,1532.5 L595.9,1531.6 L597.1,1530.8 L598.3,1530.0 L599.5,1529.2 L600.7,1528.5 L601.9,1527.7 L603.1,1526.9 L604.3,1526.2 L605.5,1525.4 L606.7,1524.7 L607.9,1523.9 L609.1,1523.2 L610.3,1522.5 L611.5,1521.7 L612.7,1521.0 L613.9,1520.2 L615.1,1519.5 L616.3,1518.7 L617.5,1518.0 L618.7,1517.2 L619.9,1516.4 L621.1,1515.7 L622.3,1514.9 L623.5,1514.1 L624.7,1513.4 L625.9,1512.6 L627.1,1511.8 L628.3,1511.1 L629.5,1510.3 L630.7,1509.6 L631.9,1508.8 L633.1,1508.0 L634.3,1507.3 L635.5,1506.5 L636.7,1505.7 L637.9,1505.0 L639.1,1504.2 L640.3,1503.4 L641.5,1502.6 L642.7,1501.8 L643.9,1501.0 L645.1,1500.2 L646.3,1499.4 L647.5,1498.6 L648.7,1497.8 L649.9,1496.9 L651.1,1496.1 L652.3,1495.2 L653.5,1494.4 L654.7,1493.5 L655.9,1492.7 L657.1,1491.8 L658.3,1490.9 L659.5,1490.0 L660.7,1489.2 L661.9,1488.3 L663.1,1487.4 L664.3,1486.5 L665.5,1485.6 L666.7,1484.7 L667.9,1483.7 L669.1,1482.8 L670.3,1481.9 L671.5,1481.0 L672.7,1480.0 L673.9,1479.1 L675.1,1478.2 L676.3,1477.2 L677.5,1476.3 L678.7,1475.3 L679.9,1474.3 L681.1,1473.4 L682.3,1472.4 L683.5,1471.4 L684.7,1470.4 L685.9,1469.4 L687.1,1468.4 L688.3,1467.4 L689.5,1466.4 L690.7,1465.4 L691.9,1464.3 L693.1,1463.3 L694.3,1462.3 L695.5,1461.2 L696.7,1460.2 L697.9,1459.1 L699.1,1458.1 L700.3,1457.0 L701.5,1456.0 L702.7,1454.9 L703.9,1453.9 L705.1,1452.8 L706.3,1451.8 L707.5,1450.7 L708.7,1449.6 L709.9,1448.6 L711.1,1447.5 L712.3,1446.4 L713.5,1445.2 L714.7,1444.1 L715.9,1443.0 L717.1,1441.9 L718.3,1440.8 L719.5,1439.6 L720.7,1438.5 L721.9,1437.4 L723.1,1436.3 L724.3,1435.2 L725.5,1434.1 L726.7,1433.1 L727.9,1432.0 L729.1,1431.0 L730.3,1429.9 L731.5,1428.9 L732.7,1427.9 L733.9,1426.9 L735.1,1425.9 L736.3,1424.9 L737.5,1424.0 L738.7,1423.0 L739.9,1422.0 L741.1,1421.1 L742.3,1420.1 L743.5,1419.1 L744.7,1418.2 L745.9,1417.3 L747.1,1416.3 L748.3,1415.4 L749.5,1414.4 L750.7,1413.5 L751.9,1412.6 L753.1,1411.6 L754.3,1410.7 L755.5,1409.8 L756.7,1408.8 L757.9,1407.9 L759.1,1407.0 L760.3,1406.1 L761.5,1405.1 L762.7,1404.2 L763.9,1403.3 L765.1,1402.3 L766.3,1401.4 L767.5,1400.5 L768.7,1399.6 L769.9,1398.6 L771.1,1397.7 L772.3,1396.8 L773.5,1395.9 L774.7,1395.0 L775.9,1394.1 L777.1,1393.2 L778.3,1392.3 L779.5,1391.4 L780.7,1390.5 L781.9,1389.6 L783.1,1388.8 L784.3,1387.9 L785.5,1387.1 L786.7,1386.2 L787.9,1385.4 L789.1,1384.6 L790.3,1383.8 L791.5,1383.0 L792.7,1382.3 L793.9,1381.6 L795.1,1381.0 L796.3,1380.3 L797.5,1379.7 L798.7,1379.0 L799.9,1378.4 L801.1,1377.7 L802.3,1377.1 L803.5,1376.4 L804.7,1375.7 L805.9,1375.0 L807.1,1374.3 L808.3,1373.5 L809.5,1372.7 L810.7,1371.9 L811.9,1371.0 L813.1,1370.1 L814.3,1369.1 L815.5,1368.0 L816.7,1366.9 L817.9,1365.7 L819.1,1364.2 L820.3,1362.4 L821.5,1360.4 L822.7,1358.3 L823.9,1355.8 L825.1,1352.2 L826.3,1348.8 L827.5,1347.2 L828.7,1347.6 L829.9,1348.7 L831.1,1350.0 L832.3,1351.1 L833.5,1351.6 L834.7,1351.6 L835.9,1351.5 L837.1,1351.3 L838.3,1351.1 L839.5,1350.8 L840.7,1350.5 L841.9,1350.1 L843.1,1349.8 L844.3,1349.4 L845.5,1349.0 L846.7,1348.6 L847.9,1348.2 L849.1,1347.7 L850.3,1347.2 L851.5,1346.7 L852.7,1346.1 L853.9,1345.4 L855.1,1344.7 L856.3,1343.9 L857.5,1343.1 L858.7,1342.2 L859.9,1341.2 L861.1,1340.1 L862.3,1338.6 L863.5,1336.1 L864.7,1333.2 L865.9,1330.3 L867.1,1328.0 L868.3,1326.7 L869.5,1326.8 L870.7,1327.4 L871.9,1328.3 L873.1,1329.1 L874.3,1329.6 L875.5,1329.6 L876.7,1329.4 L877.9,1329.0 L879.1,1328.6 L880.3,1328.1 L881.5,1327.5 L882.7,1326.8 L883.9,1326.1 L885.1,1325.3 L886.3,1324.6 L887.5,1323.9 L888.7,1323.2 L889.9,1322.6 L891.1,1322.0 L892.3,1321.5 L893.5,1320.9 L894.7,1320.3 L895.9,1319.8 L897.1,1319.2 L898.3,1318.6 L899.5,1318.1 L900.7,1317.5 L901.9,1316.9 L903.1,1316.3 L904.3,1315.8 L905.5,1315.2 L906.7,1314.6 L907.9,1314.1 L909.1,1313.5 L910.3,1313.0 L911.5,1312.5 L912.7,1311.9 L913.9,1311.4 L915.1,1310.9 L916.3,1310.4 L917.5,1310.0 L918.7,1309.5 L919.9,1309.1 L921.1,1308.6 L922.3,1308.2 L923.5,1307.8 L924.7,1307.4 L925.9,1306.9 L927.1,1306.5 L928.3,1306.1 L929.5,1305.7 L930.7,1305.3 L931.9,1304.9 L933.1,1304.5 L934.3,1304.2 L935.5,1303.8 L936.7,1303.4 L937.9,1303.1 L939.1,1302.7 L940.3,1302.4 L941.5,1302.1 L942.7,1301.7 L943.9,1301.4 L945.1,1301.1 L946.3,1300.9 L947.5,1300.6 L948.7,1300.3 L949.9,1300.1 L951.1,1299.9 L952.3,1299.6 L953.5,1299.4 L954.7,1299.2 L955.9,1298.9 L957.1,1298.7 L958.3,1298.5 L959.5,1298.3 L960.7,1298.1 L961.9,1297.9 L963.1,1297.7 L964.3,1297.5 L965.5,1297.3 L966.7,1297.1 L967.9,1297.0 L969.1,1296.8 L970.3,1296.7 L971.5,1296.5 L972.7,1296.4 L973.9,1296.2 L975.1,1296.1 L976.3,1296.0 L977.5,1295.9 L978.7,1295.8 L979.9,1295.7 L981.1,1295.6 L982.3,1295.5 L983.5,1295.5 L984.7,1295.4 L985.9,1295.3 L987.1,1295.2 L988.3,1295.1 L989.5,1295.1 L990.7,1295.0 L991.9,1294.9 L993.1,1294.8 L994.3,1294.8 L995.5,1294.7 L996.7,1294.6 L997.9,1294.6 L999.1,1294.5 L1000.3,1294.4 L1001.5,1294.4 L1002.7,1294.3 L1003.9,1294.3 L1005.1,1294.2 L1006.3,1294.2 L1007.5,1294.1 L1008.7,1294.1 L1009.9,1294.0 L1011.1,1294.0 L1012.3,1293.9 L1013.5,1293.9 L1014.7,1293.9 L1015.9,1293.9 L1017.1,1293.8 L1018.3,1293.8 L1019.5,1293.8 L1020.7,1293.8 L1021.9,1293.8 L1023.1,1293.8 L1024.3,1293.8 L1025.5,1293.8 L1026.7,1293.8 L1027.9,1293.8 L1029.1,1293.8 L1030.3,1293.8 L1031.5,1293.9 L1032.7,1293.9 L1033.9,1293.9 L1035.1,1293.9 L1036.3,1293.9 L1037.5,1294.0 L1038.7,1294.0 L1039.9,1294.0 L1041.1,1294.0 L1042.3,1294.1 L1043.5,1294.1 L1044.7,1294.1 L1045.9,1294.2 L1047.1,1294.2 L1048.3,1294.2 L1049.5,1294.3 L1050.7,1294.3 L1051.9,1294.3 L1053.1,1294.4 L1054.3,1294.4 L1055.5,1294.5 L1056.7,1294.5 L1057.9,1294.5 L1059.1,1294.6 L1060.3,1294.6 L1061.5,1294.7 L1062.7,1294.7 L1063.9,1294.8 L1065.1,1294.8 L1066.3,1294.9 L1067.5,1294.9 L1068.7,1295.0 L1069.9,1295.1 L1071.1,1295.1 L1072.3,1295.2 L1073.5,1295.3 L1074.7,1295.4 L1075.9,1295.5 L1077.1,1295.7 L1078.3,1295.8 L1079.5,1295.9 L1080.7,1296.0 L1081.9,1296.2 L1083.1,1296.3 L1084.3,1296.5 L1085.5,1296.6 L1086.7,1296.8 L1087.9,1297.0 L1089.1,1297.1 L1090.3,1297.3 L1091.5,1297.5 L1092.7,1297.6 L1093.9,1297.8 L1095.1,1298.0 L1096.3,1298.2 L1097.5,1298.3 L1098.7,1298.5 L1099.9,1298.7 L1101.1,1298.9 L1102.3,1299.0 L1103.5,1299.2 L1104.7,1299.4 L1105.9,1299.6 L1107.1,1299.7 L1108.3,1299.9 L1109.5,1300.0 L1110.7,1300.2 L1111.9,1300.3 L1113.1,1300.5 L1114.3,1300.6 L1115.5,1300.8 L1116.7,1300.9 L1117.9,1301.0 L1119.1,1301.2 L1120.3,1301.3 L1121.5,1301.5 L1122.7,1301.6 L1123.9,1301.7 L1125.1,1301.9 L1126.3,1302.0 L1127.5,1302.2 L1128.7,1302.3 L1129.9,1302.5 L1131.1,1302.6 L1132.3,1302.8 L1133.5,1303.0 L1134.7,1303.1 L1135.9,1303.3 L1137.1,1303.5 L1138.3,1303.7 L1139.5,1303.9 L1140.7,1304.1 L1141.9,1304.4 L1143.1,1304.7 L1144.3,1305.1 L1145.5,1305.4 L1146.7,1305.8 L1147.9,1306.1 L1149.1,1306.4 L1150.3,1306.7 L1151.5,1306.9 L1152.7,1307.0 L1153.9,1306.9 L1155.1,1306.3 L1156.3,1305.3 L1157.5,1304.0 L1158.7,1302.6 L1159.9,1301.2 L1161.1,1300.0 L1162.3,1299.2 L1163.5,1298.8 L1164.7,1299.3 L1165.9,1300.6 L1167.1,1302.4 L1168.3,1304.0 L1169.5,1305.0 L1170.7,1305.1 L1171.9,1304.3 L1173.1,1303.1 L1174.3,1301.8 L1175.5,1300.7 L1176.7,1300.2 L1177.9,1300.3 L1179.1,1300.6 L1180.3,1301.0 L1181.5,1301.6 L1182.7,1302.3 L1183.9,1303.0 L1185.1,1303.9 L1186.3,1304.8 L1187.5,1305.7 L1188.7,1306.6 L1189.9,1307.4 L1191.1,1308.3 L1192.3,1309.0 L1193.5,1309.6 L1194.7,1310.1 L1195.9,1310.5 L1197.1,1310.8 L1198.3,1311.0 L1199.5,1311.3 L1200.7,1311.5 L1201.9,1311.7 L1203.1,1311.9 L1204.3,1312.1 L1205.5,1312.2 L1206.7,1312.4 L1207.9,1312.6 L1209.1,1312.7 L1210.3,1312.8 L1211.5,1313.0 L1212.7,1313.1 L1213.9,1313.3 L1215.1,1313.4 L1216.3,1313.5 L1217.5,1313.6 L1218.7,1313.8 L1219.9,1313.9 L1221.1,1314.0 L1222.3,1314.2 L1223.5,1314.3 L1224.7,1314.4 L1225.9,1314.6 L1227.1,1314.7 L1228.3,1314.9 L1229.5,1315.1 L1230.7,1315.3 L1231.9,1315.4 L1233.1,1315.6 L1234.3,1315.8 L1235.5,1315.9 L1236.7,1316.1 L1237.9,1316.3 L1239.1,1316.5 L1240.3,1316.6 L1241.5,1316.8 L1242.7,1317.0 L1243.9,1317.2 L1245.1,1317.3 L1246.3,1317.5 L1247.5,1317.7 L1248.7,1317.9 L1249.9,1318.1 L1251.1,1318.3 L1252.3,1318.4 L1253.5,1318.6 L1254.7,1318.8 L1255.9,1319.0 L1257.1,1319.2 L1258.3,1319.4 L1259.5,1319.6 L1260.7,1319.9 L1261.9,1320.1 L1263.1,1320.3 L1264.3,1320.5 L1265.5,1320.8 L1266.7,1321.0 L1267.9,1321.2 L1269.1,1321.5 L1270.3,1321.7 L1271.5,1321.9 L1272.7,1322.2 L1273.9,1322.4 L1275.1,1322.7 L1276.3,1322.9 L1277.5,1323.2 L1278.7,1323.4 L1279.9,1323.7 L1281.1,1323.9 L1282.3,1324.1 L1283.5,1324.4 L1284.7,1324.6 L1285.9,1324.9 L1287.1,1325.1 L1288.3,1325.3 L1289.5,1325.6 L1290.7,1325.8 L1291.9,1326.0 L1293.1,1326.2 L1294.3,1326.5 L1295.5,1326.7 L1296.7,1326.9 L1297.9,1327.1 L1299.1,1327.3 L1300.3,1327.5 L1301.5,1327.7 L1302.7,1328.0 L1303.9,1328.2 L1305.1,1328.4 L1306.3,1328.6 L1307.5,1328.8 L1308.7,1329.0 L1309.9,1329.2 L1311.1,1329.4 L1312.3,1329.6 L1313.5,1329.8 L1314.7,1330.0 L1315.9,1330.3 L1317.1,1330.5 L1318.3,1330.7 L1319.5,1330.9 L1320.7,1331.1 L1321.9,1331.3 L1323.1,1331.4 L1324.3,1331.6 L1325.5,1331.8 L1326.7,1332.0 L1327.9,1332.2 L1329.1,1332.4 L1330.3,1332.6 L1331.5,1332.8 L1332.7,1332.9 L1333.9,1333.1 L1335.1,1333.3 L1336.3,1333.5 L1337.5,1333.6 L1338.7,1333.8 L1339.9,1334.0 L1341.1,1334.1 L1342.3,1334.3 L1343.5,1334.4 L1344.7,1334.6 L1345.9,1334.8 L1347.1,1334.9 L1348.3,1335.1 L1349.5,1335.2 L1350.7,1335.4 L1351.9,1335.5 L1353.1,1335.7 L1354.3,1335.8 L1355.5,1336.0 L1356.7,1336.1 L1357.9,1336.3 L1359.1,1336.4 L1360.3,1336.5 L1361.5,1336.7 L1362.7,1336.8 L1363.9,1337.0 L1365.1,1337.1 L1366.3,1337.3 L1367.5,1337.4 L1368.7,1337.5 L1369.9,1337.6 L1371.1,1338.0 L1372.3,1338.4 L1373.5,1338.4 L1374.7,1338.5 L1375.9,1339.1 L1377.1,1339.7 L1378.3,1339.3 L1379.5,1338.8 L1380.7,1338.7 L1381.9,1338.7 L1383.1,1339.1 L1384.3,1339.6 L1385.5,1340.6 L1386.7,1341.3 L1387.9,1340.2 L1389.1,1339.1 L1390.3,1338.9 L1391.5,1338.6 L1392.7,1338.7 L1393.9,1338.9 L1395.1,1338.9 L1396.3,1339.2 L1397.5,1340.5 L1398.7,1341.4 L1399.9,1340.3 L1401.1,1339.4 L1402.3,1339.5 L1403.5,1339.8 L1404.7,1341.4 L1405.9,1342.8 L1407.1,1343.6 L1408.3,1343.9 L1409.5,1342.0 L1410.7,1340.6 L1411.9,1341.4 L1413.1,1342.0 L1414.3,1341.4 L1415.5,1340.9 L1416.7,1341.7 L1417.9,1342.3 L1419.1,1342.6 L1420.3,1342.8 L1421.5,1342.1 L1422.7,1341.8 L1423.9,1343.1 L1425.1,1344.2 L1426.3,1344.2 L1427.5,1344.1 L1428.7,1343.4 L1429.9,1342.9 L1431.1,1343.1 L1432.3,1343.4 L1433.5,1343.5 L1434.7,1343.8 L1435.9,1344.6 L1437.1,1345.4 L1438.3,1345.9 L1439.5,1346.2 L1440.7,1345.6 L1441.9,1345.2 L1443.1,1345.8 L1444.3,1346.3 L1445.5,1346.2 L1446.7,1346.1 L1447.9,1346.0 L1449.1,1346.4 L1450.3,1348.2 L1451.5,1349.5 L1452.7,1348.3 L1453.9,1347.6 L1455.1,1349.3 L1456.3,1350.7 L1457.5,1350.1 L1458.7,1349.7 L1459.9,1349.6 L1461.1,1350.2 L1462.3,1353.7 L1463.5,1356.2 L1464.7,1353.0 L1465.9,1350.5 L1467.1,1350.9 L1468.3,1351.3 L1469.5,1351.8 L1470.7,1352.3 L1471.9,1352.9 L1473.1,1353.4 L1474.3,1353.8 L1475.5,1354.2 L1476.7,1355.3 L1477.9,1356.2 L1479.1,1355.8 L1480.3,1355.6 L1481.5,1356.4 L1482.7,1357.0 L1483.9,1357.0 L1485.1,1357.2 L1486.3,1359.0 L1487.5,1360.4 L1488.7,1359.8 L1489.9,1359.4 L1491.1,1359.8 L1492.3,1360.3 L1493.5,1361.0 L1494.7,1361.7 L1495.9,1362.6 L1497.1,1363.5 L1498.3,1364.2 L1499.5,1365.4 L1500.7,1368.3 L1501.9,1370.5 L1503.1,1368.8 L1504.3,1367.5 L1505.5,1368.0 L1506.7,1368.5 L1507.9,1369.2 L1509.1,1370.0 L1510.3,1370.9 L1511.5,1371.7 L1512.7,1372.8 L1513.9,1373.7 L1515.1,1374.0 L1516.3,1374.5 L1517.5,1375.7 L1518.7,1376.8 L1519.9,1377.4 L1521.1,1378.0 L1522.3,1378.5 L1523.5,1379.4 L1524.7,1381.8 L1525.9,1383.8 L1527.1,1383.5 L1528.3,1383.6 L1529.5,1385.3 L1530.7,1386.9 L1531.9,1388.2 L1533.1,1389.3 L1534.3,1388.7 L1535.5,1388.7 L1536.7,1391.2 L1537.9,1393.4 L1539.1,1393.7 L1540.3,1394.0 L1541.5,1394.2 L1542.7,1395.0 L1543.9,1398.9 L1545.1,1402.1 L1546.3,1401.2 L1547.5,1400.9 L1548.7,1403.6 L1549.9,1406.3 L1551.1,1407.9 L1552.3,1409.6 L1553.5,1410.8 L1554.7,1412.4 L1555.9,1415.1 L1557.1,1417.6 L1558.3,1418.5 L1559.5,1419.5 L1560.7,1421.3 L1561.9,1423.6 L1563.1,1428.2 L1564.3,1432.2 L1565.5,1433.0 L1566.7,1433.6 L1567.9,1433.8 L1569.1,1434.3 L1570.3,1436.3 L1571.5,1438.5 L1572.7,1441.4 L1573.9,1443.9 L1575.1,1445.1 L1576.3,1446.4 L1577.5,1447.9 L1578.7,1449.5 L1579.9,1451.3 L1581.1,1453.1 L1582.3,1454.8 L1583.5,1457.0 L1584.7,1460.0 L1585.9,1462.9 L1587.1,1465.1 L1588.3,1467.1 L1589.5,1468.6 L1590.7,1469.6 L1591.9,1470.4 L1593.1,1470.7 L1594.3,1470.8 L1595.5,1470.9 L1596.7,1471.1 L1597.9,1471.2 L1599.1,1471.2 L1600.3,1471.3 L1601.5,1471.3 L1602.7,1471.3 L1603.9,1471.2 L1605.1,1471.1 L1606.3,1470.8 L1607.5,1470.6 L1608.7,1470.3 L1609.9,1470.0 L1611.1,1469.8 L1612.3,1469.5 L1613.5,1469.3 L1614.7,1469.1 L1615.9,1469.0 L1617.1,1469.0 L1618.3,1469.2 L1619.5,1469.7 L1620.7,1470.4 L1621.9,1471.2 L1623.1,1472.3 L1624.3,1473.4 L1625.5,1474.6 L1626.7,1475.9 L1627.9,1477.2 L1629.1,1478.5 L1630.3,1480.0 L1631.5,1481.7 L1632.7,1483.7 L1633.9,1485.8 L1635.1,1488.0 L1636.3,1490.3 L1637.5,1492.7 L1638.7,1495.2 L1639.9,1497.8 L1641.1,1500.8 L1642.3,1504.1 L1643.5,1507.5 L1644.7,1510.9 L1645.9,1514.2 L1647.1,1517.4 L1648.3,1520.2 L1649.5,1522.6 L1650.7,1524.7 L1651.9,1526.8 L1653.1,1528.8 L1654.3,1530.6 L1655.5,1532.4 L1656.7,1534.1 L1657.9,1535.7 L1659.1,1537.3 L1660.3,1538.8 L1661.5,1540.3 L1662.7,1541.8 L1663.9,1543.4 L1665.1,1545.0 L1666.3,1546.6 L1667.5,1548.2 L1668.7,1549.6 L1669.9,1550.9 L1671.1,1552.1 L1672.3,1553.0 L1673.5,1553.6 L1674.7,1554.0 L1675.9,1554.1 L1677.1,1553.6 L1678.3,1552.8 L1679.5,1551.5 L1680.7,1550.0 L1681.9,1548.2 L1683.1,1546.2 L1684.3,1544.2 L1685.5,1542.2 L1686.7,1540.2 L1687.9,1538.3 L1689.1,1536.1 L1690.3,1533.7 L1691.5,1531.1 L1692.7,1528.5 L1693.9,1525.8 L1695.1,1523.2 L1696.3,1520.7 L1697.5,1518.3 L1698.7,1516.2 L1699.9,1514.3 L1701.1,1512.3 L1702.3,1510.4 L1703.5,1508.5 L1704.7,1506.9 L1705.9,1505.5 L1707.1,1504.5 L1708.3,1503.9 L1709.5,1503.4 L1710.7,1502.9 L1711.9,1502.5 L1713.1,1502.1 L1714.3,1501.8 L1715.5,1501.5 L1716.7,1501.4 L1717.9,1501.3 L1719.1,1501.5 L1720.3,1502.0 L1721.5,1502.9 L1722.7,1504.0 L1723.9,1505.2 L1725.1,1506.6 L1726.3,1508.0 L1727.5,1509.3 L1728.7,1510.5 L1729.9,1511.7 L1731.1,1513.0 L1732.3,1514.3 L1733.5,1515.6 L1734.7,1517.0 L1735.9,1518.4 L1737.1,1519.8 L1738.3,1521.3 L1739.5,1522.9 L1740.7,1524.5 L1741.9,1526.1 L1743.1,1527.8 L1744.3,1529.7 L1745.5,1531.9 L1746.7,1534.2 L1747.9,1536.7 L1749.1,1539.1 L1750.3,1541.4 L1751.5,1543.7 L1752.7,1545.6 L1753.9,1547.3 L1755.1,1548.6 L1756.3,1549.8 L1757.5,1551.0 L1758.7,1552.1 L1759.9,1553.2 L1761.1,1554.1 L1762.3,1554.8 L1763.5,1555.3 L1764.7,1555.5 L1765.9,1555.4 L1767.1,1554.8 L1768.3,1553.8 L1769.5,1552.6 L1770.7,1551.1 L1771.9,1549.5 L1773.1,1547.9 L1774.3,1545.9 L1775.5,1543.4 L1776.7,1540.4 L1777.9,1537.0 L1779.1,1533.4 L1780.3,1529.5 L1781.5,1525.3 L1782.7,1520.3 L1783.9,1514.7 L1785.1,1508.6 L1786.3,1502.1 L1787.5,1495.5 L1788.7,1488.8 L1789.9,1482.1 L1791.1,1475.2 L1792.3,1467.8 L1793.5,1460.2 L1794.7,1452.5 L1795.9,1445.1 L1797.1,1438.0 L1798.3,1431.5 L1799.5,1425.4 L1800.7,1419.4 L1801.9,1413.6 L1803.1,1408.2 L1804.3,1403.4 L1805.5,1399.3 L1806.7,1395.8 L1807.9,1392.5 L1809.1,1389.5 L1810.3,1386.7 L1811.5,1384.2 L1812.7,1382.1 L1813.9,1380.3 L1815.1,1378.9 L1816.3,1377.6 L1817.5,1376.4 L1818.7,1375.3 L1819.9,1374.2 L1821.1,1373.3 L1822.3,1372.5 L1823.5,1371.8 L1824.7,1371.3 L1825.9,1370.9 L1827.1,1370.6 L1828.3,1370.4 L1829.5,1370.1 L1830.7,1369.9 L1831.9,1369.7 L1833.1,1369.5 L1834.3,1369.4 L1835.5,1369.2 L1836.7,1369.1 L1837.9,1369.0 L1839.1,1368.9 L1840.3,1368.8 L1841.5,1368.8 L1842.7,1368.8 L1843.9,1368.8 L1845.1,1368.9 L1846.3,1368.9 L1847.5,1369.0 L1848.7,1369.2 L1849.9,1369.3 L1851.1,1369.5 L1852.3,1369.7 L1853.5,1369.8 L1854.7,1370.1 L1855.9,1370.3 L1857.1,1370.5 L1858.3,1370.7 L1859.5,1371.0 L1860.7,1371.2 L1861.9,1371.5 L1863.1,1371.7 L1864.3,1372.0 L1865.5,1372.2 L1866.7,1372.5 L1867.9,1372.7 L1869.1,1373.0 L1870.3,1373.3 L1871.5,1373.6 L1872.7,1374.0 L1873.9,1374.3 L1875.1,1374.7 L1876.3,1375.0 L1877.5,1375.4 L1878.7,1375.8 L1879.9,1376.2 L1881.1,1376.6 L1882.3,1377.1 L1883.5,1377.5 L1884.7,1377.9 L1885.9,1378.3 L1887.1,1378.8 L1888.3,1379.2 L1889.5,1379.6 L1890.7,1380.1 L1891.9,1380.5 L1893.1,1380.9 L1894.3,1381.3 L1895.5,1381.7 L1896.7,1382.2 L1897.9,1382.6 L1899.1,1383.1 L1900.3,1383.5 L1901.5,1384.0 L1902.7,1384.5 L1903.9,1385.1 L1905.1,1385.7 L1906.3,1386.3 L1907.5,1386.9 L1908.7,1387.6 L1909.9,1388.4 L1911.1,1389.3 L1912.3,1390.3 L1913.5,1391.5 L1914.7,1392.9 L1915.9,1394.3 L1917.1,1395.9 L1918.3,1397.5 L1919.5,1399.1 L1920.7,1400.8 L1921.9,1402.4 L1923.1,1404.0 L1924.3,1405.6 L1925.5,1407.1 L1926.7,1408.6 L1927.9,1410.1 L1929.1,1411.6 L1930.3,1413.1 L1931.5,1414.6 L1932.7,1416.1 L1933.9,1417.7 L1935.1,1419.3 L1936.3,1421.0 L1937.5,1422.8 L1938.7,1424.7 L1939.9,1426.6 L1941.1,1428.7 L1942.3,1431.2 L1943.5,1434.1 L1944.7,1437.2 L1945.9,1440.3 L1947.1,1443.4 L1948.3,1446.4 L1949.5,1448.9 L1950.7,1451.1 L1951.9,1452.7 L1953.1,1454.3 L1954.3,1455.7 L1955.5,1457.1 L1956.7,1458.3 L1957.9,1459.5 L1959.1,1460.5 L1960.3,1461.5 L1961.5,1462.4 L1962.7,1463.2 L1963.9,1463.9 L1965.1,1464.6 L1966.3,1465.2 L1967.5,1465.8 L1968.7,1466.3 L1969.9,1466.8 L1971.1,1467.3 L1972.3,1467.7 L1973.5,1468.2 L1974.7,1468.6 L1975.9,1469.0 L1977.1,1469.4 L1978.3,1469.9 L1979.5,1470.3 L1980.7,1470.8 L1981.9,1471.3 L1983.1,1471.9 L1984.3,1472.5 L1985.5,1473.1 L1986.7,1473.8 L1987.9,1474.6 L1989.1,1475.4 L1990.3,1476.2 L1991.5,1477.2 L1992.7,1478.1 L1993.9,1479.1 L1995.1,1480.2 L1996.3,1481.2 L1997.5,1482.3 L1998.7,1483.4 L1999.9,1484.5 L2001.1,1485.7 L2002.3,1486.8 L2003.5,1487.9 L2004.7,1489.1 L2005.9,1490.2 L2007.1,1491.4 L2008.3,1492.6 L2009.5,1493.9 L2010.7,1495.1 L2011.9,1496.4 L2013.1,1497.7 L2014.3,1499.0 L2015.5,1500.4 L2016.7,1501.7 L2017.9,1503.0 L2019.1,1504.4 L2020.3,1505.7 L2021.5,1507.1 L2022.7,1508.4 L2023.9,1509.8 L2025.1,1511.1 L2026.3,1512.4 L2027.5,1513.7 L2028.7,1514.9 L2029.9,1516.2 L2031.1,1517.5 L2032.3,1518.8 L2033.5,1520.1 L2034.7,1521.4 L2035.9,1522.7 L2037.1,1524.0 L2038.3,1525.4 L2039.5,1526.8 L2040.7,1528.3 L2041.9,1529.7 L2043.1,1531.3 L2044.3,1532.9 L2045.5,1534.5 L2046.7,1536.4 L2047.9,1538.3 L2049.1,1540.4 L2050.3,1542.6 L2051.5,1544.8 L2052.7,1547.0 L2053.9,1549.2 L2055.1,1551.4 L2056.3,1553.5 L2057.5,1555.5 L2058.7,1557.3 L2059.9,1559.0 L2061.1,1560.6 L2062.3,1562.2 L2063.5,1563.7 L2064.7,1565.2 L2065.9,1566.5 L2067.1,1567.7 L2068.3,1568.8 L2069.5,1569.8 L2070.7,1570.6 L2071.9,1571.4 L2073.1,1572.2 L2074.3,1572.8 L2075.5,1573.5 L2076.7,1574.1 L2077.9,1574.8 L2079.1,1575.4 L2080.3,1576.1 L2081.5,1576.8 L2082.7,1577.5 L2083.9,1578.3 L2085.1,1579.1 L2086.3,1580.0 L2087.5,1580.9 L2088.7,1581.7 L2089.9,1582.6 L2091.1,1583.5 L2092.3,1584.4 L2093.5,1585.3 L2094.7,1586.1 L2095.9,1586.9 L2097.1,1587.6 L2098.3,1588.3 L2099.5,1589.0 L2100.7,1589.7 L2101.9,1590.4 L2103.1,1591.0 L2104.3,1591.6 L2105.5,1592.2 L2106.7,1592.8 L2107.9,1593.4 L2109.1,1593.9 L2110.3,1594.4 L2111.5,1594.9 L2112.7,1595.4 L2113.9,1595.9 L2115.1,1596.3 L2116.3,1596.7 L2117.5,1597.1 L2118.7,1597.5 L2119.9,1597.9 L2121.1,1598.2 L2122.3,1598.6 L2123.5,1598.9 L2124.7,1599.3 L2125.9,1599.6 L2127.1,1600.0 L2128.3,1600.3 L2129.5,1600.7 L2130.7,1601.0 L2131.9,1601.4 L2133.1,1601.7 L2134.3,1602.1 L2135.5,1602.5 L2136.7,1602.9 L2137.9,1603.3 L2139.1,1603.7 L2140.3,1604.1 L2141.5,1604.4 L2142.7,1604.8 L2143.9,1605.2 L2145.1,1605.6 L2146.3,1606.0 L2147.5,1606.4 L2148.7,1606.9 L2149.9,1607.3 L2151.1,1607.7 L2152.3,1608.2 L2153.5,1608.7 L2154.7,1609.2 L2155.9,1609.8 L2157.1,1610.3 L2158.3,1611.0 L2159.5,1611.7 L2160.7,1612.4 L2161.9,1613.2 L2163.1,1614.0 L2164.3,1614.9 L2165.5,1615.7 L2166.7,1616.6 L2167.9,1617.5 L2169.1,1618.3 L2170.3,1619.2 L2171.5,1620.0 L2172.7,1620.9 L2173.9,1621.6 L2175.1,1622.4 L2176.3,1623.1 L2177.5,1623.7 L2178.7,1624.4 L2179.9,1625.1 L2181.1,1625.7 L2182.3,1626.4 L2183.5,1627.1 L2184.7,1627.8 L2185.9,1628.5 L2187.1,1629.3 L2188.3,1630.2 L2189.5,1631.1 L2190.7,1632.2 L2191.9,1633.4 L2193.1,1634.7 L2194.3,1636.1 L2195.5,1637.6 L2196.7,1639.0 L2197.9,1640.5 L2199.1,1641.9 L2200.3,1643.4 L2201.5,1644.8 L2202.7,1646.1 L2203.9,1647.3 L2205.1,1648.4 L2206.3,1649.5 L2207.5,1650.6 L2208.7,1651.7 L2209.9,1652.8 L2211.1,1653.8 L2212.3,1654.7 L2213.5,1655.6 L2214.7,1656.2 L2215.9,1656.7 L2217.1,1657.0 L2218.3,1657.3 L2219.5,1657.6 L2220.7,1657.8 L2221.9,1658.0 L2223.1,1658.2 L2224.3,1658.3 L2225.5,1658.4 L2226.7,1658.4 L2227.9,1658.3 L2229.1,1658.1 L2230.3,1657.6 L2231.5,1657.1 L2232.7,1656.4 L2233.9,1655.6 L2235.1,1654.8 L2236.3,1653.9 L2237.5,1653.0 L2238.7,1652.0 L2239.9,1651.1 L2241.1,1650.1 L2242.3,1649.0 L2243.5,1647.8 L2244.7,1646.4 L2245.9,1645.0 L2247.1,1643.5 L2248.3,1641.9 L2249.5,1640.2 L2250.7,1638.5 L2251.9,1636.8 L2253.1,1635.0 L2254.3,1633.2 L2255.5,1631.3 L2256.7,1629.2 L2257.9,1627.1 L2259.1,1624.8 L2260.3,1622.5 L2261.5,1620.2 L2262.7,1617.7 L2263.9,1615.3 L2265.1,1612.8 L2266.3,1610.3 L2267.5,1607.8 L2268.7,1605.3 L2269.9,1602.4 L2271.1,1599.3 L2272.3,1596.2 L2273.5,1593.0 L2274.7,1589.9 L2275.9,1587.1 L2277.1,1584.5 L2278.3,1582.3 L2279.5,1580.7 L2280.7,1579.4 L2281.9,1578.2 L2283.1,1577.0 L2284.3,1576.0 L2285.5,1575.1 L2286.7,1574.5 L2287.9,1574.2 L2289.1,1574.3 L2290.3,1574.8 L2291.5,1575.6 L2292.7,1576.7 L2293.9,1578.1 L2295.1,1579.5 L2296.3,1581.0 L2297.5,1582.5 L2298.7,1584.1 L2299.9,1586.0 L2301.1,1588.0 L2302.3,1590.3 L2303.5,1592.6 L2304.7,1595.1 L2305.9,1597.7 L2307.1,1600.3 L2308.3,1603.0 L2309.5,1606.1 L2310.7,1609.3 L2311.9,1612.7 L2313.1,1616.3 L2314.3,1619.8 L2315.5,1623.4 L2316.7,1626.8 L2317.9,1630.1 L2319.1,1633.2 L2320.3,1636.0 L2321.5,1638.9 L2322.7,1641.6 L2323.9,1644.3 L2325.1,1646.9 L2326.3,1649.4 L2327.5,1651.8 L2328.7,1654.0 L2329.9,1656.1 L2331.1,1658.3 L2332.3,1660.6 L2333.5,1662.7 L2334.7,1664.4 L2335.9,1665.4 L2337.1,1665.7 L2338.3,1665.7 L2339.5,1665.6 L2340.7,1665.5 L2341.9,1665.2 L2343.1,1664.8 L2344.3,1664.1 L2345.5,1663.3 L2346.7,1662.1 L2347.9,1660.7"/>
</g>
<g fill="none" stroke-width="8.6" stroke-linecap="round">
<line x1="1027.5" y1="181.3" x2="1177.5" y2="181.3" stroke="#000000"/>
<line x1="1025.5" y1="463.4" x2="1175.0" y2="463.4" stroke="#ff0000"/>
<line x1="1030.5" y1="692.4" x2="1180.5" y2="692.4" stroke="#0000ff"/>
<line x1="1030.0" y1="1003.8" x2="1180.0" y2="1003.8" stroke="#ff00ff"/>
<line x1="1018.0" y1="1235.1" x2="1168.0" y2="1235.1" stroke="#008000"/>
</g>
<g stroke="#000" stroke-width="9" fill="none" stroke-dasharray="22.6 17.54">
<line x1="472.6" y1="208.6" x2="472.6" y2="1596"/>
<line x1="1596.2" y1="208.6" x2="1596.2" y2="1596"/>
<line x1="1676.4" y1="208.6" x2="1676.4" y2="1596"/>
<line x1="1760.6" y1="208.6" x2="1760.6" y2="1596"/>
</g>
<line x1="621.5" y1="211.5" x2="504.8" y2="211.5" stroke="#000" stroke-width="8.8"/><path fill="#000" d="M479.8,211.5 L521.3,191.5 L508.8,211.5 L521.3,231.5 Z"/>
<line x1="1447" y1="213.8" x2="1564.3" y2="213.8" stroke="#000" stroke-width="8.8"/><path fill="#000" d="M1589.3,213.8 L1547.8,193.8 L1560.3,213.8 L1547.8,233.8 Z"/>
<line x1="1899.4" y1="216.2" x2="1787.4" y2="216.2" stroke="#000" stroke-width="8.8"/><path fill="#000" d="M1762.4,216.2 L1803.9,196.2 L1791.4,216.2 L1803.9,236.2 Z"/>
<line x1="1523.6" y1="1600.7" x2="1642.6" y2="1600.7" stroke="#000" stroke-width="8.8"/><path fill="#000" d="M1667.6,1600.7 L1626.1,1580.7 L1638.6,1600.7 L1626.1,1620.7 Z"/>
<g stroke="#000" stroke-width="8.6">
<line x1="174.7" y1="1784.5" x2="174.7" y2="1817.4"/>
<line x1="476.7" y1="1784.5" x2="476.7" y2="1817.4"/>
<line x1="778.7" y1="1784.5" x2="778.7" y2="1817.4"/>
<line x1="1080.7" y1="1784.5" x2="1080.7" y2="1817.4"/>
<line x1="1382.7" y1="1784.5" x2="1382.7" y2="1817.4"/>
<line x1="1684.7" y1="1784.5" x2="1684.7" y2="1817.4"/>
<line x1="1986.7" y1="1784.5" x2="1986.7" y2="1817.4"/>
<line x1="2288.7" y1="1784.5" x2="2288.7" y2="1817.4"/>
<line x1="325.7" y1="1784.5" x2="325.7" y2="1801.2"/>
<line x1="627.7" y1="1784.5" x2="627.7" y2="1801.2"/>
<line x1="929.7" y1="1784.5" x2="929.7" y2="1801.2"/>
<line x1="1231.7" y1="1784.5" x2="1231.7" y2="1801.2"/>
<line x1="1533.7" y1="1784.5" x2="1533.7" y2="1801.2"/>
<line x1="1835.7" y1="1784.5" x2="1835.7" y2="1801.2"/>
<line x1="2137.7" y1="1784.5" x2="2137.7" y2="1801.2"/>
</g>
<g font-family="'Liberation Serif',serif" font-weight="bold" fill="#000">
<text transform="translate(174.7,1901) scale(1,1.035)" font-size="75" text-anchor="middle">4000</text>
<text transform="translate(476.7,1901) scale(1,1.035)" font-size="75" text-anchor="middle">3500</text>
<text transform="translate(778.7,1901) scale(1,1.035)" font-size="75" text-anchor="middle">3000</text>
<text transform="translate(1080.7,1901) scale(1,1.035)" font-size="75" text-anchor="middle">2500</text>
<text transform="translate(1382.7,1901) scale(1,1.035)" font-size="75" text-anchor="middle">2000</text>
<text transform="translate(1684.7,1901) scale(1,1.035)" font-size="75" text-anchor="middle">1500</text>
<text transform="translate(1986.7,1901) scale(1,1.035)" font-size="75" text-anchor="middle">1000</text>
<text transform="translate(2288.7,1901) scale(1,1.035)" font-size="75" text-anchor="middle">500</text>
<text transform="translate(498.6,185.8) scale(1,1.02)" font-size="68">3500</text>
<text transform="translate(1449.1,180.6) scale(1,1.02)" font-size="68">1650</text>
<text transform="translate(1760.1,178.6) scale(1,1.02)" font-size="68">1380</text>
<text transform="translate(1375.5,1623.7) scale(1,1.02)" font-size="68">1520</text>
<text x="1192" y="203.5" font-size="68">(a)</text>
<text x="1190" y="485" font-size="68">(b)</text>
<text x="1195" y="714" font-size="68">(c)</text>
<text x="1194.5" y="1026.8" font-size="68">(d)</text>
<text x="1181.7" y="1257.4" font-size="68">(e)</text>
<text transform="translate(862,2046) scale(1,1.015)" font-size="92">Wavenumber (cm<tspan font-size="63" dy="-37.5">−1</tspan><tspan dy="37.5">)</tspan></text>
<text transform="translate(86.5,908.6) rotate(-90)" font-size="76.4" text-anchor="middle">Transmittance (a.u.)</text>
</g>
</svg>
</body>
</html>
